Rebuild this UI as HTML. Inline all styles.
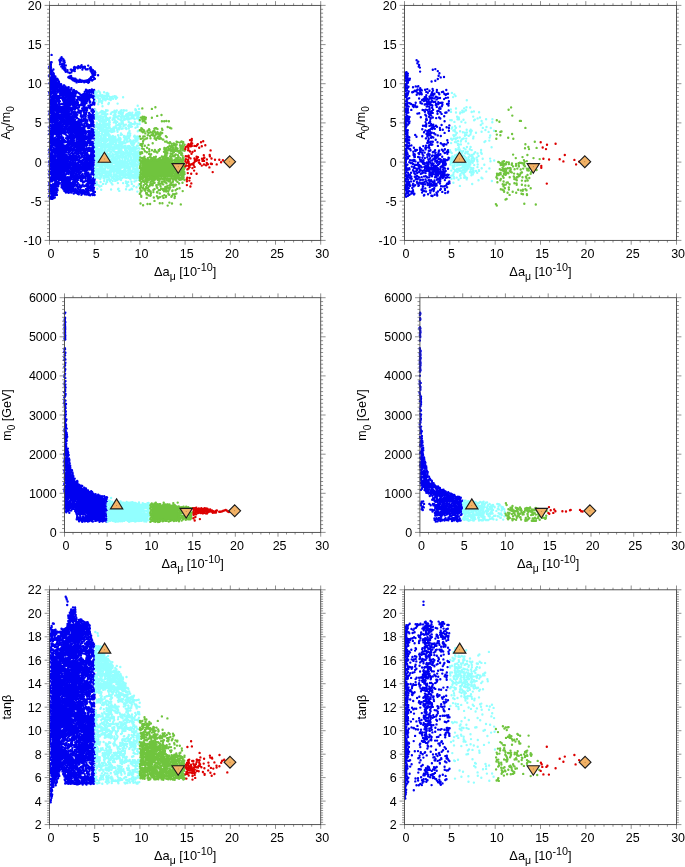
<!DOCTYPE html>
<html><head><meta charset="utf-8"><title>chart</title>
<style>html,body{margin:0;padding:0;background:#fff}svg{display:block;will-change:transform}text{font-family:"Liberation Sans",sans-serif;font-size:12.5px;fill:#000}</style>
</head><body>
<svg width="685" height="867" viewBox="0 0 685 867">
<rect width="685" height="867" fill="#fff"/>
<path d="M50.8 67.5h0.5M50.8 68.5h0.8M50.8 69.5h1M50.8 70.5h1.2M50.8 71.5h1.2M50.8 72.5h1.5M50.8 73.5h1.8M50.8 74.5h2.5M50.8 75.5h3M50.8 76.5h3.8M50.8 77.5h4.2M50.8 78.5h5M50.8 79.5h5.5M50.8 80.5h6.2M50.8 81.5h6.8M50.8 82.5h7.5M50.8 83.5h8.5M50.8 84.5h10M50.8 85.5h11.8M50.8 86.5h13.5M50.8 87.5h15.2M50.8 88.5h6.2M58.2 88.5h10.2M50.8 89.5h5.2M59.2 89.5h11M51.2 90.5h4.8M59.5 90.5h10.8M89 90.5h2.8M51.8 91.5h5.2M59.8 91.5h11.5M71.8 91.5h2.8M86.2 91.5h3.5M51 92.5h5.8M60.8 92.5h14M85.5 92.5h3.2M52 93.5h4.2M61 93.5h13.2M84.8 93.5h3.8M52.8 94.5h4.2M60.5 94.5h1M62 94.5h12.2M84 94.5h5.2M51.8 95.5h6.2M63 95.5h11.2M81.5 95.5h8.8M50.8 96.5h5.5M66.2 96.5h8M80.5 96.5h8.5M90.5 96.5h2.8M50.8 97.5h4.5M67.2 97.5h7M78.5 97.5h9.5M50.8 98.5h4.5M67.2 98.5h7M78.8 98.5h2.2M82 98.5h6M50.8 99.5h5M66.2 99.5h8.5M77.8 99.5h2.2M83 99.5h5.5M50.8 100.5h6M57.5 100.5h0.8M63.5 100.5h12.2M76.5 100.5h1.2M83 100.5h3.8M50.8 101.5h7.2M63.5 101.5h13.2M82.2 101.5h3.5M50.8 102.5h6.8M63.5 102.5h13.2M82.5 102.5h2.8M50.8 103.5h6.8M63 103.5h14M82.8 103.5h1.5M92 103.5h1.2M50.8 104.5h7.8M63.2 104.5h13.2M81.8 104.5h1.5M50.8 105.5h8M63.5 105.5h7M71.5 105.5h4M50.8 106.5h9M62.8 106.5h6.8M72.5 106.5h3.8M50.8 107.5h19.2M72 107.5h3.5M83.2 107.5h1M50.8 108.5h23.8M83.5 108.5h2.2M50.8 109.5h4.2M55.5 109.5h18.5M83.2 109.5h2.5M91.5 109.5h1.2M50.8 110.5h3.2M56.5 110.5h13M71.8 110.5h1.5M82.2 110.5h3.2M92 110.5h1.2M50.8 111.5h2.8M61 111.5h7.5M72.8 111.5h1M79.2 111.5h2.8M83 111.5h1.8M50.8 112.5h3.8M62 112.5h6.2M73 112.5h1.2M79 112.5h2M84.2 112.5h0.8M50.8 113.5h6M62.5 113.5h6.8M50.8 114.5h7.5M61.8 114.5h8.2M74.2 114.5h0.5M92.8 114.5h0.5M50.8 115.5h8.5M60.8 115.5h10M73.2 115.5h2.5M84.5 115.5h1.2M88.5 115.5h1.8M91.8 115.5h1.5M50.8 116.5h14M68 116.5h8.2M89 116.5h4.2M50.8 117.5h13M69 117.5h6M89.2 117.5h4M50.8 118.5h14M68.2 118.5h6M90.2 118.5h3M50.8 119.5h6.5M58.5 119.5h7.2M67.2 119.5h7M84.5 119.5h0.8M91 119.5h2.2M50.8 120.5h5.5M59.5 120.5h15M78.8 120.5h1.2M84.5 120.5h1.8M50.8 121.5h6M59 121.5h16.5M77 121.5h2.8M84.2 121.5h2.2M50.8 122.5h0.5M53 122.5h26.5M84.2 122.5h2.8M54 123.5h8.8M64.5 123.5h1.2M67.5 123.5h13M83.2 123.5h4.8M91.5 123.5h1.2M53.2 124.5h8.5M68.5 124.5h14M83.5 124.5h2M87.5 124.5h1.5M90 124.5h3.2M50.8 125.5h10.2M69.2 125.5h12.2M88.5 125.5h3M50.8 126.5h11M68.5 126.5h12.8M89 126.5h1.2M50.8 127.5h12M64 127.5h2M67.5 127.5h14.5M50.8 128.5h32.5M50.8 129.5h32.2M50.8 130.5h14M67.2 130.5h16.8M92 130.5h1M50.8 131.5h13M68.2 131.5h7M76 131.5h9.5M89.2 131.5h4M50.8 132.5h10.8M69 132.5h5.2M77 132.5h9.2M87 132.5h5.2M50.8 133.5h9.8M69.5 133.5h4.2M77.5 133.5h7.8M88 133.5h3.8M50.8 134.5h4M56.2 134.5h4M69.5 134.5h5.2M76.5 134.5h8.2M88.8 134.5h4M50.8 135.5h3M57.2 135.5h3.2M69 135.5h16.8M87.8 135.5h5.5M50.8 136.5h2.2M57.8 136.5h3.5M68.5 136.5h24.8M50.8 137.5h2.8M57 137.5h4.2M66.8 137.5h26.5M50.8 138.5h3.8M56 138.5h5.2M68.5 138.5h7M76 138.5h15.2M50.8 139.5h9.5M69.5 139.5h5M77 139.5h8.2M87.5 139.5h2.8M50.8 140.5h9.5M69.5 140.5h4.2M77.5 140.5h6.8M88.5 140.5h1.5M50.8 141.5h10.2M68.8 141.5h6M76.5 141.5h8.5M88 141.5h2.5M50.8 142.5h12M68 142.5h18M87 142.5h4.5M50.8 143.5h12M67.8 143.5h18.5M88.8 143.5h4M50.8 144.5h12.8M67.2 144.5h18.2M91 144.5h2.2M50.8 145.5h13.8M66.2 145.5h4.5M72.2 145.5h13.8M92 145.5h1.2M50.8 146.5h2.5M54.2 146.5h15.5M73.2 146.5h12M92.5 146.5h0.8M50.8 147.5h1.5M55.2 147.5h14.8M72.8 147.5h1.2M75 147.5h10.5M50.8 148.5h1M54.8 148.5h16.2M71.8 148.5h1.2M76 148.5h10.5M88.5 148.5h1.5M92.5 148.5h0.8M50.8 149.5h2M53.8 149.5h19.5M75.8 149.5h15.2M91.5 149.5h1.8M50.8 150.5h23.5M76.2 150.5h11.5M89.8 150.5h3.5M50.8 151.5h16.2M68 151.5h3.2M71.8 151.5h2M77.2 151.5h4.5M82.5 151.5h4.2M90.8 151.5h2.5M50.8 152.5h15.2M69 152.5h1.2M77.5 152.5h0.5M83.5 152.5h2.5M91.5 152.5h1.8M50.8 153.5h0.8M53.5 153.5h11.8M85.8 153.5h0.5M91 153.5h2.2M54.5 154.5h1M56.8 154.5h8.2M69.8 154.5h0.8M72.2 154.5h2.2M76.2 154.5h0.8M90 154.5h3.2M53.8 155.5h0.8M57.8 155.5h8.2M68.8 155.5h8.5M82 155.5h0.8M86.5 155.5h1.2M89 155.5h4.2M52 156.5h1.8M58.5 156.5h19.8M81 156.5h2.8M85.5 156.5h7.8M51 157.5h3.5M58 157.5h21M82.2 157.5h11M50.8 158.5h4.8M57 158.5h19.5M83.2 158.5h10M50.8 159.5h24.5M83.5 159.5h1.8M87 159.5h6.2M50.8 160.5h18.8M71 160.5h3.2M82.5 160.5h1.8M88 160.5h5.2M50.8 161.5h17.8M72 161.5h2.2M79.5 161.5h4.2M88.2 161.5h5M50.8 162.5h17.8M72.2 162.5h2M78.5 162.5h6M87.2 162.5h6M50.8 163.5h18.8M71.2 163.5h3.8M77.5 163.5h1M80.8 163.5h12.5M50.8 164.5h22.2M74 164.5h3.5M81.8 164.5h10.8M50.8 165.5h21.2M75 165.5h3M81.5 165.5h10.8M50.8 166.5h20.5M75.5 166.5h3.5M80.5 166.5h12.2M50.8 167.5h20.2M74.8 167.5h18M50.8 168.5h19.2M73 168.5h14.8M90 168.5h2.8M50.8 169.5h19M73.5 169.5h13M91 169.5h2.2M50.8 170.5h19.5M72.8 170.5h8M91.8 170.5h1.5M50.8 171.5h13.5M66 171.5h5.2M71.8 171.5h8M92 171.5h1.2M50.8 172.5h12.5M67 172.5h8.5M76.5 172.5h2.8M91.8 172.5h1.5M50.8 173.5h12M69.2 173.5h5.2M77.5 173.5h2M85.5 173.5h2M91 173.5h0.5M92.8 173.5h0.5M50.8 174.5h13M70.2 174.5h4.2M77.5 174.5h3M84.2 174.5h4.2M90 174.5h0.5M50.8 175.5h15M71 175.5h3.5M76.5 175.5h1.2M78.8 175.5h5.2M86 175.5h3.8M50.8 176.5h15M70.2 176.5h3.2M79.8 176.5h3.2M87 176.5h2.8M50.8 177.5h16M69.2 177.5h4.8M81 177.5h1.2M87.5 177.5h3M50.8 178.5h7.8M60 178.5h11M72.8 178.5h2.2M87.2 178.5h4.2M92.5 178.5h0.8M50.8 179.5h6.8M61 179.5h9M73.8 179.5h2.5M87 179.5h6.2M50.8 180.5h0.5M53.2 180.5h3.8M61.8 180.5h7.5M74 180.5h2.8M86.2 180.5h7M54.2 181.5h3.8M61 181.5h9.2M73.2 181.5h3.5M82.5 181.5h0.5M87 181.5h6M55 182.5h3.5M60.5 182.5h15.8M88.8 182.5h4M54 183.5h3.8M61.2 183.5h15M89.8 183.5h3.5M53 184.5h4.5M61.8 184.5h15.5M90.5 184.5h2.8M51.5 185.5h5.5M62.2 185.5h15.2M86.2 185.5h0.5M89.5 185.5h3.8M50.8 186.5h6M62.8 186.5h12.5M87.2 186.5h6M50.8 187.5h5.5M63.2 187.5h11M87.5 187.5h5.8M50.8 188.5h4.5M63.8 188.5h10.5M87.2 188.5h6M50.8 189.5h4.8M64 189.5h11.2M86.5 189.5h1.5M89.8 189.5h3.5M50.8 190.5h5.2M65 190.5h2.2M69.8 190.5h6.8M50.8 191.5h5M70.8 191.5h6.2M81.8 191.5h1.2M85.8 191.5h1M50.8 192.5h4.8M77.5 192.5h9.8M50.8 193.5h4.8M50.8 194.5h4.5M50.8 195.5h4.2M50.8 196.5h3.5" stroke="#0000f0" stroke-width="1.3" fill="none"/><path d="M51.6 54.9h0m10 2.3h0m-2.2 2.9h0m0.5 1.3h0m0.7-2.9h0m0.4 2h0m1.7-1.9h0m0.6 2.5h0m0.2-1.7h0m0.8 1.4h0m-14 1.6h0m0.1 1.7h0m0.3-0.4h0m0.2 0.8h0m0.7-2.2h0m8.4 1.9h0m0.1-2.3h0m2.1 1.9h0m1.1 0h0m0.6 0.1h0m0.8-1.5h0m-15.4 4.3h0m1.1-1h0m0.5 0.3h0m10.4 0.6h0m0.9-1.7h0m0.6 2.3h0m0.9-2.6h0m0.7 1.7h0m1.4-0.9h0m8.2 2h0m0.6-0.5h0m2.1 0.5h0m1.6-1.3h0m0.7 1.2h0m0.7-0.3h0m1.4-0.7h0m0.5-1h0m0 1.5h0m1.9 0.1h0m1.2 0.2h0m0.2-0.3h0m3.3-1.2h0m2.5 1.6h0m-41.3 1h0m1.1 1h0m0.3 0.9h0m0.2-2.3h0m2.4 1.6h0m9.3-1h0m1.6 1.3h0m0.3-2h0m0.7 0.6h0m0.1 0.6h0m2.1 1.2h0m3.2-0.5h0m0.8 0h0m2.2 0.4h0m0.5-1.5h0m0 1.7h0m0.6-2h0m0.1 1h0m2.7-1.2h0m0.2 0.2h0m0.4-0.5h0m2.1 0.1h0m2.1 1.8h0m0.4-1.7h0m2-0.4h0m0.2 0.6h0m0.8 1.2h0m0.1 0h0m1 0.1h0m0.7-0.1h0m2.2-1h0m0.7 1.3h0m0.1 0h0m0.2-1.7h0m0.2 1h0m0.3-0.3h0m1.7 1.7h0m-42.7 1.8h0m0.3-1.4h0m0.4 1.9h0m0.5-1.9h0m0.9 0.3h0m0.9 2.2h0m0.1-0.1h0m11.7-2.6h0m0.2 0.6h0m0.4 0.7h0m1.6-0.3h0m1.1 0.9h0m1.4 0.6h0m1.5-0.6h0m0.8-1.6h0m1.7-0.2h0m1 0.5h0m15.8-0.3h0m0.2-0.1h0m0.7 1.5h0m0.4-0.5h0m0.6-0.5h0m0.1-0.6h0m0.6 2.7h0m1.1 0.2h0m0.3-0.8h0m0.2-1.3h0m0.5 1.2h0m-46 3.7h0m0.1-1.1h0m0.8-1.3h0m2.6 0.9h0m1-0.8h0m0.1 1.4h0m16.5 0.7h0m0.7-0.2h0m21.1-2.3h0m0.1 2.7h0m0.2-2.2h0m0.1 1.8h0m0.1-1h0m0.5 0h0m0.4 0.6h0m1.6-0.7h0m2.9 0.4h0m-47.9 3.4h0m0.8-0.9h0m3.6-0.6h0m0.8 0.9h0m0-1.5h0m0.3 2.9h0m1.3-0.7h0m0.6 0.5h0m10.7-1.9h0m0.8-0.7h0m0.3 1.4h0m0.8-0.3h0m0.9-0.3h0m0.4 1.7h0m0.2-1.5h0m1.3 1.3h0m0.8-0.4h0m0.1 0.2h0m0.3 0.6h0m1.2-0.7h0m13.7 0.9h0m0.3-0.5h0m0.8-0.5h0m0.1-0.2h0m0.6-0.3h0m0.1-0.7h0m0.3-0.4h0m1.3 0h0m0.3-0.2h0m1 0.9h0m1 1.1h0m-44.7 1.1h0m0.2 1.3h0m0.4-0.5h0m0.5 1.7h0m5.5-1.9h0m1.2-0.1h0m0.4 0.3h0m0.6 1.4h0m13.6-2.2h0m0.5 0.4h0m1.5 0.8h0m0.2-0.2h0m1.4 0.2h0m0.1 0.8h0m0.1-2.2h0m0.2 2.8h0m0.3-1.8h0m1.1 0.2h0m0.9 1.1h0m0-0.5h0m0.8-1.6h0m1 0.5h0m0.1 1.5h0m0.1 0h0m0.8 0h0m0.6-0.9h0m0.1 0.5h0m0.1-0.8h0m1.7 0.3h0m0 1.4h0m0.4-1h0m0.9-0.1h0m0.1-0.4h0m0.8 1.1h0m0.9-1.8h0m0.4 2h0m0.6-1.5h0m0.5 1h0m0.3 0.4h0m0.7-1.7h0m1.8-0.7h0m0.5 1h0m1.2-1h0m-43.8 3.6h0m0.6 1.2h0m1 0.8h0m8.3-1.4h0m0.6 0.6h0m1.1-0.3h0m2.6 1.4h0m0.5 0h0m24-2.8h0m-37.9 3.5h0m0.1 1.3h0m0.5 0.9h0m0.3-1.5h0m14.3-0.1h0m0.7 1.1h0m1.6-0.4h0m0.9-0.2h0m2.7 0.9h0m-21.2 2.2h0m0.3 0.7h0m0.2-2.5h0m0.3 2.9h0m4.9-2.2h0m0.6-0.7h0m0.7 2.5h0m0.4-1.8h0m0.6 1.6h0m0.8-0.9h0m0.9 0.1h0m8.6-1.3h0m0.2 0.4h0m2.1 0.5h0m0.5-0.5h0m2 1.3h0m0.5 0.9h0m0.1-1.4h0m2.1 1.3h0m9.9-0.7h0m0.1-0.8h0m1.2 0.6h0m2.1-0.1h0m0.5 1h0m0.4-0.9h0m1.7-1h0m0.1 2h0m2.1-1.5h0m-44.8 2.4h0m0.2 1.4h0m1.5-1h0m0.4 1h0m4.4 0.3h0m0.7-0.4h0m1.3-1.5h0m1.9-0.4h0m0.1 1.7h0m0.5 0.6h0m0.9-1.6h0m0.1 2h0m12.8-2.8h0m0.9 1.2h0m0.1 1.3h0m0.8-0.6h0m0.4-1.4h0m0.5-0.4h0m1.7 1.2h0m1 0.7h0m3.8 0.5h0m1.3-1h0m0.2-1.5h0m2.3-0.1h0m2.1 1.3h0m0.1 1.4h0m1.3-2.2h0m1.2 0.2h0m1.3-0.2h0m0.7 0.9h0m0.9-1.4h0m-44.7 3.9h0m1 0.9h0m4.3 0.7h0m1.9-0.7h0m0.1 1.1h0m1.2-1.2h0m0.1 0.9h0m1.3-1.5h0m2.1-0.3h0m0.3-0.3h0m0.5 1.4h0m0.2-1.5h0m1.6 2.4h0m1.6-0.2h0m0.2-0.8h0m8.6-0.6h0m0.5 0.3h0m2.3 1h0m1.9 0h0m0.7-2.3h0m0.5 0.2h0m1.5 0.5h0m0.1-0.8h0m1.7 0.1h0m5.5 1.7h0m0.6 0.9h0m0.5-2h0m0.5-0.7h0m0.2 2.5h0m0.2-1.3h0m1.8 0h0m1.3 0.2h0m-45.1 3.1h0m0.3-1.4h0m0.1 2.2h0m1 0.3h0m3.9-1.8h0m0.9-0.4h0m1 1.7h0m0.6-0.9h0m1.3 1.2h0m0.1-1h0m1.4-1.1h0m1-0.2h0m0.8 0.8h0m0.4-0.3h0m0.5 1.7h0m1.6-0.8h0m0 0.5h0m1.1 0.3h0m1-0.2h0m0.1-2.2h0m0.9 1.1h0m6.4 0.8h0m0.2-1.7h0m0.3 1h0m2.1 1.3h0m0.9-0.5h0m0.3-0.3h0m0.5-1.3h0m1.3 1.7h0m0.3 0.5h0m1.5-2.2h0m0.1 1.7h0m2.1 0.2h0m4.3-0.3h0m0.3-1.6h0m0.3 1.4h0m0.6-0.2h0m4-1.1h0m0.3-0.4h0m0.6 1.9h0m0.3 1h0m-44.3 1.8h0m0.4-0.3h0m0.5 1.2h0m7.2-1.9h0m1.7-0.1h0m3.6 0.1h0m0 2.2h0m0.3-2.1h0m0.2 1.9h0m12.6-0.3h0m0.1-0.9h0m0.7-0.5h0m0.5 0.9h0m3.7-0.7h0m0.2 0.6h0m1.6 1h0m0.2-2.7h0m2.4 1h0m0.5 1.3h0m0.5-1.7h0m2.6 0.2h0m0.2 1.1h0m0.3-1.1h0m2.6 1.3h0m0.6 0.7h0m0.7-2.5h0m0.7 0.8h0m-44.3 4.4h0m0.2-2.1h0m0.3 0.2h0m0.2 1.4h0m7.9 0.5h0m0-2.7h0m0.1 0.5h0m0.5 0.2h0m0.8 2.2h0m1.1-2.5h0m1.6 0h0m0 2.6h0m7-0.9h0m5.7 0.5h0m1-0.7h0m1.3-0.9h0m0.8 0.5h0m0.5 0.4h0m1.8-1.2h0m0.1 0.9h0m1.3 0.1h0m0.4-0.9h0m1.1 1.4h0m0.4-2.1h0m0.3 1.1h0m3.6 1.1h0m2.1-1h0m0.2 0.3h0m1-0.2h0m1.6-1.3h0m0.9 1h0m0.2-1h0m-44.3 3.5h0m0.1 2h0m0.7-2.4h0m0.3 1.7h0m8.3-1.9h0m1.5 1.5h0m0.6-0.7h0m1.3-0.7h0m6.5 0.8h0m0.7 0.5h0m1.1 1.4h0m1-1.6h0m2.7 1.3h0m1.2-1.1h0m0.4 0.1h0m1.1-0.2h0m1.4-0.6h0m3.2 1.3h0m0.6 0.4h0m1-1.7h0m0.9 0.9h0m0.3-0.5h0m1-0.2h0m0.6 0.8h0m0.7 0.1h0m1.1-1h0m1.7-0.7h0m0 1.6h0m2.3 1.2h0m-42.9 2.2h0m0.4-1.1h0m1.4 0.2h0m1.6 0.6h0m0.9 0.8h0m0.8-1.9h0m1-0.1h0m0.5 0.9h0m0.8 0.8h0m1-1.5h0m1.3 1.5h0m0.9-1.2h0m0.7 1.6h0m0.1-0.4h0m8-0.5h0m1.8-1.1h0m0.3-0.2h0m0.3 1.1h0m1.8 1.1h0m1.7-0.2h0m0.1-2.5h0m0.5 2.6h0m2.2 0.1h0m0.6 0.3h0m0.2-2.7h0m1.1 2.7h0m0-1h0m0.7-0.5h0m1.2 0.6h0m0.2-0.8h0m1.3-0.4h0m2.5-0.2h0m0.8-0.2h0m0.4 1.9h0m0.5-2h0m4.4 0.5h0m0 0.9h0m2.1-0.5h0m0.4 0.8h0m0.5-2h0m-45.1 4.5h0m0.3-0.6h0m1.6-0.8h0m3.8 0.8h0m1.7-0.5h0m1.7 0.1h0m0.5 1.7h0m1 0.3h0m1.3 0.1h0m0.2-1.8h0m0.3 1.1h0m0.6-1.9h0m4.3 2.5h0m2.2-2.3h0m0.7 0.3h0m0.6 1.4h0m1.5-0.3h0m0.1-1.4h0m2.1 0.5h0m0.1 1.2h0m0.9-1.8h0m0.7 2.5h0m0.2-2h0m1.5 1.5h0m3.4-1.2h0m0.4 1.7h0m0.3 0h0m2.4-0.4h0m0.2-2.3h0m0.2 2.7h0m0.5-2.4h0m0.3 2h0m0.9-0.5h0m0.2-1.4h0m3 0h0m0.6 1h0m1.3 1.1h0m1.2 0.3h0m0.6-2.2h0m0.2 2.1h0m1.3-0.1h0m-44.1 2.1h0m0.2-1.6h0m10.2 0.9h0m2.8 1.2h0m1.6-1.1h0m0.1 0.5h0m0.5-1.5h0m1 1.1h0m0.8 0.1h0m1 0.7h0m0.7 0.7h0m3.3-2.3h0m0.3 1h0m1.9 0.6h0m1.1-0.6h0m1.1-1.3h0m0.3 2.3h0m3.7-1.7h0m1 1.2h0m0.5-1.1h0m0.9 0.1h0m2.3 0.9h0m0.3-1.3h0m2.5-0.4h0m0.3 1.9h0m0.3-1.5h0m1 1.1h0m1.2-0.6h0m2.3 0.4h0m0.1 1.3h0m0.1-1.7h0m1 0.9h0m-45.1 1.7h0m0.3 1.9h0m0.2 0.2h0m1.1-2.2h0m5.3 2h0m1-0.9h0m0.7 0h0m7.6-1.4h0m0.3 0.9h0m1-1.1h0m0.9 1.2h0m6.4 1.1h0m0.9-1.3h0m3.4 0.9h0m0.1-1.1h0m1.7 0.6h0m0.2 1.6h0m0.7-0.2h0m0.2-1.7h0m1.5 0.6h0m0.1 0.8h0m0.8-2.3h0m0.6 0.3h0m0.2 1.4h0m0.8-0.4h0m0.8-0.5h0m0.9 1.7h0m0.1-1.1h0m2.2-1.1h0m0.3 1.2h0m0.7-0.7h0m0.3 1.9h0m0.4-1.6h0m0.2 1.3h0m0.3-1.2h0m1.1 0.9h0m1.7-2.3h0m-44.5 4.1h0m0.9-0.6h0m1.1 0.7h0m1.2-0.3h0m4.4-0.8h0m0.7 0.7h0m5.1 1.9h0m0.2-0.8h0m0.4-0.5h0m1.1 1.3h0m1.3-1.1h0m1.1 1.3h0m0.5-0.7h0m0.3 0.5h0m7.1-2.6h0m2.1 0h0m2.2 1h0m1.8 0.6h0m5.6 0.6h0m4.1 0.3h0m0.1-0.9h0m0.6 0.2h0m1.2 0.1h0m0.2-1.4h0m-43.4 3.5h0m0.3-0.5h0m0.9 0.1h0m0.2 0.6h0m1.7-0.8h0m8.8 0.9h0m0.3-0.9h0m0.5 2h0m1-0.4h0m1.2 0.6h0m1-1.9h0m0.4 1.9h0m0.4-0.6h0m1.3-0.7h0m14-1.1h0m0.5 2.7h0m0.2-2.7h0m1.4 1.3h0m0.4 1.2h0m0-1.4h0m1.4 0.3h0m1-1.6h0m1.1 2.1h0m0.2-2.1h0m1.1 1.7h0m0.3-1h0m0.7 1.2h0m1.7-0.6h0m2-0.8h0m0.2 1.5h0m-44.6 0.9h0m1 1.1h0m1 0.1h0m14 1.7h0m1.8-2.2h0m15.5-0.2h0m0 2h0m0.8-0.8h0m0.8-0.1h0m3.8-1.1h0m0.8 0.1h0m2.3 1h0m0.4-0.5h0m1.5 1.1h0m0.6 0.7h0m0.9-0.2h0m-45.2 0.5h0m0.5 2.3h0m0.2-1.8h0m0.8 0.5h0m0.1-0.8h0m9.5 2.1h0m1-1h0m1.6 0.4h0m0.1 0.3h0m1.1-1.9h0m0.2 0.5h0m0.8 1.2h0m1.8-0.3h0m0.7-1.7h0m0.6 2.3h0m6.1 0.5h0m0.2-0.9h0m0.9 0.3h0m0.3-1.3h0m1 1.2h0m8.1-2h0m0.4 0.3h0m0.5 2.4h0m0.4-1.6h0m1.8-0.4h0m1.1 0h0m0.7-0.2h0m1.4 0.8h0m0.1-1.3h0m1.7 2.1h0m0.2-1.5h0m1 1.5h0m0.5-0.1h0m-45.6 1.5h0m1.5 0.3h0m1.9 1.9h0m2.7-2.2h0m1.3 0.7h0m0.1 1.1h0m3.9-1.8h0m0.3 0.4h0m0.6 1.8h0m0.1-2.7h0m2.3 0h0m1.3 0.4h0m1.2 1.5h0m1.3 0.9h0m1 0.1h0m0.6-2h0m5.9-0.2h0m1-0.2h0m1.5-0.3h0m7.9 1.3h0m2.6-0.2h0m0.6-1.1h0m3.4 0.4h0m0.3-0.5h0m0.9 2.1h0m0.3-1.2h0m0.5 0.3h0m-43.8 1.7h0m0.2 1.2h0m0.2 0h0m0.2 1h0m0-1.9h0m2.9 1.5h0m0.5-0.3h0m0.8-0.3h0m2.4-0.8h0m3.8 1.2h0m0.7 1h0m0.3 0.1h0m0.6-1.5h0m3 0.4h0m1.3 0.8h0m0.7-1.8h0m0.1 2.1h0m0-1.8h0m8.7 1.7h0m9.5-0.2h0m4.3 0h0m2.1-0.7h0m1.7 0.3h0m-44.8 3.3h0m0.4-1.2h0m0.3-1.1h0m0.4 1.1h0m9.9-0.1h0m0.9 1h0m1.1-0.6h0m0.6 0.9h0m0.7-2.1h0m0.6 2.4h0m0.9-1h0m0.1 0.7h0m1.2 0.2h0m1-0.9h0m1.1-0.2h0m5.1-0.6h0m2.5 0.5h0m0.1-1.4h0m0.6 2h0m7.2-1h0m0.4-0.7h0m1.1 2.4h0m1.8-0.5h0m0.3-1.3h0m0.7-0.2h0m1.9 0.9h0m2.1 0.8h0m2.2-1.9h0m-44.9 2.8h0m0.6 2.5h0m0.4-2.2h0m11.3-0.1h0m0.4 0.9h0m4 1.3h0m1.2-1.3h0m3.5 1h0m4.6-1.9h0m9.3 1.9h0m1.1 0.2h0m0.5-0.9h0m0.2 0.7h0m1-2h0m1.6 2.4h0m0.7-0.4h0m1-0.2h0m0.5-1.9h0m1.1 1h0m0.5 0.8h0m1.5-0.8h0m-44.6 4.3h0m0-1.4h0m2.8 1h0m0.8 0.5h0m10.5-2.6h0m1.8 0h0m3.7 1.8h0m0.9-0.8h0m0.5 1.2h0m0.9-1.7h0m0.4-0.5h0m1.2 2.5h0m0.4 0.2h0m0.5-1.4h0m11.5-0.9h0m0.6 2.3h0m1.9-0.3h0m1.1 0.3h0m1.8-0.2h0m0.9-1.1h0m0.4-1.3h0m1.1 2.8h0m0.4-1.5h0m0.4 1.2h0m-45.5 1.2h0m1 0.8h0m0.4-1.6h0m2 1.4h0m0.6 0.3h0m1.5-1.6h0m0.2 0.2h0m18 0.3h0m0.5 0.9h0m1.4 0.1h0m0.6-0.4h0m0.4 0.5h0m10.9-1.2h0m0.9 0.2h0m0.3 1.4h0m0.9 0.1h0m1.2-0.1h0m0.7-1.3h0m1 0.5h0m1.7-0.9h0m0.1 1.5h0m0.8-1.1h0m0 0.8h0m-45.1 2.1h0m0.4 1.7h0m1.3-0.6h0m1.2 0.6h0m0.3-1.6h0m3.2 1.8h0m9.7-0.1h0m0.8-2h0m1.8 0.4h0m0.3 0.7h0m0.4-0.7h0m2.2 0.9h0m1 0h0m0-1h0m0.9 1.6h0m1.6-1.5h0m0.2 1h0m1.3-1.7h0m0 1.7h0m1-1.9h0m0.6 2.9h0m0.6-1.1h0m0.2-1.5h0m0.7 1.5h0m1.5 0.1h0m0.2-1.2h0m0.5 0.1h0m0.5 1.9h0m0.8-1.5h0m1.4 0.1h0m0.7 0.5h0m1 0.5h0m1.4-1.3h0m0.5 1.6h0m3.6-1.2h0m2 1.1h0m0.2-2.4h0m0.8 0.4h0m-44.5 4.4h0m0.8-1.6h0m0.7 0.5h0m0.1 0.6h0m0.3 1.4h0m1-2.3h0m0.8 1.3h0m0.7 0.7h0m0.3-1.7h0m0.1 2h0m1.1-2.2h0m0 1.6h0m1-1.1h0m0.6 0.7h0m0.8-1.1h0m0 1.6h0m7.1-2h0m0.2 0.6h0m1.3 0.6h0m0.1-0.9h0m0.2 0.9h0m2.4-1.3h0m0.4 0.5h0m9.3 0.7h0m0.9 1.2h0m1.5-2.1h0m0.2 1.9h0m2.1-1.7h0m1 0.9h0m0.1-0.6h0m2-0.1h0m0.4-0.1h0m1.8 0.2h0m4.3-0.3h0m0.7 0.8h0m0.3-0.9h0m0.1 1.3h0m-44.2 2.1h0m0.4 1.4h0m5-2.3h0m2.3 0.8h0m12.8 1.7h0m4-0.3h0m1.2-0.6h0m0.1 1.2h0m0.8-2.3h0m0.2 1.1h0m2 0.2h0m0.5-1.2h0m0.2 0.3h0m1.5-1h0m1.3 2.5h0m1.1-0.7h0m1.7 0.6h0m0.3-1.2h0m1.5 1.3h0m6.3-2.4h0m0.5 2.1h0m0.1 0.6h0m0.9-0.9h0m-45.6 2.6h0m0.1-0.8h0m1.8 2.2h0m0.2-2.3h0m16.7 0.4h0m1.4 1.3h0m0.3-1.2h0m1.9 1h0m0.7-1.2h0m2.7-0.4h0m0 1.6h0m0.4 0.6h0m1.6-0.2h0m1-2.6h0m0.1 2.2h0m0.2-2.2h0m0.8 1.4h0m1-0.6h0m0.4 0.4h0m0.9-1.1h0m2.6 1.8h0m0.9 0.7h0m0.1-1.6h0m0.6 0.6h0m0 1.4h0m1.4-0.6h0m0.2-2h0m6.4 1.8h0m-44.2 1.7h0m0.5 0.4h0m0.7 0.8h0m0.7 0.4h0m19-1.8h0m1.6 1.3h0m1-1.1h0m0 0.7h0m1.6 1.3h0m0-0.8h0m1.5-0.4h0m2.2-0.8h0m0.7 0.6h0m1.6-0.9h0m0.1 1h0m0.5-0.4h0m0.5-0.5h0m11 0.9h0m0.3-1.2h0m1 1.3h0m-44.2 1.6h0m0.2 1.6h0m0.3 0.6h0m20.2-0.8h0m1.2 0.5h0m0.5-1.3h0m0.3-0.4h0m0.9 0.4h0m0.6 1.5h0m1-1.5h0m3.8-0.6h0m2.2 0h0m6.4 1.9h0m1.5-0.6h0m0.5 1.4h0m1.2-0.1h0m2.3-2.8h0m0.9 1.8h0m-44.5 3.1h0m0.3 0.3h0m1.7-0.4h0m0.1 0.7h0m12.5 0.4h0m0.6-1.3h0m1.5 0.4h0m0.6 0.2h0m4.4-2.2h0m0.2 0.7h0m0.1 1.1h0m1.2-0.5h0m0.6-0.7h0m6 2h0m1.8-0.3h0m0.4-0.3h0m1.3-1.5h0m0.2 0.5h0m0.5-0.7h0m1.1 0.1h0m0.1 0.8h0m1.3 1h0m0.1-1.8h0m0.6 1.7h0m1-2h0m4 0.1h0m0.8 1.4h0m0.9-1.5h0m0.6 2.7h0m0.3-2h0m0.6 0.3h0m-45.3 4h0m1.1-0.9h0m12.5-1.1h0m1.1 2h0m0.9-0.4h0m1-0.2h0m0.9-0.9h0m0.6 0.4h0m1.1 0.5h0m0.1-1.1h0m2.4 1.8h0m3.8-1.1h0m0.2 1.7h0m1.2-2.4h0m0.3 2.4h0m0-0.9h0m0.3-2h0m0.5 2.1h0m2.5-1.3h0m2.1 1.6h0m0.4-1h0m0.4 1.4h0m2.1-2h0m0.8 0.2h0m2.2 0.3h0m0.4-1.2h0m0.7 2.3h0m0.9-0.5h0m1 0.3h0m0.8-2h0m1 1.4h0m0.2 0.2h0m0.9 0.4h0m-44.3 2.9h0m1.1-0.2h0m8.6 0.4h0m6.2-2h0m0.6 1.6h0m1.9-0.1h0m1 0.9h0m0.2-0.7h0m1.6-1.6h0m0.9 2.1h0m2.3-1.5h0m0.4 1.4h0m0.7-1.3h0m1.5 0.3h0m0.6-0.8h0m0.3 1.5h0m0.2-1.9h0m1.6 2.2h0m0.1-1.6h0m0.7 0.9h0m0.1 1h0m2.3-1h0m0.5 1h0m0.3-0.8h0m1.1 0.2h0m0.4-1.2h0m0.6-0.6h0m0.8 0.5h0m0.6-0.4h0m1.1 1.8h0m0-0.8h0m1.7 0.1h0m1.3-0.1h0m3.4 0.5h0m0.8 1h0m-44.9 1.1h0m0.6 1.9h0m0.1-2.1h0m0.9 1.4h0m0.5 0.6h0m1-1.3h0m4.6-1h0m1 0.9h0m1.8-0.2h0m1.5 1.1h0m5.5-2.2h0m2.2 2.4h0m0.9-1.4h0m0.2-0.8h0m0.5 0.2h0m1.7 0.5h0m1 1.4h0m2.1-1.6h0m0.3-0.5h0m1.4 1.1h0m2.7 0.5h0m0.5 0.6h0m0.4-0.5h0m0.3-1.1h0m0.6-0.7h0m0.5 2.8h0m2.6-0.4h0m0.1-2.5h0m0.2 1.8h0m6.6-1.7h0m1.6-0.1h0m0.1 1.8h0m0.3 0.6h0m0-0.9h0m-45 2.6h0m0.1 1.2h0m3.5 0.3h0m0.8-0.1h0m1.1-1h0m0.5-0.7h0m2 1.4h0m1.2-2.1h0m0.3 1.3h0m0.8-0.1h0m0.1 0.6h0m11.6-0.3h0m1.8-1.7h0m3.7 0.2h0m0.9 1.3h0m5.3-0.8h0m1-0.4h0m3 2.1h0m0.6-2h0m0.8 1.7h0m0.4-0.9h0m1.2 0.7h0m2.2-1.3h0m0.5 1h0m0.4-1.4h0m0.3 1.8h0m1.3-0.2h0m-45.4 2h0m0.8 1.3h0m1-1.4h0m0.1 1.1h0m5.4-0.4h0m1.2 0.5h0m0.4-1.8h0m0 1.3h0m3.3 1.4h0m0.1-2.1h0m0.4-0.6h0m1 1.8h0m13.2-0.7h0m0.4 0.6h0m0.3-1.7h0m0.1 1.4h0m1 0.6h0m1.1-0.2h0m0.2-1.6h0m0.3 1h0m0.4 1.5h0m1-1.2h0m0.3 0.9h0m0.2-1.3h0m1.1-1.1h0m0 0.9h0m1.4 0.8h0m0.9-0.6h0m1.1 0.1h0m0.4-1.3h0m0.9 2.4h0m0.6-0.8h0m0.5-0.8h0m4.3 1.9h0m0.6-2.1h0m-43.8 4.8h0m0.1-1.8h0m1.7 0.9h0m4 0.9h0m0.6-1.7h0m1.3 0.8h0m0.3 1.2h0m5.1-2.2h0m0.7 1.3h0m1 0.5h0m5 0.2h0m5.9-1.3h0m0.6 0.8h0m1.3 0.6h0m0.7-2.1h0m0.7 1.5h0m1.6-0.4h0m0.1 0.3h0m2 0.9h0m1.4 0h0m2.3-1.4h0m0.7 1.1h0m0.7-1.5h0m0.1 1.7h0m1.3 0h0m3.1-0.5h0m1.7 0.1h0m0.4-2h0m-44.6 3.8h0m0.5 1.8h0m1-2.6h0m0.2 2.4h0m4.7-0.4h0m0.7-1.8h0m0 0.2h0m0.2 1.3h0m7.7-1.6h0m1.2 1.1h0m0.3 0.5h0m1-0.4h0m0.4-0.7h0m1.1-0.5h0m0.1 1.9h0m2-0.4h0m0.1-0.4h0m1 0.6h0m2.2 0.9h0m0.9-1.1h0m0.2-0.5h0m1.1 0.1h0m0.3 0.9h0m1.1 0.4h0m0.3-1.3h0m1.6 0.2h0m0.3-1.3h0m1.4-0.2h0m0.1 2.4h0m0.4-1.1h0m1 0.5h0m0.9 0.3h0m0.2-1.8h0m1.3 1.6h0m0.1-1h0m1.1-0.5h0m0.8 1.2h0m0.3 1.2h0m0.2-1.9h0m1.3-0.9h0m0 2.3h0m2.2-2.5h0m2.1 0.8h0m0.4 1.4h0m1.5-0.7h0m-45.6 4h0m1.3-2.4h0m5 0.1h0m0.1 1.4h0m1.2-0.2h0m20.7-1.1h0m1.2 0.5h0m2.6 0.4h0m1.6-1.2h0m2.1 0.9h0m1.8 0.2h0m0.8-0.4h0m1.4 0.8h0m0.7-0.5h0m0.4 0.7h0m0.1-0.3h0m1.6-0.8h0m0.9 1h0m0.7-0.7h0m1.1 0.6h0m-44.7 3.8h0m0.2-2.1h0m1.9 2.2h0m0-1.7h0m0.5-0.1h0m0.9 1.2h0m1.4-0.8h0" stroke="#0000f0" stroke-width="2.4" stroke-linecap="round" fill="none"/>
<path d="M95.4 91.4h0m3.1-0.4h0m-3.3 2.1h0m0.6 1h0m1.1-1.5h0m2.6-0.7h0m0.6 1.2h0m4-0.8h0m2.4 1h0m0.1 0.7h0m0.7-1.1h0m1 0.8h0m-12.7 1.5h0m1.2 0.1h0m0.7 1.3h0m0.4 0.1h0m0.3-1.2h0m2.1-0.7h0m0 1.6h0m0.5-0.3h0m0.2-0.4h0m1.3-0.5h0m0.1 1.9h0m1.7-1.4h0m1.1 0.8h0m0.9-0.6h0m0.8-0.6h0m0.2 1.6h0m1.3-1.2h0m1.3 1.2h0m1.6 0.3h0m1.4-0.6h0m1.8-0.5h0m0.4 0.9h0m0.9-0.5h0m7.3 0.7h0m-27.7 0.6h0m2.4 0.3h0m0.3 0.2h0m1 2h0m0.7-0.5h0m0.2-0.9h0m2.2-1.3h0m0.6 1.3h0m1.4-1.1h0m0-0.1h0m0 1.8h0m1.4 0.7h0m0.6-1.2h0m0.8-0.1h0m2.1 0.4h0m0.4-0.6h0m1.2 1.4h0m0.6-1.7h0m1.8 0.3h0m2.8 0.1h0m1.2-1.2h0m-21.5 3.4h0m3.2 0.9h0m1.9-0.3h0m0.9-0.4h0m0.4 2.1h0m0.3-2.1h0m6.6 1.7h0m-10.7 1.3h0m4.3 2.1h0m5.9-2.3h0m9.2-0.4h0m20.1 2.2h0m-42.5 3.6h0m40.2-0.1h0m3.6-0.3h0m-42.6 3h0m0.2-0.1h0m3.6 0.5h0m1.4-1.4h0m1 0.2h0m1.2 0.7h0m1.5 0.6h0m0.3-0.7h0m0.4-1.7h0m1.6 0.4h0m5.1 1.6h0m1.8-1.3h0m0.4 1.7h0m1.2-0.7h0m0.7-1.3h0m2.2 1.7h0m1.6-1.5h0m0.6 1.5h0m0.3-2h0m1.5 2.2h0m0.8-2.3h0m0.6 0.4h0m2.1 0h0m9-0.2h0m0.5-0.3h0m1.5 1.9h0m1.7 0.2h0m-43.1 1.5h0m1.2 0.5h0m0.9-0.6h0m3.7-0.8h0m0.3 1.5h0m0.7 0h0m0.7-1.6h0m1 0.2h0m0.1 1.5h0m1.4-0.2h0m1.3 0h0m3.4-0.2h0m0.7-1.3h0m2.1 2.8h0m1-1.4h0m0.9 0.3h0m3.2-1.4h0m1.9 1.2h0m0.4-1.4h0m0.3 0.7h0m0.8 1.7h0m0.5-1.1h0m3.5 1.5h0m0.1-0.8h0m1-0.4h0m0.7 1.2h0m0.6-2.4h0m0.6 2.2h0m0.7-1.2h0m0.1-1.4h0m1 2.7h0m0.2-1.3h0m1.2-1.5h0m0.4 2.4h0m2 0.5h0m0.6-1h0m0.6-1.5h0m0.1 2.3h0m0.4-0.3h0m1.1-1.6h0m0.9 0.9h0m1.2-0.8h0m-43.9 2h0m0.2 2.2h0m1.3-0.4h0m0.6-1.4h0m0.8 1.3h0m1-0.3h0m0.6-1.1h0m0.7 2.4h0m0.2-1.7h0m0.1 0.1h0m2 0.3h0m1.7-0.4h0m1-0.2h0m0.2 1.6h0m1.3 0.2h0m2.8-0.3h0m3.1 0.4h0m0.3-0.4h0m1.5-0.8h0m0.4-1.3h0m0.6 1.3h0m1.5-0.3h0m0.3 1.7h0m0.9-2.7h0m1.8 1h0m0.9 1.1h0m0.2 0.4h0m0.3-1.8h0m0.6-0.5h0m1.2 0.9h0m0.4 1.1h0m0.9-1.8h0m1.7 1.3h0m1.5-0.2h0m3.5 1.1h0m0.1-0.8h0m1.1-0.2h0m0.1-1.8h0m0.8 2.7h0m3 0h0m0.6-1.8h0m0.5 0.6h0m0.6-1.3h0m0.2 2.2h0m-42.9 1.2h0m2.3 0.4h0m0.7 1.1h0m1.1-1.1h0m0.4 0.7h0m1.7 0.4h0m0.7-1.8h0m0.1 1.9h0m1.6-1.3h0m0.1 0.8h0m1.6-0.8h0m0.3 0.5h0m1.5-0.2h0m0.9-0.9h0m0.2 2.1h0m0.4-0.4h0m3.1-0.8h0m1.9-0.7h0m0.5 1.5h0m1.2 1h0m2.5-2.4h0m1.6 0.6h0m1.5 0.9h0m2.1-1h0m0.6 0.2h0m0.1-0.6h0m0.9 0h0m2.1-0.3h0m0.2 0.7h0m1.5-0.4h0m0.9-0.7h0m4.5 0.7h0m4.2 0.3h0m0.4-0.4h0m0.3 2.4h0m-42.7 2.6h0m0-1.3h0m1.3 1.6h0m1.7-0.8h0m0.3-1.9h0m1.3-0.1h0m1.1 0.6h0m0.2 2.2h0m0.6-1.2h0m0.5 0.2h0m0-1.1h0m1.3 1.5h0m0 0.5h0m0.8-2.7h0m0.6 2.6h0m1.1-0.4h0m1.6-1.1h0m0-1.2h0m0.4 2.9h0m0.1-2.2h0m4 0.2h0m1.1-0.2h0m1.1 0.8h0m1.2-1.1h0m2.1 1.7h0m2.1-1.7h0m0.2 1.8h0m1.1-2h0m0.3 1.8h0m5.7-1.6h0m0.7 0.6h0m1.6 0.7h0m0.2 1.3h0m0.8-0.5h0m2.1 0h0m0.3 0.2h0m0.4-1.9h0m0.6 1h0m2.2 0.7h0m2.1 0.1h0m-44.1 1.8h0m0.6 1h0m0.4-1.5h0m0.1 1.5h0m1.3 0.6h0m1.3-2h0m0.8-0.3h0m0.1 1h0m1 0.7h0m0.2-1h0m0.7-1.4h0m1.4 1.4h0m0.1 0.9h0m0.4-1.8h0m0.6 1.3h0m0.1 0.6h0m1.6-1.1h0m1.7-0.5h0m1.1 1.4h0m0.3-1.5h0m0.2 2.1h0m5.9-0.8h0m0.8-1.3h0m1.8-0.2h0m0.4 0.3h0m0.9 0.3h0m0.5-0.7h0m0.2 2.5h0m0.6-1.3h0m2.7-0.1h0m0.4-1.3h0m0.5 0.8h0m0-0.4h0m1.7-0.5h0m2.3 1.3h0m0.1 0.4h0m0.7-1.4h0m1.1 0.7h0m0.4 1.3h0m1.4-0.3h0m5.4-1.2h0m0.2 1.4h0m-42.4 3.7h0m0.3-1.1h0m2.6-0.6h0m1.8-0.9h0m0.1 1.2h0m1-0.2h0m0.3 1.5h0m1.5-2.2h0m0.1 2.2h0m1.3-0.9h0m0.7 0.4h0m0.9-0.6h0m0.9-1h0m0 1.8h0m0.6-1.9h0m0.9 0.1h0m1.1-0.2h0m1.4 1.7h0m0.1-0.9h0m1 0.8h0m0.4-0.8h0m0.3 0.5h0m1.1-1.9h0m0.5 1.1h0m0.1 1.3h0m2-2.2h0m1 2.3h0m1.3-1.9h0m0.6 1.3h0m2.4-0.7h0m1-0.6h0m0.2 0.4h0m2.7-0.4h0m0.5-0.3h0m0.5 1.2h0m2.4-0.5h0m6.7-0.8h0m-39.9 3.7h0m1.2 0.3h0m0.2 1.8h0m0.2-2.9h0m1.7 2.8h0m0-1.5h0m1.3-1.2h0m2 1.3h0m0.4-0.6h0m1.5 0.2h0m0.9 1.4h0m0.4-2.2h0m0.3 0.6h0m0.8 1.3h0m0.8-1.2h0m0.8 0.8h0m0.5 1.2h0m0.1-2.7h0m1.6 0.5h0m1.2 0.7h0m1.2-0.3h0m0.8-0.8h0m0.9 0.3h0m3.1 0.5h0m3.5 1.7h0m7.1-0.2h0m0.7-0.7h0m0.4 0.3h0m0.3-1.9h0m0.7 2.6h0m7.6-2.2h0m0.8-0.5h0m-43.1 2.8h0m0.6 2.8h0m0.2-1.3h0m1.2-0.1h0m0.3 1.2h0m0.7-1.1h0m0.3 1.2h0m0.6-1.2h0m0.2-1.5h0m0.3 2.3h0m1.1 0.4h0m1-2.7h0m0 0.5h0m0.3-0.5h0m1 1.8h0m0.2 0.4h0m1 0.1h0m0-1h0m1.8 0.2h0m0.3-0.8h0m0.6-0.4h0m0.7 1.7h0m1.2 0.2h0m0.4-1.2h0m3.4 1.3h0m5.1-0.6h0m2.6-0.2h0m1.3-0.5h0m2.1 1.4h0m0.4 0.1h0m3.3-0.2h0m0.1-0.7h0m1.8 1.3h0m0.5-1.2h0m4 1.2h0m0.6-0.7h0m3.2 0.6h0m-41.7 1.4h0m0.6 1.1h0m1.4-1h0m0.8 1.3h0m1.5-0.7h0m0.4-1.5h0m1 1.7h0m1.4-1h0m0.3 1.7h0m0.3 0h0m0.8-1.1h0m0.8 0.3h0m0.1-1.8h0m0.1 0.8h0m1.8 1.6h0m1.6-1.9h0m0.3 1.4h0m0.9-1.8h0m0.4 2.3h0m0.1-2.7h0m0.3 2.2h0m0.5-1.7h0m0-0.3h0m1.2 1.1h0m0.5 1.5h0m1 0h0m0.1-2.2h0m0.8-0.5h0m0.3 1h0m0.8 1.8h0m1.6-0.2h0m1-1.8h0m1.3 0.9h0m0.4 0.6h0m3.3-1.7h0m1.2 1.3h0m0.1-1h0m0.8-0.8h0m0.6 2.5h0m0.1-1.3h0m0.7 1h0m0.6-0.7h0m0.9-0.2h0m6.4 0.4h0m0.3-1.2h0m1-0.6h0m0.2 1.3h0m1.2-0.7h0m0.1 1.3h0m0.6-0.8h0m-43.4 4.7h0m0.2-1.8h0m0-0.8h0m1.8 2.3h0m0.4-2.2h0m1.3 2.2h0m0.2-1h0m1.5-1.3h0m0.9 1h0m1-0.5h0m0.7 1h0m1.5 0.2h0m0.2-1.4h0m1 0.2h0m0.4 1.4h0m0.2-0.4h0m0.6-0.4h0m1.7-0.8h0m0.7 0.7h0m0.4 1h0m1.2-1.8h0m1.2 2.4h0m0-0.4h0m0.4-0.8h0m1.6 0.9h0m0.1-1.3h0m0.9 0h0m0.4 1.3h0m1-1.6h0m1.7 1.7h0m0.3-2.1h0m0.4-0.4h0m1.1 1.1h0m0.2 1.4h0m1.6 0h0m1.9-0.6h0m0.4-1.3h0m2.3 1.7h0m0.1-1.4h0m0.8 0.9h0m1.6-0.3h0m0.3 0.1h0m0.7-1.3h0m0.8 2.1h0m0.8-0.7h0m1.4 1h0m0.3-2h0m1.7 0.4h0m0.3 0.7h0m0.6-0.1h0m0.6-1.4h0m0.7 0.5h0m-42.4 4.1h0m0.8-0.9h0m0.9 1.7h0m1.1-1.9h0m1.4 0.4h0m0.4-1.4h0m0 2.9h0m1.4-2.9h0m0.4 2.4h0m0.4-0.9h0m0.8 1.3h0m1-1.7h0m0.3 0.9h0m0.9-0.7h0m0.6-0.4h0m0.1 1.7h0m1.9-0.3h0m0.4-0.7h0m0.4-0.3h0m0.9 0.9h0m0.4-1.2h0m0.8 1.3h0m0.9-1.8h0m0.4 1.8h0m1.5-1.5h0m0.5 1.2h0m1.4 0.8h0m0.9 0.2h0m0.2-2.1h0m1.7 1.8h0m1.2-0.4h0m1.4-1.2h0m1 0.6h0m0.8-0.1h0m1.5-1.6h0m0.2 0.7h0m1.4-0.3h0m5.8 0.6h0m0.7 0.9h0m0.4-0.3h0m0.7 0.8h0m0.9-1h0m0.5-0.8h0m4.2-0.2h0m-42.8 3.7h0m0.5 0.7h0m0.7 0.2h0m0.3-0.7h0m0.7 1.6h0m0.7-2.8h0m0.4 0.3h0m1.2 0h0m0.5 2.1h0m0.5-1.8h0m1 1.2h0m0.6-0.3h0m0.3-0.5h0m0.7 0.5h0m1-0.5h0m0.9-0.4h0m0.6 1.2h0m0.6-0.7h0m1 0.6h0m1.3 1h0m0.3-1.9h0m0.5 1h0m0.1-1.6h0m1.6 1.1h0m0.7 0.9h0m1.2-0.5h0m1.7-0.2h0m0.3 1h0m0.3-1.6h0m1.3 0.7h0m1.4 0.8h0m0.4-1.4h0m1 1.8h0m0.4-2.7h0m1.1 1.8h0m1-1.3h0m0.5 1.4h0m1.2-1.4h0m1 1.4h0m0.3-1.8h0m0.2 1.5h0m1.9 0.7h0m0.3-1.7h0m1-0.3h0m0 1.7h0m1.3 0.5h0m0-1.5h0m1.8 1.4h0m0.4-2.5h0m0.9 0.1h0m0.4 1.6h0m1.2 0.2h0m1.4-0.3h0m0.7-1.4h0m0.3 2.7h0m0.6-2.7h0m0.3-0.2h0m0.8 2.5h0m-43.9 1.2h0m0.9 1.6h0m0.5 0h0m0-1.7h0m2 1.2h0m0.6-1.3h0m0.8 0.3h0m0.3 1.8h0m1 0.3h0m0.1-1.4h0m0.3-0.6h0m1-0.7h0m0.9 2h0m1.2-0.7h0m0.4-1.5h0m0.5 0.5h0m0.8 2h0m1.2-0.5h0m0.4-0.7h0m0.2-0.1h0m1.3 1.1h0m0.2-0.2h0m0.5-1.9h0m1.8 0.9h0m0.3 0.6h0m1.2 0.2h0m0.2-1.7h0m0 2.6h0m1.3-2.6h0m1.3-0.3h0m1.2 0.1h0m1 2.4h0m0.3-1.2h0m1.7 0.5h0m0.5-1.7h0m0.4 1.5h0m0-1.3h0m3.6 0h0m0.1 1.3h0m0.7 1.1h0m0.6-2.6h0m0.5 2.2h0m1.4-2.3h0m0.9 1.3h0m0.4 1.2h0m1.5-1.2h0m0.1 0.5h0m0.9 0.9h0m0.1-1.6h0m1.1 1.8h0m0.3-2.1h0m1.9 1.9h0m0.1-2h0m0.8 2.2h0m0.1-2.9h0m2.2 2.8h0m0.9-2.5h0m-43.7 5.2h0m0.1-1.5h0m0.7 0.2h0m0.1 0.2h0m1.4-0.3h0m0.3 1.5h0m1.1-1.7h0m0.3 1.9h0m1.7-1.4h0m1.3-0.7h0m0.5 1.4h0m0.8-1.9h0m1.8 2h0m0.6-1.9h0m1.1 2h0m0.4 0.2h0m1.7-0.3h0m0.6-1.4h0m0.7-0.4h0m1.4 1.8h0m2.4-2h0m0.4 2.6h0m1.1-2.2h0m0.2 1.2h0m0.2-0.1h0m0.3-1h0m1.1 1h0m1-0.7h0m1.1-0.6h0m0.3 1.8h0m0.6-0.5h0m0.7-1.7h0m0.5 2.8h0m1-2.2h0m0.4 2.1h0m0.2-0.7h0m0.1-0.8h0m1.7-1.1h0m0.2 1.3h0m1.5 1h0m0.3-1.4h0m1 0.6h0m0.5-0.8h0m0.9 1.5h0m0.7-1h0m1.2 1.2h0m1.4 0.5h0m0.4-2.9h0m0.1 1.8h0m0.2-1.6h0m0.3 2.2h0m1.5-1.2h0m0.9 1.2h0m0.8-2.2h0m0 1.3h0m1.8 0.2h0m-43.2 1.6h0m0.1 2h0m0.4-0.5h0m0.6-1.6h0m1.1 2.7h0m0.3-1.5h0m0.4-0.9h0m1.1 1h0m0.2-0.6h0m0.8 1.3h0m0.2-1.4h0m0.9 0.4h0m0.8-1.2h0m0.9 0.5h0m1.3-0.1h0m0.4 1.9h0m1.4 0.3h0m0.4-2.5h0m0.4 2.1h0m0.3-0.6h0m1.1-1.2h0m0.1 0h0m1 1.5h0m0.8-0.9h0m0.7 1.1h0m0.8-1.6h0m0.5 1.5h0m0.8 0.6h0m0.3-2.7h0m2 1.6h0m0-1.3h0m1.4 0.3h0m0.2 1.5h0m0.5-0.3h0m0.9-0.6h0m0.8 0.3h0m0.1 1.5h0m0.3-2h0m0.8 1.6h0m1.4-1.5h0m0.3 1.1h0m1.8 0.3h0m0.5-1.7h0m0.6 0.1h0m0 1.8h0m1.9-1.7h0m0.2 0.5h0m1.3 0.4h0m0.2-1.8h0m0.8 1.3h0m0.3-1.4h0m0.6 2.6h0m0.2 0.2h0m1.1-2.6h0m1 1.3h0m0.6-1.4h0m0.6 1.4h0m1.1 0.2h0m0.5-1.3h0m0.7-0.1h0m0.2 1.7h0m0.4 0.9h0m1.4-1.9h0m0.2 0.3h0m-43.9 2.2h0m0.2 1.1h0m1.1-0.8h0m1 1.2h0m0 0.8h0m0.3 0.1h0m0.3-1.2h0m1.5-0.4h0m0.1-0.7h0m3.3-0.3h0m0 2.1h0m1.1-1.2h0m2.2-0.9h0m1.5 2.2h0m0.2-2h0m1 1.1h0m0.3-1.1h0m0.1 2h0m1.2 0.5h0m0.7 0h0m0.5-1.8h0m0.3-0.8h0m0.9 0h0m0.4 1.1h0m0.3-0.4h0m0.7 1.1h0m0.7-2h0m1.1 2.5h0m0.2-1.4h0m0.6 0.2h0m1-1.5h0m1 0.7h0m0.6 1.7h0m2.5-1.8h0m0.1 1.7h0m0.3-2.1h0m2.3 1.2h0m0-0.3h0m0.7 0.6h0m0.2-1h0m1.2 0.1h0m1.1 1.6h0m0.3-2.2h0m0.1 2.4h0m2.3-1.4h0m0.3-0.7h0m0.1 2h0m2.2-0.8h0m0.4-1.7h0m0.7 2.4h0m0.8-1.7h0m0.6 1.1h0m0.2-1.1h0m1 1.1h0m1.6-0.3h0m0-0.8h0m0.2 2.2h0m-42.7 1.7h0m0-0.7h0m0.4 1.4h0m1.2-0.3h0m2.7-1.9h0m0.2 0.2h0m1.1 2h0m0.8 0.4h0m0.4-2.2h0m0.4 1.5h0m1.2-1.1h0m0.2 1.5h0m0.3-0.5h0m2.2-1.1h0m0.3 1.2h0m0.6-0.3h0m2.1-0.4h0m0.8 0.4h0m1.2 1.1h0m0.3-2.5h0m1.1 1.6h0m0.4 0.7h0m0.6-2.3h0m0.3 1.1h0m0.3-0.2h0m1.6-1h0m0.2 2.6h0m0-1h0m1.5-1h0m0.4 1.2h0m1.1-1.2h0m0.4 1.5h0m1.3-1.9h0m0.3 2h0m0.8-1h0m0.5-0.6h0m0.7 1h0m0.2 0.9h0m0.6-2.4h0m0.6 0.4h0m0.4 2.1h0m0.1-1.5h0m1.1 0.3h0m0.6 1.4h0m0.2-2.8h0m1.5 0.2h0m0.3 1.9h0m0.1-2h0m1.2 2.1h0m0.3 0.1h0m0.8-2h0m0.4 2.4h0m0.8-0.5h0m0.6-1.4h0m0.4 1.5h0m0.8-1.5h0m0.6 0.1h0m0.1-0.4h0m2 0.9h0m0.5-0.6h0m1 1.2h0m-44.3 3.8h0m0.9-2.1h0m0.4 1.3h0m0.4-1.4h0m0.5 1.6h0m0.6 0h0m0.3-2h0m0.6 0.8h0m0.9-0.5h0m0.2 2.2h0m0.9-1.7h0m0.2 1.3h0m0.6-1.7h0m0.4 0.3h0m0.6 1.1h0m1.5-0.9h0m0.3-1h0m0.7 2.4h0m0.9-2.2h0m0.2 0.8h0m0.8 1.7h0m0.8-1.9h0m0.4-0.6h0m0.7 1.7h0m0.4 0.6h0m0.4-0.5h0m0.3-1.4h0m1.6 1.1h0m0.3-1.6h0m1 1.9h0m2.2-0.1h0m0.5-1.7h0m1 2h0m0.1-0.4h0m0.5 0h0m0.4 0.8h0m0.6-2.6h0m1 1.6h0m1-1.1h0m0.3 1.2h0m1.5 0.3h0m0.4-1.4h0m0.1 1.5h0m0.6-2h0m0.4 1.8h0m1.2-1.2h0m1.1 1.2h0m1.6-1.1h0m0.1 1.4h0m1-0.7h0m0.4 1h0m0.4-2.8h0m1.2 0.2h0m0.4 2.7h0m0.3-1.9h0m1.3 0.4h0m0.7-1.3h0m0.7 1.3h0m0.5-0.5h0m0.9 1.7h0m0-0.3h0m0.6-1.9h0m0.4 0.9h0m0 1.3h0m1.5-1.2h0m0.6-1.1h0m0.7 0.1h0m-42.7 4.6h0m0.1 0.3h0m1.1-0.1h0m0.4 0.5h0m1.3-1h0m0.8-0.1h0m1.3 0.3h0m1.2-1.9h0m0 1.9h0m1.4 0.2h0m1.2 0.5h0m0.4-1.3h0m0.3-1.2h0m2.1 1.8h0m1.5-0.9h0m1.1 0.9h0m0-1.7h0m0.6 1.3h0m0.4 1.4h0m0.4-2.2h0m0.8 1h0m0.2-0.9h0m1.1-0.3h0m0.4 0.8h0m1.3 0.5h0m0.9 0.9h0m0.8-0.7h0m1.2-1.7h0m0.1 1.8h0m0.5 0.3h0m1.1 0.2h0m0.2-1.2h0m0.2-0.7h0m1.3 0.3h0m0.5-0.3h0m1.8 0.6h0m0.1-1.3h0m0 2.9h0m1-0.2h0m1.2-1.5h0m0-0.4h0m1.2 0.9h0m0.8 1.3h0m1.1-1h0m0.2 0.9h0m0.2-0.7h0m1.8-2.1h0m1.2 2.2h0m0.4-1.6h0m0.6 1.5h0m2.2-0.4h0m0.3 0.9h0m0.6-2.5h0m0.2 2.1h0m0.3 0.6h0m-42.7 3h0m0.1-2.9h0m0.5 1.4h0m1.2 1.2h0m0.9-1.7h0m1.3 0.9h0m0.3-1.2h0m0.2 2.3h0m0.1-0.9h0m1.2-0.7h0m1.1-0.7h0m0 2.2h0m1.4-1.5h0m0.2-0.7h0m0.7-0.2h0m0.8 0.8h0m0.8 0.6h0m1.3 0.2h0m2.1-0.3h0m0.8-1.1h0m0.1 1h0m0.1 0.7h0m1-0.4h0m0.3 0.3h0m1.1-1.4h0m0.2-0.6h0m1 2.3h0m0.2-0.9h0m0.9-1.3h0m0.6 1.6h0m1 0.6h0m1.4-2.1h0m0.1 0.9h0m1.1 0.5h0m1.1 1h0m0.1-1.3h0m0.8 1.2h0m0.8-0.9h0m1.2-0.4h0m0.8-0.4h0m1 1.2h0m0.8 0.1h0m0.1-0.5h0m2.1-0.5h0m0.3-1h0m1 0.6h0m0.8 0.3h0m0.8 1.3h0m0.5-0.2h0m0.9-1.4h0m0.7 1.4h0m1-0.4h0m0.8 1h0m0.6-2.6h0m0 1.2h0m0.3 1.5h0m1-1.9h0m0.6 1.8h0m0.6-1h0m0.7-0.8h0m0.7 1.5h0m-43.6 1.3h0m0.1 2h0m2.1-0.9h0m0.7-0.7h0m0.3-0.9h0m0 1.7h0m1.1-0.6h0m0.1 1.2h0m1.3-1.5h0m0.7 1.6h0m0.4-1.8h0m0.9-0.7h0m1.3 0.2h0m0.3 0.3h0m0.1 1.9h0m0.2-2.4h0m0.8 1.6h0m1-1.3h0m0.6 0.1h0m0.9 2.3h0m0.8-2.7h0m0 1.2h0m1.4 0.4h0m0.1 0.6h0m0.1 0.5h0m0-1.4h0m2.5 0.2h0m0 0.9h0m1.4-0.2h0m0-0.5h0m1.2-0.3h0m1.1-1.4h0m0.9 0.4h0m1 0.4h0m0.4 1.2h0m0.1-2.1h0m0.9 1.1h0m0.9 0.9h0m0.8-1.3h0m0.8-0.3h0m0.1 0.1h0m0.1 1.8h0m1.4 0.4h0m0.7-1.4h0m0.2 1.2h0m0.3-1.6h0m1.8 1h0m0.5-1.8h0m0.7 1.4h0m0.1-1.4h0m0.7 2.5h0m1.1-0.1h0m0.2-1.9h0m1.2 1.1h0m1.9 0.1h0m1.6-0.1h0m0.3-0.8h0m1.5 0.1h0m1.9 0.2h0m-44.2 3.7h0m0-1.1h0m1.6-0.5h0m0.6 1.3h0m0 0.3h0m1.1 0h0m0.4-0.1h0m0.6 0.7h0m0.9-1.4h0m1 0.4h0m2-1.5h0m0.3 2.5h0m1.4-1h0m0.8-1.5h0m1.1-0.1h0m0 1.9h0m1.6-0.2h0m0.8 1.1h0m1.4-2.1h0m1.4 0.7h0m0.1 0.9h0m0.9-0.3h0m0.2-0.3h0m1.5-0.8h0m1.1 0.5h0m0.2-1.3h0m0.8 1.6h0m0.1 1h0m0-2.5h0m1.8 0.4h0m0.6 1.8h0m0.8-1.5h0m0.3-0.7h0m0.2 2.6h0m1.5-0.3h0m0.2-0.7h0m1-0.3h0m1.4-0.2h0m0.5 0.6h0m0.6-0.1h0m0.3 0.4h0m1.5-2.2h0m0.6 0.6h0m0 1.5h0m0.8-0.2h0m0.5 0.2h0m0.3-0.3h0m2-1.5h0m0.3 1.7h0m0.3-0.5h0m0.6 0.7h0m0.2-2.2h0m0 1.2h0m1.1 1.7h0m0.9-1.8h0m0-1.2h0m0.9 0.4h0m0.4 2h0m0.3-1.2h0m0.5-0.2h0m0.2-0.8h0m0.3 1.8h0m0.6-0.4h0m0.4 1h0m0.3-2.3h0m-39 3.2h0m4 2h0m0.3-2.3h0m2.6 1.2h0m2-0.1h0m0.9 1.4h0m1.2-1.6h0m1.5 1.3h0m1.3-2h0m1.2 2h0m0.7-1.8h0m1.1 1.2h0m1.9-1h0m2.1 0.7h0m4.9 1.5h0m4.5-2.3h0m4.1 2.3h0m1.8-1.1h0m2.6-0.5h0m-42.3 2.2h0m0.3 2.1h0m3.7-2.2h0m2.4 1.9h0m2.8-0.1h0m1.1-2.1h0m0.2 0.3h0m4.4 1.1h0m0.9 1.3h0m5.5-1.3h0m5.2 0h0m3-0.2h0m1.1 1.1h0m1-2.1h0m3.3-0.1h0m0.3 2.1h0m7.2 0.4h0m-43.1 0.7h0m2.8 0.5h0m1.1 1.1h0m1.5-0.7h0m25.4 0.6h0m1.8-1h0m5.1 0.8h0m0.2-0.3h0m2.7 1.2h0m2.2-2h0m-41.4 3.5h0m3.9 1h0m9.9-0.2h0m7-0.2h0m0.4-0.6h0m7.5 0.5h0m3.6 0.7h0m1.9-1.2h0m0.6 0.5h0m-12.8 1.7h0m18.1 0.7h0" stroke="#92ffff" stroke-width="2.4" stroke-linecap="round" fill="none"/>
<path d="M141.2 160.5h31.8M141.2 161.5h31.8M141.2 162.5h31.8M141.2 163.5h31.8M141.2 164.5h31.8M141.2 165.5h31.8M141.2 166.5h31.8M141.2 167.5h31.8M141.2 168.5h31.8M141.2 169.5h31.8M141.2 170.5h31.8M141.2 171.5h31.8M141.2 172.5h31.8M141.2 173.5h31.8M141.2 174.5h31.8M141.2 175.5h31.8M141.2 176.5h31.8" stroke="#70c43e" stroke-width="1.3" fill="none"/><path d="M142.3 108.4h0m9.6 0.5h0m3.5-1.7h0m6.1 7.8h0m-20.6 2.6h0m1.5-0.5h0m0.3-0.3h0m0.9 1.4h0m0.8-1.3h0m1.5 0.8h0m6 0h0m5.3-1.8h0m-17.3 4.2h0m2.4-0.6h0m0.4 1.9h0m1.4-0.7h0m1.4-1.4h0m16.4 2h0m2.3-0.1h0m2.2-0.2h0m2.5 0.2h0m-23.5 1.2h0m0.3 0.5h0m22 4.1h0m-27.8 3.3h0m1.3-0.4h0m0.1-1.6h0m0.9 0.4h0m1.6 1.6h0m5.3-1h0m0.4 0.7h0m4.8-1.2h0m0.8-0.5h0m1.2-0.1h0m1.2 0.9h0m4.5-0.3h0m0.4 1.1h0m7.5-2.2h0m1.4 0.7h0m-29.6 3h0m1.2 0.8h0m1.6-0.8h0m0.8 2h0m2.1-1.9h0m0.2-0.7h0m0.9 2.5h0m1.9-1h0m1.9 0.2h0m0.9-1.1h0m0.4-0.4h0m0.9 0.1h0m0.7 1.1h0m2.3-0.1h0m1.5 1.3h0m1.7-0.9h0m1.5 0.5h0m-22.3 3.4h0m4.8 0h0m3.1-1.2h0m2.3 0.8h0m1.6-1.2h0m1.5 0.7h0m0-1.8h0m1.5 2.2h0m1.2-1.4h0m0.6-0.8h0m2 0.5h0m1.2 1.9h0m0.8-1.6h0m5.4 1.6h0m-25.2 2.8h0m1.7-0.5h0m0.9-1.9h0m1.1 2.9h0m1.9-0.8h0m0.8-0.4h0m3.4 0h0m4.1 0.3h0m0.1-0.5h0m2.2 0.1h0m0.7-0.3h0m0.2-1.1h0m1.4 2.1h0m1.4-0.8h0m0.3 0.5h0m5.9-1.4h0m-23.7 4.2h0m13.1-1.6h0m6.6-0.2h0m0.5 0.1h0m1.7 2h0m1.6-0.1h0m3.4 0.6h0m6.6-0.3h0m1.1 0.3h0m3.4 0h0m0.4-0.7h0m0.7 0.4h0m1.1 0.3h0m-42.8 2.1h0m0 0.9h0m1.5-1.2h0m0.8-0.4h0m5.7 1.4h0m4.2-1.6h0m15-0.7h0m1.6 0.6h0m2.3 0.6h0m0.8 1.6h0m1.5-1.9h0m0.1 1.5h0m2-0.8h0m0.7 0.3h0m3.1-1.9h0m0.2 2.6h0m0.8 0.2h0m1.3 0.1h0m1-2.1h0m1.5 1.3h0m-42.5 1.5h0m2.7-0.5h0m2.3 2h0m17.3 0.3h0m2 0.1h0m1.4-0.8h0m1.7-1.3h0m1.5 1.2h0m0.3-1.1h0m1.4 0.2h0m0.2 1.6h0m0.5 0.1h0m1.7-2.4h0m0.4 0.5h0m0.2 1.6h0m1 0.3h0m3.7-1.1h0m1.4 0.6h0m0.6 0.2h0m0.7-0.7h0m0.3-0.4h0m-41.2 2h0m1.6 0.7h0m1.1 2h0m4.3-2h0m0.1 2.1h0m2.7-1.1h0m2.9-0.3h0m0 0.3h0m1 1.2h0m2.7-1.3h0m0.4 0.5h0m0.9-1.5h0m4.4-0.2h0m0.9 1.8h0m0.3-1.1h0m0.6 0.3h0m1.1 0.6h0m1.2-1h0m0.3 0.8h0m0.4-1.8h0m0.7 0.7h0m0.9 0.2h0m0.4 1.4h0m1.5-0.9h0m0.2 1.2h0m1.4-1.5h0m1 1.2h0m0.5-0.9h0m1.6-0.5h0m0.1 1.7h0m0.2-2.4h0m1 2.5h0m1.6-0.7h0m0.4 0.6h0m0-2.2h0m1.9-0.2h0m0.2 1.4h0m1.1-1.5h0m0.8 2.1h0m-44.3 1.6h0m0.1 1.7h0m1.5-2h0m0.3 1h0m4.7-0.8h0m2.2 1.6h0m2 0.3h0m3-2.6h0m0.7 0h0m2.3 0.8h0m0.3 0.2h0m6.6-0.8h0m1.2 2.1h0m0.5-2.1h0m0.9 1.2h0m0.8 0.4h0m0-0.5h0m3.2 0.6h0m1.9-1.9h0m0 2.4h0m1.1-2.5h0m0.3 0.8h0m1.9 2.1h0m3.5-1.5h0m2.3 0.4h0m0.5 0.2h0m-41.8 4h0m4.2-0.7h0m5 0.6h0m0.9-2.2h0m0.5 2.3h0m3.1-0.2h0m0.1 0.1h0m1.8-0.6h0m6-0.3h0m2 0.2h0m1.3-1.1h0m0.9 1.2h0m0.5-1.3h0m3.5 0.9h0m0.4-0.7h0m0.5 1.2h0m1.7-0.6h0m0.5-0.6h0m1.3 0.5h0m0.1 0.2h0m0.4-1.2h0m2.9 0h0m0.7 1.4h0m2.6-1.8h0m1.4 0.9h0m-42.7 4.3h0m2-1.8h0m0.6 2.2h0m0.1-1h0m0.1-0.1h0m0.7-1.6h0m0.1 2.6h0m0.8-0.6h0m0.6-1h0m0.8 0.8h0m2-0.5h0m0.1-0.7h0m0.8 1.6h0m2.3-0.1h0m1.2-1.7h0m0.4 1.3h0m1.2 0.6h0m0.7-2h0m0.7 2.4h0m0.4-1.4h0m1.3 0.6h0m0.8-0.2h0m1.4-0.7h0m0.2 0.9h0m0.9-1.6h0m0.9 1.8h0m1.4-0.5h0m0.5-1.6h0m0.2 2.7h0m0.6-2.3h0m0.2 2h0m1.3-1.3h0m0.6-0.4h0m1.2 1.6h0m0.2-1.7h0m0.7-0.3h0m0.1 1.7h0m1.8-0.4h0m0.7-1.2h0m0.7 2.3h0m0-1.4h0m0.6 0.1h0m2.6 0.9h0m1.1-0.6h0m0.8-1.2h0m0.2 1.3h0m1.4-1.8h0m0.7 1.9h0m1.7 0h0m0-1.4h0m0.6 1.2h0m1.4 0.1h0m0.7-1.9h0m0.5 0.1h0m0.2 2h0m-43.1 1.6h0m0.3 0.5h0m0.7 0.4h0m5.1-1.5h0m1.3-0.2h0m3 0.3h0m4.7 0.1h0m1.9-0.3h0m7.5 0.4h0m1.2-0.1h0m1.4-0.2h0m1.1 0h0m4.8 2.8h0m0.2-0.9h0m0.3-2h0m0.5 2h0m0.9-0.9h0m0.9 1.7h0m0.6-2.8h0m0.2 2.3h0m0.7 0.1h0m0.5-2.1h0m0.7-0.2h0m0.3 1.2h0m1.7-1.2h0m0.3 2.4h0m1.1-0.6h0m0-1h0m0.9 0.9h0m-43.3 3.8h0m0.4-0.7h0m0.1-1.9h0m32.3 1.8h0m1.3-0.5h0m0.7 0.7h0m1.7-0.4h0m1-1.3h0m1 1.1h0m1 1h0m0.4-2.1h0m0.4-0.2h0m1.3 1.3h0m1.2 0.7h0m1-2.1h0m0.8 1.4h0m-44.8 3h0m1.7 0h0m31.2 0.6h0m0.7-1.5h0m0.3 0.4h0m1.4-0.8h0m0.1 1.1h0m1.6 1.2h0m1.3-2h0m0.3 1.7h0m0.7-0.4h0m0.4-1.4h0m1.1-0.3h0m0 2.5h0m0.4-1.1h0m1.2 1.5h0m0.1-2.3h0m0 1.2h0m1.7 0.7h0m0.3-2h0m0.2 0.8h0m-43.6 2.6h0m0.1-0.9h0m31.4 0h0m0.8 2.3h0m0.8-1h0m0.2-0.9h0m0.5 1.1h0m0.3-1.5h0m1.5 2.2h0m0.9 0.4h0m0.5-0.9h0m0.9-1.8h0m0.2 1.7h0m0.1-1.2h0m0.2 2.4h0m1.1-0.1h0m1.2-1.1h0m0.2 0.4h0m0.9 0.6h0m0.9-1.1h0m0.7 1h0m-44.1 2.8h0m0.1-2.4h0m0.6 1.8h0m0.8-0.6h0m30.7-0.4h0m2 0.6h0m1.3-1.2h0m0.3 1.8h0m0.3 1h0m1-2.8h0m0.3 1.9h0m1.6 0.7h0m1-0.6h0m1.2-1h0m0.9 1.2h0m0.6-0.8h0m0.5 1.3h0m1.1-1.3h0m-44.8 3h0m0.1 0.9h0m1.4-1.3h0m1.7 1.4h0m0.4-1.3h0m1.6 0.8h0m0.1 0.1h0m0.6-0.1h0m1.4-0.3h0m0.5 1h0m1 0.1h0m1-1h0m1.1-0.1h0m1.1 0.6h0m0.1-1h0m1.9 0.6h0m0.4 0.8h0m0.8-1.2h0m2 0.9h0m0.5-0.9h0m1.7-0.3h0m2 1.5h0m0.4-0.9h0m2.6-0.2h0m0.7 1.2h0m0.5-0.8h0m0.7 0.5h0m1.5 0h0m3.2 0.3h0m0.7-1.2h0m0.4 1.1h0m0.7-2.6h0m1 0.4h0m0.4 1.2h0m0.7-1.7h0m0.8 1.9h0m1.5-0.8h0m0.3 1.4h0m0.3-0.6h0m0.1-1.8h0m1.5 1.8h0m1.6-0.1h0m0 1h0m0.9-2.8h0m0.7 2.8h0m0.1-1.7h0m0.8 1.8h0m0.3-1.2h0m-43.7 3.3h0m0.1-0.3h0m1.6-1.7h0m0.2 0.7h0m1.1 0.5h0m0.1 1.3h0m1.6 0h0m0.7-1.5h0m0.8-0.6h0m0.2 0.9h0m0.2 1.1h0m1.1-0.3h0m0-0.8h0m1.2 0.1h0m1.3-1.3h0m0.7 2.8h0m0.8-0.7h0m0.6-1.3h0m1.9-0.1h0m0.5 0.4h0m1.1-0.9h0m0 0.3h0m2.3 0.9h0m0-1.5h0m1 0.4h0m0.3 2.1h0m0.2-1.6h0m0.7-0.1h0m2.3-0.4h0m1.1 2.5h0m0-2.9h0m0.4 0.7h0m0.4 1.4h0m0.1-1.5h0m2.2 1h0m0.5 0.4h0m1.5-0.4h0m0.2 1.1h0m0.6-2.8h0m0.6 0.8h0m0.1 1.4h0m2.7-1.3h0m0.9-0.5h0m0.1 0.6h0m1.2-0.3h0m0.9-0.5h0m0.1 1.8h0m0.3-1.8h0m2.4 0.3h0m0.7 0.9h0m1.6-0.4h0m0.8-0.3h0m2.6 0.8h0m-44.3 3.9h0m0.8-0.5h0m0.4-1.2h0m2.8-0.1h0m1.1 1.4h0m0.8 0.5h0m0.7-1.5h0m0.7-0.3h0m2.9 0.5h0m1.3 1h0m1.3-0.3h0m0.3-1.8h0m1.3 1.2h0m3.9 0h0m0.4 0.5h0m0.6 1h0m1.2-0.7h0m0.8-0.3h0m0.1 0.3h0m0.2-0.4h0m0.1-1.5h0m1.3 2.7h0m2-2.2h0m1.3 1h0m4.1 0h0m1.9-1h0m0.4-0.5h0m4.6 0.2h0m1.6 1.5h0m3.4-0.7h0m-41.8 4.4h0m0.3-1.4h0m2 1.7h0m0.7-2.2h0m2.5 1.7h0m0.9-1.6h0m2 1.1h0m0.3-0.2h0m0.8-1.4h0m0.8 0.3h0m1.7 0.2h0m3.6-0.1h0m0.4 1.5h0m1.7-2.2h0m2.2 1.7h0m4.7 0.7h0m2.1-1h0m2.2-0.7h0m0.7 2h0m0.1-2.6h0m1.3 0.3h0m1.8 1.8h0m0.1-2h0m1.1 0.4h0m0.7 0.3h0m0.4-0.7h0m-35.7 3.6h0m0.7 2h0m1.7-2.5h0m0.6 0.8h0m1.4 1.7h0m0.8-1.6h0m0.3 0.8h0m0.2-0.9h0m2.1-0.5h0m0.1 2.4h0m1.1-0.5h0m4.3 0h0m1.2-0.9h0m2.7-1.2h0m1.3 2.4h0m1.5-0.4h0m1-1.3h0m1.3 0.4h0m0.7 0.9h0m0.9-0.9h0m1.8 1.4h0m0.2-1.7h0m0.6 1h0m0.7-2.1h0m1.4 0.3h0m0.6 1.7h0m0.3-1.1h0m0.5-0.8h0m2.5 2.8h0m3-0.2h0m1.6-1.4h0m2.4-0.6h0m-39.1 4.1h0m1.2-1.7h0m3.6 0.1h0m0.8 2.1h0m0.9 0.4h0m2.2-2h0m1.4 0.1h0m0.3 1.8h0m2.5-1.1h0m3.6 0.2h0m0.3 0.3h0m2.5 0.8h0m4.2-2.1h0m2.2 0.3h0m2.1-0.4h0m4-0.2h0m10.4 0.1h0m-42.9 2.8h0m1.4 1.8h0m5.4-1.3h0m1.8 0.9h0m1.9 0.4h0m0.5-0.8h0m6.1 1.3h0m5.6 0h0m1.8-1.1h0m1.9 0.8h0m2.1-2.1h0m0.9 0.9h0m2.8 1.1h0m1.1-1.6h0m1.7-0.1h0m0.1 2.4h0m1.5-3h0m-35.1 3.3h0m5.4 1.1h0m7.1-0.4h0m4.2 0.7h0m0.9-0.7h0m1.2-0.4h0m3.4 0.8h0m2.4-0.9h0m5.5-0.2h0m3.2 1.2h0m-20.1 2.9h0m-14 2.6h0m2.6 1.8h0m4.4-1.3h0m2.6 0h0m9.7-0.8h0m2.6 0h0m7-0.6h0m2.6 0.9h0m8.8 0.9h0m-13.1 1.2h0" stroke="#70c43e" stroke-width="2.4" stroke-linecap="round" fill="none"/>
<path d="M191.8 139h0m-1.8 1.1h0m1.7 0.3h0m9.3 1.8h0m2.2-0.9h0m-15.7 4.2h0m1-1.3h0m1.7 0.3h0m1.2-1.7h0m0.8 0.7h0m5 1.4h0m0.6-0.8h0m7.5 1.1h0m-19.7 2h0m1.7-0.9h0m1 1.7h0m1.2-2.1h0m1.2 0.5h0m1.1-0.5h0m2.6 0h0m1.9 0.1h0m2.9 1.7h0m2.6-1.5h0m-16.5 3h0m2.8 1.1h0m0.4-0.1h0m1.5 1.3h0m4.8-0.7h0m15.8-0.4h0m-19.1 3.3h0m1-1.7h0m-6.8 4.3h0m1.2 0.1h0m1.7-0.7h0m0.4 1.7h0m7.6-0.7h0m1.4 0.6h0m5.8-2.1h0m5.9-0.2h0m0.2 1.2h0m-24 3.1h0m2.1 0.3h0m2.5-1.2h0m3.9 0.1h0m0.5 1.9h0m0.7-0.6h0m1.4-1.7h0m0.2 2.1h0m1.9 0.1h0m2.9-1.6h0m1.2 0.1h0m1.2-1.1h0m2.5 1.7h0m4.6-0.9h0m3.5 1.2h0m4.3 0h0m3.6 0.5h0m-37.5 1.1h0m1 1.4h0m0.9-0.2h0m0.8-1.7h0m0.5 1h0m0.1 1.2h0m5 0h0m1-1.3h0m1.6-1h0m2.6 1.9h0m3.6-1.7h0m1.6 0h0m2.7 2.1h0m14.3-0.7h0m-35.7 4.1h0m0.9-0.9h0m2.2 0.5h0m0.3 0.5h0m0.3-2.3h0m1.3 0.6h0m0.5-0.4h0m1.1-0.3h0m1-0.3h0m0.7 1.5h0m6.4-1.5h0m1.7 1.8h0m2.2-1.1h0m2.1 0.7h0m1.8-1h0m3-0.5h0m1 0.3h0m4.8 0.4h0m-29.3 5h0m1.2-0.8h0m1.1-1.5h0m2.7 1h0m2.2-1.2h0m14.8 0.5h0m-15.3 3.2h0m18.6 1.5h0m-24.9 1h0m3.4 0.7h0m5.4-0.1h0m-9.3 3.9h0m2.4 0.3h0m-2.9 1.4h0m0.1 2h0m2.5-0.7h0m1.9 2.8h0m-4.4 1.7h0m3.5 1.4h0" stroke="#dd0000" stroke-width="2.4" stroke-linecap="round" fill="none"/>
<polygon points="104.4,152.2 110.6,162.2 98.2,162.2" fill="#f2b266" stroke="#1a1a1a" stroke-width="1.1" stroke-linejoin="miter"/><circle cx="104.4" cy="158.9" r="0.45" fill="#8a5a20"/><polygon points="178.2,173.2 184.4,163.6 172,163.6" fill="#f2b266" stroke="#1a1a1a" stroke-width="1.1" stroke-linejoin="miter"/><circle cx="178.2" cy="166.8" r="0.45" fill="#8a5a20"/><polygon points="229.7,155.8 235.6,161.7 229.7,167.6 223.8,161.7" fill="#f2b266" stroke="#1a1a1a" stroke-width="1.1" stroke-linejoin="miter"/><circle cx="229.7" cy="161.7" r="0.45" fill="#8a5a20"/>
<path d="M432.8 166.5h4.2M431.8 167.5h4.5M430.5 168.5h6.2M430.8 169.5h6.5" stroke="#0000f0" stroke-width="1.3" fill="none"/><path d="M416.6 60.3h0m0.8 3h0m0.9-1.7h0m0.4 5h0m0.4-1.7h0m0.8 2.7h0m12.9 2.1h0m2.5-0.6h0m-29.9 3.9h0m1.1-0.8h0m13.6-0.6h0m17.7-0.5h0m1.6 2.1h0m-33.9 1.1h0m0.4 1.7h0m0.6-1.9h0m1.2 1.5h0m0.2-2h0m30.7 2.1h0m-33.4 2.4h0m0-1.2h0m0.6-0.1h0m0.3 1.7h0m1.4-1.2h0m0.2 1.5h0m2.2-0.1h0m27.9 0.3h0m2.9-1.6h0m3.3-0.4h0m-39 3.8h0m1.9-0.9h0m0.2 1.9h0m0.1-1.7h0m0.7 0.9h0m1.5-0.9h0m22.2 1.4h0m3.7-0.8h0m-30.3 3.8h0m1.4-0.9h0m0.3 1.6h0m0-1.7h0m1.2-0.8h0m-3.1 3.6h0m0.1 1.4h0m0.3 0.6h0m1.3-0.6h0m0.6 0.4h0m0.4-0.1h0m1-1.2h0m4.5 0.4h0m2.7-0.8h0m1.7 0.2h0m0.9-0.3h0m1.9 2h0m-14.8 2.6h0m0-0.7h0m0.4 0.8h0m1.2-0.7h0m7.9 0.5h0m1.5 0.7h0m0.5-1.4h0m0.7-0.6h0m2.2 0.8h0m0.4 1.2h0m1.1-1.7h0m0.5 0.6h0m3.3-0.7h0m2.2-0.6h0m2.2 1.6h0m3.1-1.7h0m0.4 1.6h0m3.9-0.6h0m9.4 0h0m-41.2 3.8h0m1.9-0.6h0m1 0.5h0m0.7-2.2h0m3.5 0.8h0m0.2-0.1h0m1.1-0.4h0m4.3 1.2h0m1.7 1.2h0m0.4-0.7h0m1.5-0.3h0m0.3 1.1h0m4.6-2.4h0m1.5 0.8h0m3.5 1.7h0m0.3-0.8h0m0.5-1.5h0m0.5 1.8h0m0.3-0.3h0m1.6 0.2h0m2.3-1.9h0m1.9 1.1h0m0.6 1.2h0m2.6-2.1h0m1.2-0.4h0m1.2 2.1h0m2.2 0.3h0m1.5-0.3h0m-42.9 2.3h0m0.4 0.6h0m0.7-0.7h0m0.5-1.1h0m0.1 1.9h0m0.7-1.9h0m9.2-0.1h0m8.1 2.3h0m1.3 0.4h0m0.2-2.2h0m3.2 1.3h0m0.2 0.7h0m1.2-1.9h0m2.3 0.1h0m0.1-0.1h0m2.6 1.3h0m9.8-1.8h0m-39.1 4.3h0m0.1 1.2h0m0.8-1.1h0m1.7-1.2h0m9.9 0.4h0m3 1.5h0m1.5-1.1h0m0.9 0.7h0m0.4-0.5h0m2.1-0.4h0m1.6 1.1h0m0.9-1.2h0m2 0.2h0m0.4-1.1h0m0.7 0.6h0m1.9 0.1h0m2.2 1h0m0.9-1.9h0m0.3 0.8h0m2.1-0.3h0m4.1 1.1h0m1.7-1.2h0m2.2-0.3h0m-42.3 3.7h0m1.1 0.2h0m0.9 1.2h0m2 0.5h0m6-0.5h0m4.7-0.8h0m0.1 1.1h0m3.4-1.9h0m2.3-0.4h0m0.6 0.7h0m0.5 1.4h0m1.4-1.7h0m0.9 1.2h0m0.2 0.6h0m1-0.3h0m0.8-1.3h0m0.5-0.3h0m1.3 1h0m1.8-0.3h0m3.1 0.5h0m0.6 1.2h0m1.5-0.5h0m0.8-0.2h0m1.3-0.1h0m6.4-1.3h0m-43.8 2.9h0m0-0.3h0m0.3 1.6h0m0.9-0.5h0m0.7 0.9h0m0.1-2.3h0m0.2 1.7h0m0.7 1.1h0m3.1-2.4h0m1.8 2.1h0m0.1-1.2h0m1.7 0.7h0m0.4-0.5h0m6.9-1.5h0m2.7 0.9h0m1.6-0.5h0m0.4 2.5h0m0.9-2.2h0m0.6 2.1h0m0.3-2.9h0m0.9 0.4h0m1.1 0.8h0m1.5 0.6h0m0.4 0.2h0m3.4-0.5h0m0.3-1.2h0m0.1 1.1h0m1.7-0.7h0m3.9 2.1h0m0.6-1.6h0m4.7-0.7h0m1.4 1.5h0m0.2-2h0m-43.8 5.5h0m1.1-0.2h0m0.3-0.6h0m1.6 0.8h0m0.8-2.4h0m5 0.5h0m2.5-0.1h0m1-0.3h0m12.1-0.1h0m0.3 1.6h0m0 1.1h0m2.5-1.6h0m4.7-0.8h0m2.4 1.6h0m0.5-1.1h0m0.8 1.4h0m-35.6 1.7h0m0.7 0.7h0m0.2 1.1h0m0.5-2.3h0m1.5 0.4h0m3.5-0.5h0m11.3 0h0m1.1 0.3h0m1.2 1.5h0m0.9-2.1h0m1.7 0.5h0m0.8 1.6h0m1.7-0.2h0m0.9 0.7h0m0.9-1.1h0m1.3-1.3h0m4.2 1.5h0m1.3-0.6h0m1.8 1.5h0m8.3-1.8h0m-42.4 4.2h0m0.5-1.9h0m0.4 0h0m1.1-0.1h0m9.1 1h0m1.8-0.3h0m6.1 1.5h0m3.1-1.7h0m0.7 0.8h0m0.4 0.7h0m1-0.3h0m0.1-0.4h0m2.1-1h0m4.8 0.9h0m4.1 0.1h0m3.7-1.2h0m1.2-0.2h0m-41.1 5.5h0m0.1-1.1h0m0.7-0.2h0m0.9 0.7h0m0.5-1.3h0m0.1 0.9h0m1.8 0h0m11.3 0.3h0m5.4-1.6h0m0.2 2.7h0m2.6-1.7h0m1.7 1.6h0m0.5-2.7h0m1.6 1.9h0m3.4 0.6h0m2.9-0.6h0m5.1-1.2h0m-38.9 4.1h0m0.1-0.8h0m1.2-0.9h0m0.5 2h0m0.4 0h0m0.3-1h0m1.1-0.8h0m17.2 0.8h0m0.7 0.2h0m3.2 1.2h0m0.4-2.1h0m9.9-0.5h0m4.3 2.8h0m-39.8 2.3h0m0.1-1.6h0m0.7 2.4h0m0.9-2.8h0m0 2.4h0m1.6 0.5h0m0.3-3h0m0.8 1.5h0m0.3-1.5h0m16.1 0.6h0m0.7 1.8h0m2.6-0.9h0m1.2-1.3h0m1 2.3h0m-26 2.5h0m0.7-1.2h0m0.1 2.1h0m0.6-1.2h0m16.5-0.4h0m1.9-0.1h0m1.2-0.4h0m0 1.3h0m3.4-0.7h0m2-0.7h0m1.6 0.4h0m0.2-0.9h0m0.8 1.9h0m1.9-0.9h0m1 1.1h0m4.6-1.8h0m5 2.3h0m2.7-1.9h0m-43.9 3.2h0m0.4 1h0m2 0.6h0m14.5-1h0m3.1 1.2h0m3.3-0.2h0m1-0.3h0m1.2-1.3h0m1.1-0.8h0m0.3 1.3h0m1.5-1.3h0m1 0.9h0m5.1-0.8h0m0.2 2h0m2.7-0.1h0m6.1-1.8h0m-43.9 3h0m0.5 0.6h0m0.7-1h0m0.8 1h0m0.5 0.9h0m16.5-0.3h0m3.4-1h0m0 1.3h0m1-0.4h0m1.6-0.7h0m1.8 1.3h0m2.2 0.6h0m10.6-0.4h0m4.3-2.1h0m-43.5 3.2h0m1.3 1.7h0m0.4-2.1h0m0.3 0h0m0.2 1.9h0m7.6-0.6h0m7 1.4h0m4.3-2.3h0m0.5 0.6h0m0.4 1.8h0m1.4-2.3h0m0.1 0.5h0m0.6 0.8h0m0.6-1.6h0m0.4 1.4h0m4.9-0.8h0m2.4 1h0m3 0.6h0m-35.4 2.9h0m0.8-2.3h0m0.2 2.7h0m0.6-1.5h0m0.4-0.1h0m1.8-0.6h0m0.1 0.4h0m7.2-0.7h0m9.4 1.6h0m2.8 0h0m2.4-0.7h0m0.8-0.8h0m1.4 0.6h0m-28.2 3.8h0m0.9-0.6h0m1.1 1.3h0m0.2-1.2h0m0.2 1.4h0m0.2-2.6h0m1.5 0.7h0m18.7 0.6h0m0.7-1.1h0m1.6 2.1h0m0.8-0.2h0m1.8 0.1h0m2.9-2h0m1.8 2.4h0m9.8-1.9h0m-41.8 4.8h0m0.9 0.3h0m0.4-1.2h0m2.3-0.9h0m2.3 2.1h0m15.9-2.5h0m0.9-0.3h0m1.4 2.1h0m1.2-0.8h0m0.7 0.8h0m0.8-0.2h0m8.5-1.2h0m1.8 1.2h0m1.6-0.2h0m2.1 0.1h0m1.6-1.8h0m-41.6 3.5h0m0.5 1.8h0m0.8-2h0m0.1 1h0m0.8 1.6h0m0.6-2.5h0m0.2-0.2h0m4.6 1.9h0m6-0.1h0m3.4-1.5h0m2 1.9h0m0.7-2.4h0m0.3 2.1h0m2.2-0.5h0m0.3-1.7h0m0.2 1.8h0m0.4 0.6h0m8.5-2h0m5.8-0.1h0m-38.4 5.6h0m0.1-2.5h0m0.7 0.9h0m0.4 0.7h0m3.6-1.5h0m0.5 1.3h0m4.6-0.4h0m0.4 1.2h0m1.3-1.2h0m3-0.8h0m0.1 1.7h0m0.7 0.5h0m0.6-2h0m1.8 1.3h0m2.5-1.2h0m3.2 1.4h0m0.7 0.1h0m0.9-0.6h0m4.7-0.2h0m3.9 0.5h0m0.2 0.1h0m2.7-1.1h0m0.5 0.5h0m0.7 1.1h0m1.7-1.6h0m0.1-0.5h0m3.1 1h0m-43 3.3h0m0.9 0.5h0m0.1-0.9h0m1.2-0.5h0m0.5 1.8h0m5.6-2.6h0m0.3 2.3h0m4.9-0.8h0m0.5-0.1h0m0.2 1h0m1-2.1h0m2.1 0.9h0m2.4-0.3h0m3.7 0.8h0m1.3 1h0m3.1-2.2h0m1.4-0.7h0m1.2 1.7h0m0.2-0.5h0m2.7 1h0m0.3-1.6h0m1.8 2.1h0m4.3-1.1h0m0.2-0.2h0m2-1.1h0m0.5 1.9h0m0.9-1.8h0m-43.7 5.5h0m0.3-2.7h0m1.4 0.8h0m0.2 0.6h0m0.8 0.8h0m2.1-0.8h0m4.2-1.1h0m0.7 1.7h0m0.4-0.9h0m0.1-1.3h0m0.1 2.4h0m3.2 0.1h0m1.6 0.5h0m2.9-2.9h0m0.8 1h0m3.9-0.8h0m0 2.5h0m2.1-1.5h0m2.6 0.5h0m0.4-0.9h0m2.2 0.1h0m0.2 0.8h0m1.2-0.3h0m0.8-0.9h0m0.6 2.2h0m0.8-1.5h0m1.7-1h0m2.3 1.9h0m-37.4 1h0m0.3 2.4h0m1.5-1.6h0m0 0.6h0m1.4-0.8h0m2 1.8h0m1.9 0.3h0m1.6-0.4h0m1-0.1h0m5.5-0.3h0m1.4 0.7h0m1-2.5h0m1.1 2.5h0m1.4-2.2h0m3.5 1.4h0m0.8-0.4h0m1-1h0m1 2.4h0m2-1.4h0m1.3-1.2h0m0.5 1.5h0m0.1-0.9h0m1.4-0.7h0m2.4 1h0m1.5 0.4h0m1 0.8h0m2.4-0.9h0m1.3 0.4h0m2.1 0.5h0m1.3-2.2h0m0 1.6h0m0.9-1.3h0m-44.6 5.2h0m1.1-1.1h0m0.1-1.4h0m3.2 1.3h0m1.4 0.9h0m1.8 0.3h0m1.1-2.4h0m2 0.5h0m2.6 1.3h0m2.3-1.3h0m1.8 0.7h0m0-1.2h0m1.5 1.5h0m1.1 0.8h0m2.1-0.8h0m0.2 1.1h0m0.9-1.1h0m0.7-1.8h0m1.2 1.9h0m2.2 0.8h0m0.2-2.7h0m3 0.8h0m1.5 1.4h0m0.3-2.3h0m0.6 1.5h0m0.1-0.3h0m2.1-0.3h0m0.3 0.9h0m0.3-0.3h0m0.8-0.4h0m1.7 1.8h0m0.2-1.4h0m0.4-1.3h0m0.3 2.7h0m0.9-1.3h0m0.4-1.2h0m0.1 1.9h0m-40.1 2.7h0m0.5-1.4h0m0.7 0.3h0m0.3 0.8h0m0.8-0.6h0m5.5-0.6h0m2 0.7h0m1.7 0.2h0m1.1-0.9h0m0.7 1.8h0m0.5 0.6h0m0.1-1.4h0m1.3 1h0m0.4 0.3h0m2.1-2.7h0m0.4 0.1h0m1.3 0.5h0m1.4 1.8h0m1.1-0.4h0m0.8 0h0m0.3 0.8h0m0.4-1.8h0m2.7-0.9h0m0.1 1.6h0m0.6-0.3h0m1.1-0.3h0m0.5-1.1h0m1.1 2.4h0m0.7-0.4h0m1.2 0.5h0m1.3-1.2h0m1.4-1.1h0m2.1 2.7h0m0.3-0.3h0m0.8-0.8h0m1.5 0.1h0m1.4-0.5h0m0.4-1.1h0m-40.5 4.9h0m0.5-1.8h0m0.7 2.5h0m0.2-1.6h0m1.4 1.2h0m1.1-1h0m0.3 1.2h0m2.3-2.7h0m2 1.3h0m0.4-1.2h0m1.4 1.7h0m1.9 0.3h0m1.9-0.8h0m0.4 1.5h0m2-2.1h0m2.5-0.4h0m0.8 1.5h0m0.3-1.4h0m0.9 0.3h0m0.7 1.2h0m1.8 0.4h0m0.1-1.4h0m0.8 1.9h0m0.4-0.4h0m0.7-1.3h0m0.3 1.7h0m0.4-1.8h0m1 0h0m4.3-0.1h0m0.5 1.1h0m0.6-0.4h0m2.5 0.4h0m0.1-1.6h0m2.2 0.1h0m1.9 1.1h0m0.5 0.4h0m2.9 0.1h0m-42.8 1h0m1.1 2.2h0m1.5-2.2h0m5.2 0.5h0m0.6 1.1h0m2.2 0.1h0m1.2-1h0m2.2 1.4h0m1.2-1.2h0m0.7-0.2h0m1.5 0.6h0m1.9-1.1h0m0.9 1h0m1.2-0.1h0m0.6-1.2h0m1.3 1.5h0m0.3-1.1h0m0.8 1.4h0m3-0.2h0m0.7 0.8h0m0.2-1.7h0m1.5 0.9h0m0.5-1.4h0m0.4 2.6h0m0.6-2.2h0m0.6 1h0m1.2 0.2h0m0.4-1.8h0m0.7 2.3h0m0.9-2.1h0m0 2.3h0m1.5-0.4h0m0.7 0.1h0m0.6-2.3h0m1.3 2h0m1.3-0.5h0m-40.6 2.1h0m0.6-0.6h0m0.5 2.4h0m1.7-2.3h0m0.6 1.5h0m0.9 1h0m0.7-0.2h0m1-2.1h0m3.2 0.4h0m0.9 0.9h0m2.1-1.2h0m3.5 0.8h0m1.1-0.4h0m1.7-0.8h0m2 0.6h0m3.8 1.8h0m0.1-1.5h0m1.5 2h0m0.2-1.6h0m0.4-1.3h0m1.3 1.6h0m0.3-1.4h0m0.2 0h0m0.4 1.4h0m1.7 0.6h0m1 0.5h0m0.4-1.1h0m0.2-1h0m1.1 1.6h0m0.5-1.5h0m0.8 0.4h0m1.7 0.5h0m1.8-1.1h0m0.2 1.7h0m1.3-0.5h0m0.1-1.1h0m1.8 2.2h0m0.8-0.7h0m1.5 0.3h0m-43.4 1.2h0m0.8 0.5h0m0.5 1.6h0m0-2.1h0m0.7 2.1h0m0.2-2.5h0m0.2 0.9h0m1.9 0.9h0m0.7 1h0m1-1.9h0m3.5 0.1h0m1.5 1.4h0m0.6-2.3h0m1.7 1.1h0m0.7 0.7h0m2.4-0.5h0m2.4-0.7h0m1.7-0.1h0m1.2 0.8h0m0.5 0.5h0m1.8-0.4h0m2.7-0.9h0m3 0.9h0m0.8-1.6h0m0.4 1.3h0m1.9-1.4h0m1.9 2h0m0.4 0.7h0m0.7-2.5h0m0.4 1.1h0m1.3 1.3h0m0.5-1.7h0m0.1 0.8h0m1-1.5h0m1.3 2.2h0m1.8-0.6h0m2.1 0.1h0m-44.5 3.4h0m0.2-1.6h0m0.3 0.1h0m0.1 0.1h0m0.4 2.1h0m1.8-1.9h0m3.1 1.8h0m0.7-2.7h0m2.1 2.2h0m1.9-1.6h0m2 0h0m2.5 0.7h0m0.5 0h0m2.2-0.3h0m2.6-0.3h0m0.8 1.8h0m2.3-1h0m0.5 0.1h0m0.5 1h0m1.5-1.1h0m0 0.8h0m3.4 0.4h0m0-1h0m2.5-0.6h0m0.4-1.1h0m1.3 0.1h0m0.3 0.9h0m1.2 1.7h0m0.2-1.8h0m4.5 0.5h0m4.4 1.4h0m-42.7 2h0m1.4-0.8h0m0.3-1.2h0m0.7 0.5h0m0.3 1.6h0m3.9 0h0m3.7-1.6h0m0.4 1.5h0m1.2-0.3h0m1-0.7h0m1.4 1h0m1.4-0.8h0m0.2 1.6h0m0.8-0.5h0m1.2-1.9h0m0.6 2.3h0m2.3-1.1h0m2.2-0.1h0m1.4 0.9h0m1.3-2.2h0m1.7 1.5h0m0.6 0.7h0m0.1-0.7h0m1.8 0.8h0m1.7-1.9h0m1.8 1.5h0m7 0.2h0m1 0.1h0m0.6-1.5h0m0.9 0.8h0m-43.9 2.7h0m0.4-1.3h0m0.6 2.1h0m0.2-1.3h0m0.5 0.8h0m0.8-1.3h0m1.5-0.2h0m0.1 1.2h0m0.5-0.2h0m2.6-0.8h0m0.8 1.5h0m1.5-1.2h0m3.3 0.7h0m0.5-0.7h0m3.9 1.7h0m0.3-0.7h0m4.5-1.1h0m0.5-0.6h0m0.8 0.3h0m0.8 2.3h0m0.4-1.3h0m1.9 0h0m0.1-1.3h0m1.4 1.1h0m2.1 0.1h0m1-0.3h0m4.4 0.8h0m1.9 0.2h0m1.9-0.3h0m1.5-1h0m0.8 2.1h0m-42.1 1.9h0m0-1.5h0m1.9 1.3h0m0.7-0.9h0m0.1 1.4h0m1.2-1.3h0m3.4-0.2h0m0.7 2.2h0m8.5-0.4h0m1.2-0.9h0m2.6-0.4h0m4.7 2h0m1 0.1h0m1.5-1.4h0m1.3 0.9h0m0.2-0.9h0m0.3-1.1h0m5.8 1.9h0m0.7-0.9h0m4.1-0.4h0m0.1 1.5h0m-38.8 0.7h0m0.2 2.1h0m0.2-1.8h0m1.5 1.7h0m0.3-1.1h0m0.8-0.6h0m2.2 0.5h0m0.8 1.4h0m0.9-1.5h0m9 1h0m0.9-1.8h0m1.4 0.4h0m1.6 0.3h0m0.1 0.2h0m4.2 1.1h0m3.3-1.7h0m2.9 1.6h0m1.5-1.1h0m4.3 0.4h0m2.9 1.2h0m2.5-0.5h0m0.4-0.8h0m-43 3h0m0.7-0.7h0m2.2 1.6h0m0.5-1.1h0m1 0.2h0m1.9-1.3h0m2.6 0.9h0m0.4-0.7h0m9.5 1.8h0m0.4-0.5h0m3.7-0.8h0m3.4 1.6h0m1.1 0.2h0m2.2-1.3h0m2.4-0.6h0m0.1 1.5h0m-31.1 1.2h0m0.2-0.2h0" stroke="#0000f0" stroke-width="2.4" stroke-linecap="round" fill="none"/>
<path d="M451.9 92.9h0m2.5 1.5h0m-1.3 2.7h0m2.5-1h0m11.2 4.1h0m-16 9.2h0m5.2-0.9h0m8.2-0.1h0m2.3-1.2h0m3.7 0.3h0m-19.2 4.4h0m11.3-1.3h0m0.2 1.7h0m1.6-0.8h0m1.9-1.3h0m5.6 1.8h0m0.1 0h0m2.2-0.6h0m5.2 0.8h0m-23.1 0.3h0m4.1 0.9h0m0.2-0.9h0m-3.2 4.3h0m1.6 0.6h0m14.5-0.8h0m4.4 1.8h0m2.4-0.9h0m-29.8 2.6h0m1.5 0.2h0m5.8-1.1h0m1.5 0h0m4.5 0.6h0m10.6 0.5h0m0.8-0.7h0m6.7 1.4h0m4.5-1.7h0m6.3-0.1h0m-38 2.7h0m7-0.2h0m4 0.9h0m17.1 0.8h0m9.8-1.1h0m-40.1 5.1h0m2.8-1.2h0m4.9 0.3h0m20.9-1.5h0m5.7 2h0m-34.9 1.6h0m3.1 1.2h0m1.3-2h0m10.7 2h0m4-0.1h0m12.1-1.8h0m2.6 2.1h0m5.4-2h0m-37.5 2.6h0m1.9 0.9h0m1.6 1.5h0m3.3-1.8h0m2.8 1h0m2 0.6h0m2-0.3h0m3-1.5h0m0.9 1.7h0m0.9-2h0m4.3 2h0m5.6-1h0m7 0.2h0m5.4-1.2h0m-40.6 4.4h0m0.6 0.9h0m1.4-0.8h0m0.4-0.8h0m9.1 1.4h0m0.3-0.9h0m1.2 0h0m2.3 1h0m1.7-1.3h0m19.8 0.9h0m-39.1 3.3h0m2.5-0.2h0m1.8-0.1h0m2-0.7h0m2.4-0.3h0m2.4 1.6h0m1.2-0.5h0m0.3-0.2h0m2.5 0.2h0m7-0.2h0m0.3-1.6h0m16.1 0.8h0m-37.5 2.2h0m2.9 2.3h0m0.7-2.5h0m0.4 2.5h0m1.9-1.2h0m2.8 0.7h0m0.3-1.2h0m4.8 0.8h0m18.6 0.8h0m0.9-0.9h0m3.9-0.5h0m-38.2 2.5h0m6.7 0.5h0m0.2 1.3h0m1.3-0.3h0m1.6-0.2h0m7.4-1h0m-9.8 4.6h0m0.4-0.9h0m4.9 1h0m3.1-1.1h0m3.7-0.1h0m21 0.3h0m-41.5 3.1h0m5.7-1h0m0.2 1h0m0.7-0.7h0m1.8-0.1h0m1-0.2h0m1.2 1.6h0m2.5 0.4h0m2.3-1.9h0m4.4-0.1h0m1.8 0.8h0m9.4-0.1h0m-30.1 2.3h0m0.8 0.8h0m6.7 0.1h0m0.6 1.1h0m0.2-2.5h0m2.8 1.2h0m0.4-1.5h0m2.6 1.9h0m0.8-1.3h0m1.8 1.4h0m0.1-1.9h0m6.1 2.2h0m1.3-1.5h0m2.4 1.2h0m3.4-1.1h0m0.7 1.3h0m-29.4 2.7h0m1.1 0.8h0m1.4-1.8h0m1.8-0.6h0m0.3 2.1h0m2.2 0.3h0m1.5-2.1h0m1.7 1.5h0m0.8-1.2h0m1.2 0.7h0m0.9 0.9h0m3.3 0.5h0m0.3-0.5h0m0.7-2.3h0m1.7 1.6h0m0.8-1.4h0m0.6 1.4h0m5.9-0.3h0m-27.7 3.2h0m0.8-1.5h0m1.3 1.7h0m2.2-1.7h0m0.9 2.7h0m0.4-0.5h0m0.7-1.7h0m0.8 0.5h0m0.6 1.1h0m1.2-0.1h0m0.3-0.9h0m0.6 1.2h0m0.4-1.8h0m0.8 0.2h0m1.2 1.8h0m0.7-0.7h0m1.3 0.7h0m0.3-2.4h0m0.7 0.2h0m0.6 1.9h0m0.9-0.3h0m1.5 0.1h0m2.6-0.7h0m0.8-1.5h0m1.2 0.7h0m0.8 0.8h0m2.3-1.4h0m0.5 2.3h0m5.5-1.2h0m7.4-0.1h0m-39.2 3.9h0m0-0.9h0m0.7-1h0m0.8 2.4h0m1-1.3h0m0.3 0.7h0m1.7-1.1h0m1.1 1.5h0m0.9-1.6h0m0.2 0.6h0m1.3-0.5h0m0.1 1.4h0m1.4-1.5h0m0.9 1.1h0m0.4 0.9h0m1.3-2.4h0m0.3 2.1h0m0.9-1.7h0m1.1 1.2h0m0.3-1.8h0m0.4 1.7h0m1-0.9h0m1.4 0.1h0m1.1 0.2h0m0.2 1.1h0m1-0.2h0m0.5-1.6h0m1.5 1.8h0m0-1.7h0m1.2-0.3h0m3.6 0.8h0m13-0.4h0m3.7-0.7h0m-43.8 4h0m2.2 1.3h0m2-1h0m0.1-0.4h0m2.3 1.1h0m0.4-1.7h0m1.2 1.2h0m0.2-0.5h0m0.8 0.6h0m1.2-0.3h0m0.5-0.9h0m1.4-0.1h0m0.3 1.9h0m0.6-0.8h0m0.1-1.4h0m1 2.9h0m0.5-0.7h0m0.5-1.3h0m0.7-0.9h0m0.4 2.2h0m1-0.8h0m1-1.2h0m0.4 2.2h0m1.1-1.3h0m3.9 0.5h0m3.5-0.6h0m6.6 0.2h0m-31.5 3.3h0m0.9 0.9h0m0.9-2.3h0m2.5 2.4h0m1.5-0.4h0m1 0.3h0m0.6-0.4h0m1.5-0.6h0m0.7-0.7h0m0.8-0.4h0m0.8 0.9h0m1 1.1h0m1.1-0.4h0m1.5-1.2h0m0 1.9h0m0.5-0.9h0m2.2-0.8h0m1.3 0.7h0m0.4 0.7h0m1.3-0.6h0m4.2-1.1h0m4.2 1.1h0m7.7 0.2h0m-38.1 2.2h0m3.7 0.2h0m0.2-0.6h0m1.2 1.1h0m1.2 0.7h0m0.8-2.3h0m0.3 0.3h0m1.4 0.9h0m1.2 0.5h0m1.2-1.2h0m1.2 0.1h0m1.2-0.3h0m0.3 1.9h0m0.8-1.6h0m0.5 0.2h0m3.5 1.5h0m0.6-2.2h0m1.2 2.2h0m1.2-0.9h0m0.5-0.4h0m2.5 0.3h0m2.9-0.9h0m0.2 0.8h0m7.2 0.7h0m-33 2.9h0m0.4-1.9h0m6.8 1.7h0m1.7-1.7h0m1.4 1.5h0m0.5-1.3h0m7.1 0h0m0.2 2.4h0m1.4-0.8h0m0.9-1.9h0m3.5 0.3h0m-26.9 3.3h0m1.4-0.5h0m2.1 1.1h0m0.4 1.7h0m2.5-0.8h0m3.3-1.8h0m0.5-0.2h0m0.2 2.5h0m3.5-0.4h0m0.3-2.2h0m0.1 0.7h0m1.2 1.3h0m1.2 0.5h0m14.5-0.2h0m0.9 0.6h0m-30.9 0.4h0m7 1h0m8.2-0.4h0m11.8 0.8h0m13.4 0.8h0m-38.5 1.7h0m18.8 1.3h0m-12.3 1.9h0" stroke="#92ffff" stroke-width="2.4" stroke-linecap="round" fill="none"/>
<path d="M511.1 107.4h0m-2.5 2.3h0m3.7 5.9h0m-15.5 4.7h0m23.1 0.6h0m1 0h0m-21.5 0.8h0m26 6.2h0m-29.5 3.2h0m4.5 0.8h0m1.1-0.4h0m-4.7 3.1h0m3.6 0.6h0m11.7-1.2h0m-15.8 4.7h0m11.9-1h0m5.1 1h0m21.5 3h0m-9.4 2.5h0m-0.4 4.1h0m3.4-1.4h0m8.2 1h0m-7.6 1.2h0m-15.9 5.5h0m9.4 2.5h0m4.9-2.1h0m-11.6 3.1h0m8.1 2h0m9.6-2h0m6.2 1h0m-41.4 2.9h0m0.7 0.1h0m1.2 1h0m1.9 0.2h0m0.4-1.6h0m1.5-0.6h0m2.7 1h0m2.1 0.3h0m3.2 1h0m6.6-0.1h0m1.3-0.5h0m1.7 0.2h0m1.2 0.4h0m1.8-1.6h0m2.2-0.7h0m-26.1 3.9h0m1.4-0.2h0m1.4 1.5h0m0.1-2.6h0m1.6 0.9h0m0.4-0.8h0m0.4 0.4h0m2.9-0.2h0m2.8 0.8h0m1.4 1.6h0m2.9-0.7h0m0.1-1.8h0m2.6 1.3h0m0.2 1.2h0m5-1.1h0m0.3-1.3h0m0.8 2.3h0m4.9-2.4h0m-30.1 5.3h0m2.7-1.4h0m1.6 1.4h0m1.4-0.6h0m2.2-0.4h0m1.9 0.1h0m0.9-0.1h0m0.2 1h0m3.9 0h0m2.7-0.6h0m5.9 0h0m3.6 0h0m1.8 0.2h0m1.4-1.4h0m-28.8 2.7h0m0.8-0.1h0m1.5 1.2h0m0.4-0.9h0m1.6 1.6h0m0.6-1.8h0m0.4 2.4h0m3.2-1.4h0m0.8-0.5h0m0.4 1.3h0m0.9 0.5h0m8.9-2.9h0m1.3 2.9h0m5.3-2.1h0m1.5 0.2h0m2.4 1.6h0m5.4-2.1h0m-39.6 3.6h0m0 1.6h0m1.5-1.1h0m0.3 0.9h0m0.9-1.7h0m0.9-0.3h0m0.1 1.4h0m3.2-0.4h0m0.8-0.7h0m0.8 1.6h0m0.5-0.7h0m0.9-1.4h0m1.5 0.4h0m5.7 0.4h0m3.5 0.3h0m1.1 1.4h0m1.2-0.6h0m0.8-1.5h0m0.8-0.7h0m6 2.5h0m3.2-1.2h0m-34.3 3.5h0m6.4-1h0m0.8 1.4h0m6.1-0.5h0m4.1-0.8h0m0.7 1.2h0m2.4-0.3h0m0.6-0.1h0m2-1.1h0m3 1.2h0m3.4-0.6h0m0.7 1.5h0m2.7-0.2h0m-32.1 0.5h0m3.1 1.7h0m0.5-1.3h0m2.8 2.6h0m10.7-2.4h0m0.3-0.5h0m1.5 0.9h0m0.7 0.8h0m5.1 0.3h0m3.5 0.4h0m2.3-0.5h0m-30.3 1.7h0m5.3 2h0m3.9-1.6h0m1.2-0.1h0m1.8 1.8h0m4.8-1h0m2.2 0.2h0m-13.1 2.8h0m0.9-1.5h0m1.4-0.2h0m3 2.9h0m7.9-2.7h0m5.2-0.1h0m3.4 0.8h0m3.3 0.2h0m-27.8 3.5h0m1.9 0.6h0m2.2-1.5h0m4 1.3h0m9.3 0.2h0m2.7 0.6h0m2-0.8h0m2.5-0.4h0m1.1 1h0m4.2-1.9h0m-26.9 2.4h0m0.3 1.1h0m3.5 1h0m5.1-1h0m3.5 1h0m6.5-2.1h0m-13.1 4.2h0m11.9-1.1h0m1.5 0.4h0m3.9 0.1h0m0.1 0.7h0m-20.4 4h0m-1.1 0.6h0m-9.6 4.5h0m28.4-0.4h0m11.5 0.8h0m-39 1h0" stroke="#70c43e" stroke-width="2.4" stroke-linecap="round" fill="none"/>
<path d="M540.7 142.2h0m6.3 2.6h0m8.6-1h0m-12.9 3.7h0m3.3 1.6h0m18.8 5.9h0m-21.4 3.7h0m5.7 0.8h0m10.6-0.2h0m14.7 0.6h0m-11 1.5h0m15.7 0.2h0m-37.8 4.3h0m34.8-1.5h0m-34.8 3.3h0m5.5 15.9h0" stroke="#dd0000" stroke-width="2.4" stroke-linecap="round" fill="none"/>
<polygon points="459.5,152.2 465.7,162.2 453.3,162.2" fill="#f2b266" stroke="#1a1a1a" stroke-width="1.1" stroke-linejoin="miter"/><circle cx="459.5" cy="158.9" r="0.45" fill="#8a5a20"/><polygon points="533.3,173.2 539.5,163.6 527.1,163.6" fill="#f2b266" stroke="#1a1a1a" stroke-width="1.1" stroke-linejoin="miter"/><circle cx="533.3" cy="166.8" r="0.45" fill="#8a5a20"/><polygon points="584.8,155.8 590.7,161.7 584.8,167.6 578.9,161.7" fill="#f2b266" stroke="#1a1a1a" stroke-width="1.1" stroke-linejoin="miter"/><circle cx="584.8" cy="161.7" r="0.45" fill="#8a5a20"/>
<path d="M65.8 446.5h0.5M65.8 447.5h0.5M65.8 448.5h0.8M65.8 449.5h0.8M65.8 450.5h0.8M65.8 451.5h1M65.8 452.5h1M65.8 453.5h1.2M65.8 454.5h1.2M65.8 455.5h1.5M65.8 456.5h1.8M65.8 457.5h1.8M65.8 458.5h2M65.8 459.5h2.2M65.8 460.5h2.5M65.8 461.5h2.8M65.8 462.5h3M65.8 463.5h3M65.8 464.5h3.2M65.8 465.5h3.5M65.8 466.5h3.8M65.8 467.5h4M65.8 468.5h4.2M65.8 469.5h4.5M65.8 470.5h4.8M65.8 471.5h5M65.8 472.5h5.5M65.8 473.5h5.8M65.8 474.5h6M65.8 475.5h6.5M65.8 476.5h6.8M65.8 477.5h7.5M65.8 478.5h8.2M65.8 479.5h8.8M65.8 480.5h9.5M65.8 481.5h10.2M65.8 482.5h11M65.8 483.5h11.5M65.8 484.5h12.5M65.8 485.5h13.5M65.8 486.5h15M65.8 487.5h16.5M65.8 488.5h18M65.8 489.5h19.5M65.8 490.5h21.2M65.8 491.5h23M65.8 492.5h25M65.8 493.5h26.8M65.8 494.5h28.8M65.8 495.5h31.8M65.8 496.5h4.2M72 496.5h28.2M65.8 497.5h3.2M73 497.5h30.2M65.8 498.5h3.8M72.5 498.5h33M65.8 499.5h3.5M71.5 499.5h34M65.8 500.5h2.5M72.5 500.5h2M76.8 500.5h28.8M65.8 501.5h2.5M72.8 501.5h0.8M77.5 501.5h28M65.8 502.5h2.8M77.5 502.5h28M65.8 503.5h3.5M72.2 503.5h1.2M76.8 503.5h28.8M66 504.5h39.5M66 505.5h39.5M66 506.5h39.5M66 507.5h39.5M66.2 508.5h4.8M74.2 508.5h31.2M66.5 509.5h3.5M75.2 509.5h30.2M67 510.5h2.5M76 510.5h29.5M76.5 511.5h29M77.2 512.5h28.2M79 513.5h0.8M85.5 513.5h20M86.5 514.5h19M86.2 515.5h19.2M85.8 516.5h19.8M84.8 517.5h20.8M77.5 518.5h28M78 519.5h27.5" stroke="#0000f0" stroke-width="1.3" fill="none"/><path d="M64.7 313.5h0m0.6-0.9h0m-0.6 6.8h0m0.2-1.1h0m0.1 0.5h0m0.1-1.1h0m-0.4 2.8h0m0.1-0.6h0m0.1 1.1h0m0.1 0.6h0m0.4 0.5h0m-0.8 2.2h0m0.2 1.1h0m0-1.6h0m0.1-1.1h0m0.1 0.5h0m0.1 1.7h0m-0.6 2.7h0m0.3-1.6h0m0.3 0.5h0m0.1 1.7h0m0-1.1h0m-0.5 3.9h0m0.1-1.1h0m0.2-1.1h0m0 1.6h0m0.2-1.1h0m-0.5 5h0m0.1-1.7h0m0 0.6h0m0.2-1.7h0m0.1 2.2h0m0.1-1.6h0m-0.4 3.8h0m0.1-1.1h0m0 1.7h0m0.3 0.5h0m0.1-1.6h0m-0.8 3.3h0m0.3-1.1h0m0 2.2h0m0.3-1.7h0m0.2 1.1h0m-0.5 8.9h0m0.1 0.8h0m0.2 0.2h0m-0.8 2.9h0m0.2-2.3h0m0.1 5.1h0m0.5 0.6h0m0.3-2.6h0m-1 4.8h0m-0.1 2.5h0m1.1-0.6h0m0 3.3h0m-0.9 3.9h0m0.6-1.5h0m0.2 4.1h0m-0.3 1.5h0m-0.4 4.1h0m0.5-1.2h0m-0.7 3.2h0m0.9 1.2h0m-0.6 4h0m0.8-1h0m-0.9 3.1h0m0.8 0.2h0m-0.6 1.7h0m0.8 1.4h0m-0.4 2.4h0m0 1.1h0m-0.9 1.2h0m1.3 1.8h0m-0.9 3h0m0.7-1.6h0m-1.1 2.1h0m0.2 2.7h0m-0.1 2h0m1.1-1.6h0m-1 3.1h0m0.2 2.1h0m0.6 0.4h0m0.7-2.2h0m-1.1 5.3h0m0.8-1.2h0m-0.2 2.9h0m0.1 0.9h0m0.2-0.3h0m-1.1 3.7h0m0.9-0.8h0m0.3-0.1h0m-1 3.4h0m0.4-1.3h0m-0.2 5h0m0.2-2.3h0m0.5 1.8h0m0.6-1.5h0m-1.3 3.2h0m0.5 1.6h0m0.3 0.2h0m-0.6 1.1h0m0.4 0.9h0m0.3 0.6h0m0.1-2.2h0m-1.6 4.4h0m0.9-1.4h0m1.3 0.7h0m-2.1 2.8h0m0.7 1.2h0m0.5-1.6h0m0.8 1.8h0m-1.7 3h0m0.5-1.5h0m1.3 1.2h0m0.2-1h0m-2 3h0m0.2 1.5h0m1.1 0.3h0m0.7-1.8h0m0.3-0.7h0m-1.8 5.2h0m0.1 0.3h0m0.2-2.6h0m0.3-0.1h0m0.7 1.2h0m-1.7 3.6h0m1 0.2h0m0.3-1h0m-1 2.7h0m0.3 1.5h0m0.6-1.5h0m0 1.7h0m-1 1.9h0m0.4-1.3h0m0.5 0.2h0m0.3 1.7h0m0.8 0.3h0m0.6 0.3h0m0.1-2.5h0m-3.6 5.4h0m0.9-0.3h0m0.3-1.7h0m0.5-0.2h0m0.2 1.5h0m1.1 0.7h0m0.9-1.5h0m-3.6 3h0m1.3 0.1h0m0.2-0.6h0m2.1 0.8h0m0.5-0.8h0m-4 4.3h0m0.5-1.2h0m0.8 0.7h0m1.2-1.3h0m1.1 2h0m0.7-1h0m0.4 1.5h0m-5.1 1.1h0m0.3 1.7h0m0.5-1.6h0m0.7 0.7h0m0.4-1.2h0m0 2.7h0m1.7-2.8h0m1.4 1.3h0m0.4 1.6h0m-5.4 1.9h0m0.9 0.4h0m0.8-1.6h0m0.5 2.2h0m2.7-1.1h0m0.7 0.8h0m0.3-0.3h0m-5.3 1.9h0m4.9-0.2h0m0.5 0.2h0m-6 2.8h0m0.2 1.7h0m0.6-2.6h0m0.7 0.5h0m0-0.5h0m4.6 0.1h0m0.3 0.1h0m0.3 2.4h0m1-1.9h0m0.5 2.1h0m-7.6 1.4h0m0.2 1h0m1.3-1.5h0m5.8 1.8h0m0.5-1.2h0m-7.8 2.5h0m0.6 2h0m0.5-0.7h0m0.3-1h0m6.8 0.4h0m0.3-1h0m-8.7 2.8h0m0.5 1.4h0m0.9-1.7h0m7.8 0.3h0m0.8-0.3h0m2.5 2.3h0m0.2 0.6h0m-13.1 2.6h0m0.1 0.3h0m0.3-1.7h0m1.2 0.1h0m10.4-0.7h0m1.1 0.8h0m-12.2 4h0m0.7-0.8h0m13-1.4h0m1.8 1h0m0.3 0.1h0m1.2 0.1h0m-17.7 3.5h0m0.3-1.5h0m1 2.3h0m0.1-2.6h0m18.3 0.2h0m1.4 1.1h0m0.3-0.4h0m0.5 1.2h0m1.7 0.7h0m-23.7 0.5h0m0.3 1.1h0m1.7 0.4h0m22.6-0.5h0m1.7-0.2h0m0.5-0.4h0m0.9 0.7h0m-27 2.1h0m0.2 1.4h0m0 0.4h0m0.9-1.6h0m0.3 1.4h0m4.5 0.5h0m22.1-2.2h0m0.2-0.4h0m1.3 1.3h0m1-0.6h0m0.2 1.1h0m1.5 0.3h0m0.9-0.9h0m1.6 0.9h0m2.2 0.6h0m2.2 0h0m-39.2 1.5h0m0.5 1.6h0m0.7-1.6h0m0.3-0.5h0m2.7 0.3h0m1.4 0.4h0m0.2 1h0m0.9-0.5h0m1.1-1.7h0m0 2h0m27.3-2.1h0m1.3 0h0m3.1 1.1h0m0.8-0.7h0m0 0.7h0m1.3 1.2h0m0-1.7h0m0.5 0.2h0m-42.3 3.6h0m0.6 0.7h0m0.4 0.7h0m2.7-0.8h0m1-0.8h0m1.5-0.4h0m1.4 0.2h0m0.1 1.2h0m0.6-1h0m1.9-0.2h0m0.7-0.7h0m0.9 1.6h0m1.2-0.1h0m28-1.7h0m0.1 0.5h0m0.2 1.9h0m0.9-0.6h0m-41.7 3.2h0m0.3-0.2h0m0.3-1.1h0m0 1.9h0m2.6-2.3h0m1.3 0.7h0m0.1-1.3h0m0.7 0.6h0m0.7 1.1h0m1-1h0m1.5 0.5h0m0.4-0.9h0m0.9 0.7h0m0.1 1.4h0m0.8-0.9h0m0 0.9h0m1.3-2.1h0m28.9 0.9h0m0.8 1h0m-42.3 3.5h0m0.4-1.8h0m0.8 1.6h0m6.5 0h0m32.9-2.3h0m0.7 0.8h0m0.6 0.6h0m-41.1 4.1h0m0.4 0h0m0.4-1.9h0m1 1.8h0m1.4-0.5h0m2.3 0h0m0.4-0.4h0m0.4-1.1h0m1.8-0.2h0m1.6 2.1h0m0.4-1h0m0.4 0.6h0m29.8-1.8h0m0.1 1.4h0m0.1 0.6h0m1-0.5h0m0.1 0.3h0m-40.8 1.7h0m3 0.4h0m6.7-0.5h0m0.5 1.6h0m2 0h0m0.2-1.2h0m0.2 0.4h0m1.1 0.9h0m0.5-1.1h0m0.8 1h0m1-1.1h0m0.8 1.5h0m0.8 0h0m0.2-1.5h0m0.7 0h0m0.1 1.7h0m21.2-0.7h0m0-0.6h0m0.5 0.6h0m-29.5 3.5h0m0.1-1.6h0m0.4 1h0m2.6-0.9h0m0.1 1.1h0m2.6-0.1h0m1.9 0.8h0m1-2h0m0.4 1.1h0m0.4-0.9h0m19.4 0.1h0m1.1 0.8h0m-30.4 2.6h0m0.6-0.3h0m0.2 0.4h0m1.5-1h0m0.6 1.6h0m1.4-1.4h0m0 1.9h0m1.2 0.1h0m0.2-2.4h0m0.8-0.1h0m0.7 1.7h0m0.9 0.2h0m2.1 0h0m1.3 0.2h0m0.9 0.2h0m1.6-0.2h0m1.1-0.5h0m4.2 0.4h0m1.5 0h0m1.1 0.1h0m4.2 0h0m2-0.3h0m0.5-0.4h0m0.5-0.7h0m1.4 0.5h0m-28.1 2h0m3.1 0.5h0m1.4-1.1h0m1.1 0.8h0m1.9-0.6h0m1.3 0.7h0m1.4-0.4h0m2.4 0h0m1.1 0.4h0m2.5-0.6h0m1.5-0.3h0m2.7 1.1h0m1.1-1h0m2 0.9h0m1.4-0.9h0m2.3 0.9h0m0.7-0.8h0" stroke="#0000f0" stroke-width="2.4" stroke-linecap="round" fill="none"/>
<path d="M109 502.5h11M109 503.5h27.8M109 504.5h39M109 505.5h39M109 506.5h39M109 507.5h39M109 508.5h33.8M143.8 508.5h1.2M146 508.5h2M109 509.5h32.8M147 509.5h1M109 510.5h32.2M147.5 510.5h0.5M109 511.5h33.2M147.5 511.5h0.5M109 512.5h33.8M147.5 512.5h0.5M109 513.5h32.8M147 513.5h1M109 514.5h33.5M146.2 514.5h1.8M109 515.5h39M109 516.5h39M109 517.5h39M109 518.5h39M109 519.5h39" stroke="#92ffff" stroke-width="1.3" fill="none"/><path d="M111.1 498h0m-2.3 2.7h0m1.2 0.3h0m0.6 0.6h0m1.5 0.1h0m3.6-0.7h0m0.3 1.4h0m0.3-0.8h0m0.8 0.6h0m1.4 0.3h0m1.3-0.7h0m0.8-0.4h0m6.1 0.5h0m5.9 0.3h0m6.4 0.3h0m-31.5 2.5h0m0.2-1.7h0m0.4 0.4h0m0.9 1.2h0m0.7-0.8h0m2.1-1.6h0m0.4 0.4h0m7.8-0.4h0m1 0.5h0m0 0.5h0m1.5-0.8h0m1-0.1h0m1.4 0.4h0m2.4-0.1h0m1.5-0.2h0m1.1 1.2h0m0.2-1.2h0m1.2-0.2h0m3.1 0.4h0m0.2 0.9h0m1-0.9h0m1.6 1h0m1.9 0.2h0m0.4 0.4h0m3.2-1.2h0m0.7 0.5h0m1.2 0.4h0m0.6-0.1h0m1.8 0.6h0m0.5-1.6h0m1.1-0.2h0m0.8 1.5h0m-41.8 3.1h0m1.8 0.9h0m0-0.9h0m34.2 0.7h0m1.9-0.3h0m2.2-1.1h0m0.1 1.2h0m0.7-2.2h0m0.3 2.5h0m0.1-0.9h0m-40.8 1.3h0m0.4 0.6h0m33.5 0.4h0m0 1.4h0m0.9-1.4h0m1.2 0.9h0m0.5 0.5h0m0.6-0.5h0m1.8 0.7h0m0.1-0.7h0m1.4 0.8h0m0.1-1.9h0m-41 3.3h0m0.2-0.9h0m0.5 2.3h0m0.9-1.7h0m0-0.5h0m0.4 2.2h0m32.2-0.3h0m0.9 0.2h0m1-2.2h0m0 1.4h0m1.3-0.2h0m1.4 1.2h0m1-0.9h0m1-0.2h0m0.3 0.7h0m-40.7 1.1h0m0.1 2.3h0m35.8-1.3h0m0.4-1.5h0m4.1 1.2h0m0.5 0.9h0m-40.6 2.6h0m0.6 1.2h0m0.6-1.7h0m0.2-1.1h0m0.4 2.1h0m1.5 0.3h0m0.6 0h0m1.8 0.3h0m2.4-0.6h0m2.5 0h0m2 0.3h0m3.7 0.3h0m1-0.4h0m3.1 0.6h0m1.2-0.2h0m1.4-0.3h0m4.4-0.2h0m4.2 0.5h0m2.2 0.2h0m1.3-0.3h0m0.6-0.7h0m2 0.3h0m0.9 0.7h0m2.3-0.3h0m0.1-1.1h0m0.3-0.1h0m-42 2.7h0m2.3-0.8h0m2.6-0.1h0m1.2 0.3h0m1.7-0.5h0m0.1 1.1h0m1.3-0.5h0m1.2 0.3h0m1.8-0.9h0m0.3 0.7h0m2-0.1h0m0.5-0.6h0m1.7 0.3h0m3.3-0.2h0m1.5 1h0m0.3-0.1h0m1.8-0.5h0m1.3-0.2h0m1.7-0.1h0m0.6 0.4h0m0.3 0.3h0m1.7-0.4h0m0.1-0.5h0m1.3 0h0m0.8 0.4h0m2.1-0.1h0m3.3 0.5h0m1.9 0.2h0m0.5-0.8h0" stroke="#92ffff" stroke-width="2.4" stroke-linecap="round" fill="none"/>
<path d="M151.5 504.5h1.5M151.5 505.5h15M151.5 506.5h26.8M151.5 507.5h26.8M151.5 508.5h26.8M151.5 509.5h26.8M151.5 510.5h26.8M151.5 511.5h26.8M151.5 512.5h26.8M151.5 513.5h26.8M151.5 514.5h26.8M151.5 515.5h26.8M151.5 516.5h26.8M151.5 517.5h26.8M151.5 518.5h26.8M151.5 519.5h26.8" stroke="#70c43e" stroke-width="1.3" fill="none"/><path d="M150.4 505.3h0m0.9-1.3h0m0.5-0.6h0m0.7 1.2h0m1.6 0.5h0m0.2-1.3h0m0.9 1.2h0m0.1-1.2h0m0.5-1.2h0m0.6 1.7h0m0 0.7h0m1.2-0.8h0m0.6 0.6h0m0.7-0.3h0m0.6-0.4h0m0.7 0h0m2.6 1h0m0.9-2.5h0m0 1.5h0m0.4 0.6h0m1.1-0.2h0m1.9-0.1h0m0.6 0h0m0.2 0.3h0m1.6-0.2h0m3.1 0.7h0m0.7-2.1h0m1.4 1.8h0m3-2.3h0m-27.4 5.9h0m0.4-1.7h0m1.2-0.1h0m9.1-0.8h0m3.9 0.3h0m1.3-0.4h0m2.5 0.4h0m0.5-0.1h0m1.2-0.4h0m0.3 0.7h0m1.1-0.2h0m2 0.6h0m2.1-0.6h0m0.7 0.5h0m1.6 1.7h0m0.6-1.9h0m0.9 0.4h0m0.2 1.4h0m0.6 0h0m1.4-1.2h0m0.1 0.6h0m1.6-1h0m0.2 0.9h0m1.7 0.4h0m0.7-1.3h0m1.5 0.7h0m0.6-0.1h0m1.9 0.9h0m0.8-0.1h0m-40.3 3.1h0m0.5-1.8h0m0.9 1.1h0m26.1-1.3h0m0.4 1.4h0m1.5 0.7h0m0.1-2.5h0m0.6 1.2h0m0.3 1h0m1.5-2.1h0m0.4 1.6h0m0.8-1h0m1.5 1.1h0m0.8-0.4h0m0.4-1.1h0m2.4 0.9h0m0.1 0.9h0m0.4-1.9h0m0.6 1.3h0m1-1h0m-40.7 3.7h0m0.9 0.2h0m27.2-0.3h0m0.6 0.4h0m0.2-1.2h0m1.5 1h0m0.1 0.5h0m1.6-0.8h0m3.3-0.7h0m1.3-0.5h0m0.2 0.8h0m0.9 1.4h0m0.7-2.1h0m1.8 2.5h0m0.2-0.1h0m0-1.7h0m1.7 0h0m-42 2.6h0m0.8 2.3h0m0.2-2.8h0m0.7 1.4h0m26.2-1.1h0m0.3 2.1h0m0.4 0.2h0m0.4-2h0m1.8 0.9h0m0.1 1.3h0m0.5-1.2h0m0.7-0.3h0m1.7 0.6h0m0.1-0.4h0m1-1.5h0m0.7 2.2h0m0.9 0h0m0.1-1.2h0m1.4-0.8h0m0.6 2.7h0m0.3-1.9h0m0.4 0.8h0m1.1-1.1h0m0.4 1.5h0m-40.9 2.4h0m0.3-1h0m0.6 2.3h0m0.4-0.7h0m1.4 0.3h0m2.2-0.1h0m2.5 0.2h0m2.2-0.2h0m2.9-0.3h0m1.1 0.7h0m2.2 0h0m5.6-0.1h0m3 0h0m2.5-0.9h0m0.9-0.6h0m0.2 1.2h0m1.7-0.8h0m0.1-0.6h0m0.4-0.4h0m2.2 1.1h0m0.4-1h0m0.2 1h0m0.1-1.3h0m1.8-0.1h0m0.5 1.9h0m0.6-0.5h0m0.6-0.4h0m1.5 0.6h0m0.2-1.9h0m1.4 1.3h0m0.2 0.4h0m1-1h0m-40.9 3.7h0m1.7-1h0m1.8 0.4h0m1.4 0.4h0m0.6-0.6h0m1.8 0.1h0m0.3 0.8h0m1.3-0.1h0m0.2-0.1h0m1.1-1h0m2.2 0.4h0m0.9-0.5h0m2.1 0.2h0m0.9-0.2h0m2.1 0.8h0m1.4-0.6h0m3.7 0.1h0m1.6-0.4h0m1 0.2h0m2.5 0.4h0m2.7-0.6h0" stroke="#70c43e" stroke-width="2.4" stroke-linecap="round" fill="none"/>
<path d="M194.2 509.5h10.5M194.2 510.5h16.5M194.2 511.5h17.8M194.2 512.5h8" stroke="#dd0000" stroke-width="1.3" fill="none"/><path d="M193 508.1h0m1.8 0h0m1.5-0.3h0m2.6 0.6h0m2.4-0.2h0m0.3 0.2h0m2.9-0.3h0m1.5 0.3h0m-12.5 0.8h0m0.1 1.8h0m1.8-1.6h0m1.9-0.5h0m1.5 0.8h0m1.4-0.6h0m2.6 0.6h0m0.1 0.4h0m0.1-0.9h0m2.3 0.4h0m1.3 0.3h0m0-1.3h0m0.7 0.2h0m0.7 1.9h0m0.9-1.1h0m0.6 0.4h0m0.7-0.6h0m0.3 0.9h0m0.6 1.2h0m0.9-1.1h0m1.2 0.8h0m2.4-0.2h0m1.3-0.5h0m5.4 0.7h0m0.9-0.4h0m0.9-0.3h0m0.9-0.4h0m0.8-0.2h0m0.9 0.6h0m0.9 0.7h0m-34.2 2.8h0m0.3-1.4h0m1.7 1.1h0m0.7 0.5h0m1.9-1.1h0m0.6-0.3h0m2.1 0.2h0m0-0.3h0m2-0.2h0m0.1 0.9h0m0.2-1h0m1.3 0.5h0m0.1-0.2h0m1.4 0.7h0m1.2 0.1h0m0.2-0.9h0m0.1 0.4h0m1-1.3h0m0.6 0.1h0m3.8-0.2h0m0.1 1.2h0m1.6-0.2h0m1.3-0.7h0m0.3 0.6h0m3.2-0.8h0m1 0h0m1.3-0.2h0m6.8 0.2h0m0.7 0.3h0m-35.4 3h0m1.8 2h0m-2 1.2h0m1.3 2.3h0m5.2-1.4h0" stroke="#dd0000" stroke-width="2.4" stroke-linecap="round" fill="none"/>
<polygon points="116.6,498.9 122.8,508.9 110.4,508.9" fill="#f2b266" stroke="#1a1a1a" stroke-width="1.1" stroke-linejoin="miter"/><circle cx="116.6" cy="505.6" r="0.45" fill="#8a5a20"/><polygon points="186.2,518 192.4,508.4 180,508.4" fill="#f2b266" stroke="#1a1a1a" stroke-width="1.1" stroke-linejoin="miter"/><circle cx="186.2" cy="511.6" r="0.45" fill="#8a5a20"/><polygon points="234.7,504.9 240.6,510.8 234.7,516.7 228.8,510.8" fill="#f2b266" stroke="#1a1a1a" stroke-width="1.1" stroke-linejoin="miter"/><circle cx="234.7" cy="510.8" r="0.45" fill="#8a5a20"/>
<path d="M421.5 453.5h0.5M421.5 454.5h0.5M421.5 455.5h0.8M421.5 456.5h1M421.5 457.5h1M421.5 458.5h1.2M421.5 459.5h1.5M421.5 460.5h1.8M421.5 461.5h2M421.5 462.5h2.2M421.5 463.5h2.2M421.5 464.5h2.5M421.5 465.5h2.8M421.5 466.5h3M421.8 467.5h3M421.8 468.5h0.5M423.5 468.5h1.5M424.5 469.5h0.8M424.8 470.5h0.8M423.8 471.5h2M421.8 472.5h4.5M421.8 473.5h4.8M421.8 474.5h5M424.5 475.5h2.8M425.5 476.5h0.8M424.5 477.5h0.8M423.5 479.5h1.5M428.2 479.5h1.5M421.8 480.5h4.8M427.2 480.5h2.2M421.8 481.5h6.8M421.8 482.5h7M421.8 483.5h8M431 483.5h1.5M421.8 484.5h11.8M422 485.5h12.5M422 486.5h14M422 487.5h0.5M424.8 487.5h4.5M432 487.5h2M436 487.5h1.5M425.8 488.5h2.5M426.2 489.5h2M439.8 489.5h0.8M425.5 490.5h2.2M432.5 490.5h0.5M435.8 490.5h2.2M438.8 490.5h3.5M426 491.5h1.2M431.8 491.5h2.2M434.5 491.5h9.5M430.8 492.5h15.2M431.5 493.5h16.2M434.2 494.5h15.5M435.2 495.5h8.8M444.5 495.5h8.2M435.8 496.5h2.8M439 496.5h4M445.8 496.5h7M454.2 496.5h1.2M435 497.5h1M440 497.5h2.2M446.8 497.5h5M455.2 497.5h3.2M434 498.5h1M441.5 498.5h1.5M446 498.5h5.5M455.8 498.5h1.8M460 498.5h0.5M433.5 499.5h1.8M442 499.5h10M456.5 499.5h0.8M434.8 500.5h0.5M437 500.5h1.2M439.2 500.5h0.8M441 500.5h1M444 500.5h8.2M457.5 500.5h0.8M438.2 501.5h3M445 501.5h4M451 501.5h2.2M439.2 502.5h0.5M440.8 502.5h0.5M445.5 502.5h3M452 502.5h0.5M453.5 502.5h1.2M458 502.5h0.8M459.2 502.5h0.5M444.8 503.5h4M454.5 503.5h1.2M457 503.5h0.5M460.2 503.5h0.5M441.5 504.5h1.5M443.5 504.5h2.2M447.5 504.5h1.2M455 504.5h1.5M435.2 505.5h4.8M440.5 505.5h4.2M448.5 505.5h1.2M454.5 505.5h2.5M460.2 505.5h0.5M435.2 506.5h9.8M448.2 506.5h2.8M453.5 506.5h4.5M459.2 506.5h1.5M435.5 507.5h3.5M440.5 507.5h5.5M447.2 507.5h3M453.2 507.5h7.5M435.5 508.5h2.5M441.5 508.5h8.2M453.5 508.5h1.8M456 508.5h4.8M435.5 509.5h2M441.5 509.5h9.2M452.5 509.5h1.8M457 509.5h3.8M436.2 510.5h0.5M440.8 510.5h12.8M457.8 510.5h3M439.8 511.5h14.8M456.8 511.5h4M437.5 512.5h0.8M438.8 512.5h11.2M451.5 512.5h1.5M454.2 512.5h6.5M439 513.5h8M455.2 513.5h3.2" stroke="#0000f0" stroke-width="1.3" fill="none"/><path d="M420.1 312.6h0m0 0.6h0m-0.2 1.8h0m0.2-0.6h0m0.3-0.6h0m-0.3 4.5h0m0.3 0.8h0m-0.3 0.8h0m-0.6 8h0m0.5-0.6h0m0.4 1.2h0m-0.7 1.1h0m0.3 0.6h0m0.1-1.2h0m0.2 1.8h0m0.1 0.6h0m-0.3 1.7h0m0 0.6h0m0 0.6h0m0-2.3h0m0.4 0.5h0m-0.6 2.4h0m0 0.6h0m0.3 0.5h0m0 1.2h0m0.1-0.6h0m-0.4 3.9h0m-0.1 7.6h0m0.1 0.6h0m0.1 0.5h0m-0.1 0.6h0m0.2 1.6h0m0-1.1h0m0.2 1.7h0m0.4-1.1h0m-0.9 2.7h0m0.2 1.1h0m0.1-1.6h0m0.1-0.6h0m0.3 2.8h0m0-1.1h0m-0.5 2.2h0m0.1 1.1h0m0-1.7h0m0.2 1.1h0m0.4 1.1h0m-0.8 1.7h0m0.1-1.1h0m0.1 1.6h0m0.1 0.6h0m0.1 0.5h0m0.1-2.2h0m-0.6 2.8h0m0.1 1.6h0m0.4-1.1h0m0.1 1.7h0m0.2-1.1h0m-0.7 3.8h0m0.1-2.2h0m0.1 2.8h0m0.1-1.1h0m0.2-0.6h0m0.1-0.5h0m-0.3 3.3h0m0 0.5h0m0-1.1h0m0.2 1.7h0m0.2 0.5h0m-0.7 0.6h0m0.1 1.1h0m0.2-0.6h0m-0.3 4.5h0m-0.2 5.5h0m0 0.6h0m0 2.4h0m1-1.3h0m-0.7 3h0m0.5 1h0m-0.2 1.6h0m0.1 1.3h0m-0.8 2.5h0m0 0.4h0m0.4 1.6h0m0.3 2.4h0m0.7-0.2h0m-0.4 1.6h0m0.3 1.4h0m0.1-1.1h0m-1.1 2.8h0m1 0.3h0m0.2 0.6h0m-0.6 4.2h0m0.3-1.8h0m0.2 0h0m0-0.5h0m-1 4.6h0m0.6 2.3h0m0.4-0.6h0m-0.7 3.4h0m0.6 1.4h0m0.2-0.5h0m-0.5 1.9h0m-0.3 4.5h0m0.5-1.2h0m0.1-1.2h0m-0.4 4h0m-0.7 1.9h0m0.1 2.9h0m0.1 0h0m1.1-0.8h0m-0.3 2.5h0m-0.5 4.1h0m0.4-2.2h0m0.4 1.8h0m0.7-1.6h0m-0.8 2.3h0m0.9 2.4h0m-1.9 1.1h0m0.3 1.2h0m1.3-1.2h0m0.3 1.6h0m-1.4 3.3h0m0.4-1h0m0.8-0.8h0m0.6 0.9h0m0.2 1.4h0m-2.4 2.6h0m0.4-0.8h0m0.8-0.4h0m0.6-0.7h0m0.8 2.4h0m-2.4 1.1h0m0.8-0.1h0m0.9-0.9h0m1.2 2.3h0m-1.4 1.8h0m0-0.7h0m0.7 2.3h0m0.8-1h0m-3.3 3h0m0.6-1.6h0m0.7 1.8h0m0.2-1.7h0m0.1 0.7h0m1.2 0.7h0m-1.3 2.5h0m0.5 1.8h0m0.9-2.9h0m0.2 0.4h0m0.6 2.2h0m0.4 0.2h0m-3.9 0.3h0m1 1.8h0m0.7-0.7h0m1.7 0.1h0m0.7 0.4h0m-4 2.9h0m1.8 0.4h0m0.1-1.1h0m1.4-1h0m0 1.7h0m0.3 0.7h0m1-1.4h0m0.5 1.3h0m-5.3 2.8h0m0.1-0.8h0m1.4-1h0m0.3 2.2h0m3-0.2h0m0.3-1.2h0m1 1.6h0m-5.8 0.8h0m1.4 0.5h0m0.2 1.4h0m0.6-0.6h0m2-1.5h0m0.6 1.3h0m0.1 0.5h0m1.1-0.6h0m-5.8 1.7h0m0.4 0.3h0m0.1 2h0m2-0.7h0m0.9-0.4h0m0-0.3h0m2.1 1h0m0.4-1.4h0m0.3 0.3h0m0.9 1.4h0m-7 1.7h0m0.3 1h0m1.1-1.2h0m0.5-0.8h0m1.1 2.2h0m3.7-0.8h0m0.1-1.2h0m-6.8 3.9h0m0.2 1.3h0m0.5-1.4h0m1.9 0.9h0m0.3-1.4h0m0.4 0.7h0m1-1h0m0.7 1.6h0m0.9-1.5h0m0.4 1.4h0m0.9-1.1h0m1.1 0.6h0m-8.1 3h0m0-0.8h0m0.3-0.3h0m1.2 2.3h0m2-1.8h0m1.6 0.1h0m0.5 0.6h0m0.6 0.8h0m1.6-0.7h0m0.4-0.6h0m0.9-0.6h0m1 1.3h0m0.8 0.5h0m-11.1 2.3h0m0.4-0.7h0m0.5 2.2h0m0.7-1.8h0m6.4-0.6h0m0.9 1.7h0m0.5 0h0m1.8-2h0m0.4 1.6h0m1.3 0h0m-12.3 2.3h0m1.4 0.1h0m0.9 1.2h0m1.3 0.5h0m5.6 0h0m2.8-2.6h0m1.2-0.1h0m0.4 1h0m0.2 1.5h0m1.5-0.8h0m1.5 0h0m0.3 0.8h0m-17.5 2.7h0m1-1.1h0m0.1-0.6h0m2.5 1.9h0m0.5-1.4h0m0.7-0.5h0m0.4 0.5h0m2.1 1.4h0m0.6-2.4h0m0.8 1.9h0m2.3-1.6h0m0.2 2h0m0.4-0.3h0m0.3-0.5h0m0.3 1.1h0m2.6-2.3h0m0.8 1.4h0m0.6-1.6h0m0.3 1.2h0m1.1-0.6h0m1.4-0.4h0m0.1 0.9h0m2 1.1h0m1.2 0.2h0m0.3-0.6h0m-17.7 1.5h0m0.4 0.3h0m0.1 1.3h0m1.4-1.2h0m0.5 1.6h0m0.1-2.3h0m0.7 1.4h0m0.9 0.9h0m1.1-1.5h0m0-0.9h0m1.2 1.1h0m1.9 0.1h0m0.1-1.1h0m4.5 0.5h0m0.3-0.7h0m4.6 0.9h0m1.1-0.3h0m1.1 0.4h0m0.7 1.7h0m1 0h0m0.7-1h0m1.6 1.1h0m-21.1 0.1h0m1.1 2.5h0m1.1-1.6h0m0.6-0.7h0m0.8 2.1h0m0-0.4h0m1.7-0.8h0m0.3-0.2h0m1.2 0.7h0m0.7 1h0m1.1 0h0m7.2-0.9h0m6-1.1h0m0.6-0.5h0m1.2 2.5h0m0.1-1.7h0m0.6 0.9h0m0.7 1h0m0.6-1.3h0m0.3 0.9h0m-21.6 2.3h0m1 1.2h0m0.1-0.4h0m0.7-1.7h0m0.6-0.5h0m0.2 0.4h0m1.4 1h0m3.3 0.3h0m0.2-1.2h0m1.7 1.9h0m0.5 0h0m1.1-1.7h0m0.7-0.6h0m0.8 1.2h0m0.9-1h0m5.5 1.5h0m0.5-1.3h0m1 1.9h0m0-0.8h0m2.2-0.1h0m0.3 1h0m0.1-2.4h0m0.8 2.4h0m1.3-2.5h0m0.2 0.4h0m0.1 1.7h0m1-2h0m0.6 1.3h0m0.5 0.6h0m0.5-1h0m-39.2 3.8h0m1.6-0.2h0m9-1.7h0m2.2 0.7h0m0.5 1h0m0.6 0.4h0m1.1-1.5h0m0.8-0.1h0m0 1.7h0m1.6-2.1h0m0.5 0.4h0m0.2 2.2h0m0.8-0.5h0m0.3-1.7h0m1.6 0.4h0m1 0.5h0m0.9-1.5h0m0.3 1.2h0m5.2 0.9h0m0.7-1h0m0.3 0.7h0m2-0.8h0m0.9 0.4h0m0.3 1.2h0m1.4-1.9h0m0 1.6h0m0.6-0.7h0m0.3 1.3h0m1.4-1.7h0m0.7 1.5h0m0.8-0.7h0m0.8-1.8h0m0 1.4h0m0.4 1h0m1.5-0.7h0m0.5-0.9h0m-41.6 2.9h0m0.1 1.8h0m0.8-2.3h0m2.4 0.9h0m5.3 0h0m1.3 1.4h0m2.3-1.3h0m0.3 1.2h0m1-1h0m0.8 0.9h0m1.1 0.2h0m0.9 0.2h0m0.8-1.3h0m1.4-0.5h0m0.5 0.7h0m0.2-1.1h0m0.7 1.1h0m1.9-1.5h0m0.1-0.2h0m0.5 2.5h0m0.1-1.4h0m1.1-0.6h0m0.1-0.5h0m0.8 2.6h0m0.9-0.1h0m0.7-1h0m0.3 0h0m0.3 0.2h0m1.5-0.5h0m0.8 0.7h0m0.6 0.7h0m0.9-1.2h0m0.4 0.7h0m0.9-2h0m1.4 1.7h0m0.7-1.1h0m2-0.4h0m0.6 1.1h0m0.5 0.5h0m1.5-0.8h0m2.1-0.1h0m0.1 0.8h0m0.1-1.3h0m-39.4 4h0m0.9-0.8h0m0.7 1h0m11.4 0.6h0m0.1-1.6h0m0.5 1.5h0m3.9 0.1h0m0.4-0.5h0m4.7-1.8h0m1.3 1.6h0m0.8-1h0m1.2 0h0m0.5 0.4h0m0.7 1.6h0m1.7-1.4h0m0.1 0.3h0m0.8 0.2h0m0.3-1.3h0m1-0.2h0m1.1-0.3h0m0.3 0.5h0m1 1.7h0m2-1.1h0m1.7-0.9h0m0.3-0.2h0m0.8 1.2h0m1.5-0.2h0m0.2 1.6h0m-40.5 1h0m1.2 0.8h0m7.5-0.4h0m1.7 0.2h0m0.5 1.7h0m1.6-1.2h0m0.3-0.3h0m1.8 1.5h0m1.5-0.9h0m0-1.7h0m0.7 2.6h0m1-2.7h0m0.9 0.4h0m1.4-0.2h0m9.3 0.6h0m0.7-0.7h0m1.2-0.4h0m0.9 1.1h0m0.1 1.3h0m1.3 0.2h0m0.1-2.4h0m0.6 0.7h0m1.3 0.8h0m0.2 0.2h0m0.2-0.4h0m2.7-1.5h0m0 1.7h0m1-0.5h0m0.5 0.5h0m0.3-0.7h0m-27.2 3.4h0m0.4 1.2h0m0.4-1.6h0m0.6 0.5h0m0.8-0.4h0m0.8 1.1h0m0.8-1.2h0m0.5 1.6h0m1.2-0.1h0m2.1 0.3h0m1.6 0.2h0m2.6-0.3h0m0.8-0.3h0m1.4-0.3h0m1.3-0.2h0m1.1-0.8h0m0.9 0.7h0m1.1-1.4h0m0.8 1.2h0m0.3-1.2h0m0.7 1.8h0m1.7-1.6h0m0.9 1.9h0m1.2-0.8h0m0.1-0.3h0m2-0.8h0m0.4 2.3h0m0.5-0.8h0m-26.7 2h0m0.4-0.1h0m1.6-0.3h0m2.1-0.2h0m1.7 0.9h0m0-0.6h0m0.3 1.5h0m0.5-1.3h0m3-0.1h0m1.9-0.8h0m3.2 1.2h0m0.4-0.8h0m1.2 1.5h0m1-2h0m1.1 0.4h0m1.7 0.7h0m1.1 0.2h0m1-0.3h0m1.4 0.9h0m2-1.3h0m-26.4 3.3h0m0.3 1.5h0m0.7 0.3h0m0.4-1h0m0.7-1h0m0.9 0.6h0m1.2 1.4h0m0.4-2.3h0m1.3 0.9h0m0.5-0.5h0m0.9 1.6h0m0.3 0.5h0m0.9-0.8h0m2.2-0.7h0m0.5-0.8h0m1.1 2h0m0.5-0.3h0m1.2-2h0m0 2.5h0m0.4-1.2h0m0-1.3h0m1.4 0.8h0m0.6 0.4h0m1.6 1h0m0.4-1.9h0m0.1 0.7h0m1 1.5h0m0.4-2.3h0m0.3 2.3h0m0.1-0.8h0m0.7-1.5h0m0.9 1.3h0m0.3-1.4h0m0.7 0.1h0m0.8 2h0m1.6-1.5h0m0.9 2h0m-24.9 1h0m1.7-0.1h0m3.1-0.3h0m4-0.5h0m7.5 0.5h0m5.1-0.1h0m0.4 0.2h0m1.5-0.7h0" stroke="#0000f0" stroke-width="2.4" stroke-linecap="round" fill="none"/>
<path d="M476.2 502.5h0.5M476 503.5h1.2M466.5 504.5h0.8M475 504.5h2.5M482.5 504.5h0.5M464.2 505.5h0.5M467.5 505.5h3.8M473.2 505.5h1.5M477.2 505.5h1M468.2 506.5h5.8M478.2 506.5h2M464.2 507.5h1.2M468.8 507.5h6M477.8 507.5h0.8M479.2 507.5h2M464.2 508.5h1M469.5 508.5h6.2M480.5 508.5h2.5M464.5 509.5h0.8M471.5 509.5h3.5M465 510.5h0.5M472.5 510.5h0.5M466 511.5h0.5M472 511.5h0.5M475.5 511.5h0.8M465 512.5h1.5M472 512.5h1.2M476.5 512.5h0.8M481.2 512.5h2.2M464.2 513.5h2.8M480.2 513.5h3M464.8 514.5h0.5M467.8 514.5h2.5M471.8 514.5h1M479.8 514.5h0.5M481 514.5h1.5M468.8 515.5h3M478.8 515.5h0.5M482 515.5h0.8M470.8 516.5h0.8M464.5 517.5h2M471.8 517.5h0.8M474.2 517.5h0.8M464.2 518.5h1.8M472 518.5h2.5" stroke="#92ffff" stroke-width="1.3" fill="none"/><path d="M464.1 500.8h0m1.5-0.2h0m1.6 1.7h0m1-1.2h0m1.1 0.7h0m2.5 0.3h0m0.8-1.1h0m0.7 1.4h0m1.7-0.5h0m1 0.6h0m4.2-0.6h0m1.9 0.5h0m1.5-0.7h0m3.5 0.8h0m-24.2 0.5h0m0.1 0.4h0m1.2 1.2h0m0.6-1.6h0m0.7 0.9h0m0.2 0.2h0m0.7-1.1h0m0 2.5h0m2.1-1.6h0m0.6 0.9h0m0.1-0.9h0m1.1 1h0m0.5-0.9h0m1.1 0.1h0m1.4 0.6h0m0.5-1h0m0.8 0.9h0m0.3-1.2h0m2.2 1.6h0m0.8-1.7h0m0.8-0.4h0m0.5 0h0m2.8 1.8h0m0-1.2h0m1.5 0.2h0m1.2 0.5h0m1.2-1.6h0m2 2.5h0m1.7-1.1h0m1.7 1.4h0m1.7-0.5h0m4.3-0.9h0m1.6 0.1h0m0.8 0.6h0m-36.1 0.8h0m0.1 0.7h0m0.6 1.4h0m1.3-1.1h0m0.2 1.9h0m0.4-1.2h0m1.6-1.4h0m0.2 0.9h0m0.8 1.2h0m2.1 0.4h0m0.6-2.5h0m0.4 0.7h0m2.6 0.4h0m0.5 1.3h0m1.6-0.3h0m0.3-0.7h0m1.4-1.4h0m0.2 1.1h0m1-0.9h0m0.2 1.2h0m0.4 0.4h0m0.4-1.7h0m0.9 1.3h0m0.1 0.5h0m1-1.2h0m1.9 0.6h0m0-1.5h0m0.4 1.5h0m2.2 0.9h0m0.4-1.6h0m2.3 0.6h0m2 0h0m0.4 1h0m0.3-1.9h0m2.1 0.6h0m0.2 0.6h0m3.8-0.7h0m2.9 0.1h0m0.4 1.5h0m1-0.9h0m-39.8 3.2h0m0.7-0.9h0m0.5-0.9h0m0.2 1.1h0m0.3 1h0m1.7-1.8h0m0.2 2.1h0m2.4-0.8h0m1.8-0.9h0m0.5 1.1h0m0.2-0.6h0m2.4 0.1h0m0.6 0.2h0m1.8 0.8h0m0.3-1.7h0m1 0.6h0m0.8 0.9h0m0.3-2.2h0m0.6 2.6h0m0.9 0h0m0.6-1.2h0m2-1.4h0m0.1 0.4h0m0 1.9h0m0.3-1.1h0m0.1 1.7h0m0.2-2.8h0m2.3 2.1h0m0.6 0.3h0m0.7-1h0m0.9 1.2h0m0.5-2.2h0m0.7 0.4h0m1.6-0.9h0m0.4 0.4h0m0.2 2.3h0m1.7-1.3h0m3.3 0.9h0m1.4-2.2h0m1.1 0.7h0m2.6 1.1h0m0.7-1h0m1.4-0.7h0m0.7 0.5h0m-41.3 3.1h0m1.1 1.2h0m0.6-0.6h0m1 1.1h0m1.2-0.8h0m0.4 0.1h0m0.4-0.6h0m0.1-1.3h0m1 0.3h0m0.1 2.7h0m0.3-1.5h0m1.1 1.4h0m0.9-2.4h0m1 0h0m0-0.2h0m0.7 2.2h0m0-2.4h0m0.4 2.5h0m0.1-1h0m2.1-1.5h0m0.4 2.5h0m1.1-1h0m0.6 0.1h0m0.5 1.3h0m1.4-1.6h0m0.5 0.6h0m0.2 0.6h0m0.6-2.2h0m2.9 1.6h0m0.5-1.3h0m2.5 0.8h0m0.3 1h0m0.9 0.4h0m1.4-0.8h0m1.3 0.3h0m0.1-1.5h0m1.4 0h0m0.5 1.2h0m6-0.4h0m1.2 0.8h0m1.3-0.6h0m3.6-1.7h0m0 1.4h0m-40.8 3.9h0m0.8 0.3h0m0.4-1.5h0m0.8 0.7h0m0.3-0.4h0m1.9-0.2h0m0.1 0.5h0m1.1-1.3h0m0.4 1.3h0m1.4-0.6h0m0.2 0.6h0m1.1-1.2h0m0.3 2h0m1.2-0.7h0m0.8-1.6h0m0.1 2.4h0m1.7-2.3h0m1.7 2.4h0m0.1-2.1h0m0.7 2h0m0.6-2.5h0m1.5 0.4h0m0.1 1.4h0m1.1-2.1h0m0.7 0.7h0m0.4-0.1h0m0.6 1.6h0m0.6 0.2h0m4-0.8h0m0.9 0.4h0m0.3-0.3h0m2.6 1.2h0m1.7-1.5h0m1.3-0.2h0m2.5 0.5h0m0.8 0.2h0m3-1.4h0m2.8 1.3h0m-41.7 2.5h0m0.9 0.8h0m0.9-1.6h0m0.1 1.8h0m1.2-0.7h0m1.1-0.1h0m0.4 1.1h0m0.4-1.5h0m1.6 1.7h0m1.2-0.2h0m0.5-2.4h0m1.3 0h0m0.5 1.9h0m0 0.7h0m1.3-2.3h0m0.6 0.9h0m0.6 0.2h0m3-0.6h0m1.2 1.2h0m1.7 0.6h0m1.3-2.8h0m0.4 2.7h0m0.4-1.2h0m0.1 0.6h0m1.2-0.6h0m1.1 1.1h0m1.1-0.1h0m1.5 0h0m1.8-1.3h0m1.4-0.2h0m1.8 0.7h0m3.2 0.6h0m3.8-1.9h0m0.4-0.2h0m2.4 1.9h0m-34.4 1.1h0m5-0.1h0m5.2 0h0" stroke="#92ffff" stroke-width="2.4" stroke-linecap="round" fill="none"/>
<path d="M505.9 503.3h0m0.7 1.7h0m3.9 2.7h0m1.5-0.3h0m0.5-1.5h0m3.3 1.9h0m1.3 0.4h0m2.9-0.7h0m5.5 0.9h0m1.3-0.4h0m1.5 0.3h0m1.4-0.1h0m0.4-0.8h0m5.7 0.5h0m-27.4 1.3h0m2 1.2h0m0.2-0.9h0m1.3-0.9h0m0.3 2.4h0m0.4-1.5h0m0.7 1.2h0m0.8 0.1h0m1.4 0.6h0m0.7-0.6h0m0.8-0.8h0m1.2-1.4h0m0.1 0.8h0m2.1 0.8h0m0.5-1.5h0m0.7 1.7h0m3.6-1.6h0m0 1.4h0m0.9-0.6h0m1.3 1.3h0m0.1-1.3h0m1.9 1.1h0m1.2 0.5h0m1.2-1.7h0m1 1h0m0.6-0.7h0m1 0.4h0m2.3 0.4h0m0.3-1.6h0m0.4-0.1h0m1.3 0.1h0m0.1 1.2h0m1.6 0.8h0m1.1-0.3h0m1.9-0.4h0m1.1-0.5h0m0.3 0.9h0m1.9 0.4h0m-41.1 2.7h0m2.4-1.1h0m1.3 0.8h0m0.3-0.4h0m2.3 1h0m1.8-1.2h0m0.8 0.9h0m3.3-2.1h0m0.1 1.9h0m1.1 0.4h0m1-0.2h0m1.6-1.6h0m0.9 2.3h0m0.9-1.4h0m0.2 1.3h0m0.4-2.5h0m0.4 0h0m3.1 1.9h0m0.1 0.7h0m0.7-2.5h0m3.1 0.1h0m0.7 2.4h0m0.8-1.6h0m1.9 0.3h0m3.1-1.2h0m0.4 1.6h0m0 0.8h0m1.2-1.8h0m0.4 0.4h0m3.3-1.4h0m-37 3.7h0m0.7 0.2h0m1.4 2h0m0.3-2.9h0m0 1.6h0m4.5 0.1h0m2.2-1.2h0m1.4 1.5h0m1.5-0.8h0m0.7-0.7h0m0.8 2.2h0m0.8 0h0m7.4-0.9h0m3.2-1.3h0m1.9-0.4h0m2.9-0.1h0m2.4 2.4h0m0.6-1h0m1.4-0.8h0m1.5 1.3h0m0.6-1.2h0m3.8 0.5h0m-38.6 2.4h0m0.5 1h0m1.7-1.2h0m2.5 1h0m0.2 1.2h0m1.4-1.1h0m2.2 0.7h0m0.7-2.1h0m4.3 1.8h0m4.3 0.1h0m0.4-1.7h0m0.4 2.1h0m1.6-0.5h0m0.8-0.7h0m0.8-0.7h0m3.3 0.3h0m1 0.5h0m0.2-0.5h0m1.2-0.7h0m1 0.9h0m2-0.6h0m1.6 1.7h0m2.9-1.8h0m1.3-0.3h0m1.4 1.3h0m0.2-0.9h0m0.4-0.1h0m-20.6 2.9h0m1.5-0.3h0m5 0.3h0m1.5 0h0m1.1 0.1h0m1.6-0.1h0" stroke="#70c43e" stroke-width="2.4" stroke-linecap="round" fill="none"/>
<path d="M549 507.1h0m1.7 3.2h0m3.5-0.9h0m1.2 1.8h0m7 0h0m7.6-0.9h0m0.7-0.4h0m9.3 0h0m1.2 1.3h0m-32.8 1.7h0m0.9 0.9h0m4-0.9h0m12.7-1.4h0m16.6 0h0" stroke="#dd0000" stroke-width="2.4" stroke-linecap="round" fill="none"/>
<polygon points="471.8,498.9 478,508.9 465.6,508.9" fill="#f2b266" stroke="#1a1a1a" stroke-width="1.1" stroke-linejoin="miter"/><circle cx="471.8" cy="505.6" r="0.45" fill="#8a5a20"/><polygon points="541.4,518 547.6,508.4 535.2,508.4" fill="#f2b266" stroke="#1a1a1a" stroke-width="1.1" stroke-linejoin="miter"/><circle cx="541.4" cy="511.6" r="0.45" fill="#8a5a20"/><polygon points="589.9,504.9 595.8,510.8 589.9,516.7 584,510.8" fill="#f2b266" stroke="#1a1a1a" stroke-width="1.1" stroke-linejoin="miter"/><circle cx="589.9" cy="510.8" r="0.45" fill="#8a5a20"/>
<path d="M71.8 610.5h2.2M71.2 611.5h3M70.5 612.5h3.8M70 613.5h4.5M69.8 614.5h5M69.5 615.5h5.2M69.5 616.5h5.5M69.5 617.5h5.8M69.2 618.5h6M69.2 619.5h6.8M69 620.5h4.2M74.8 620.5h2.2M69 621.5h3.2M75.8 621.5h4.2M69 622.5h2M76 622.5h3.5M68.8 623.5h1.2M75.2 623.5h5.2M85.5 623.5h1M68.8 624.5h0.8M74.2 624.5h7.2M83 624.5h3.5M68.8 625.5h1.8M72.8 625.5h14.8M68.5 626.5h20.2M68 627.5h20.8M67 628.5h22M62.5 629.5h1.8M67.5 629.5h16M84.8 629.5h4.2M62 630.5h1.8M68 630.5h1.2M70 630.5h12.5M85.8 630.5h3.2M51.8 631.5h1M54.8 631.5h1.5M61.2 631.5h3.5M67 631.5h1M71.2 631.5h11.5M85.5 631.5h3.8M55.8 632.5h1.2M60.2 632.5h6.8M72 632.5h11.8M84.5 632.5h4.8M55.2 633.5h1M61 633.5h2.2M64 633.5h2.8M72 633.5h17.2M51.8 634.5h1M60.8 634.5h1.5M65 634.5h0.8M71.2 634.5h18.2M51.8 635.5h1.8M59.8 635.5h2M68.5 635.5h0.8M70.2 635.5h5M77 635.5h7.2M86.2 635.5h3.2M51.8 636.5h1.5M57.5 636.5h5.2M64.2 636.5h2.2M67.5 636.5h6.8M78 636.5h5.2M87.2 636.5h2.5M51.8 637.5h0.5M56.5 637.5h3.5M63.5 637.5h10.5M78.8 637.5h4M87.8 637.5h2M56.8 638.5h2.2M64.8 638.5h10.2M77.8 638.5h5.2M56 639.5h3.8M66 639.5h18M57 640.5h2.2M66.8 640.5h15M57.2 641.5h1M65.8 641.5h15M90 641.5h1.2M57.5 642.5h0.8M63 642.5h7.8M72.2 642.5h8.2M87.2 642.5h1M88.8 642.5h3M57.5 643.5h1.8M62.2 643.5h7.5M73.2 643.5h1.5M76.2 643.5h3.5M86 643.5h6M57 644.5h12.2M77.2 644.5h2M86 644.5h5.8M57.5 645.5h0.8M62.2 645.5h7.2M77.5 645.5h2M85.5 645.5h3.2M89.5 645.5h1.8M63.2 646.5h6.5M73.2 646.5h1.5M76.5 646.5h2.5M82.5 646.5h1M90.5 646.5h1.5M62.5 647.5h8.2M72.2 647.5h6M82.2 647.5h0.8M91.2 647.5h1.2M61.5 648.5h1.2M63.8 648.5h14.5M82.5 648.5h1.5M91 648.5h0.5M60.2 649.5h1.5M64.8 649.5h14.2M81.5 649.5h5.2M90 649.5h1.2M65.2 650.5h14M81.8 650.5h9.8M61 651.5h1M64.2 651.5h15M81.8 651.5h10.8M53 652.5h1.2M60 652.5h18.8M79.8 652.5h0.5M80.8 652.5h0.5M84.8 652.5h8.5M51.8 653.5h3.2M58.5 653.5h19.2M85.8 653.5h2.8M90.5 653.5h2.8M51.8 654.5h2.2M57.5 654.5h1.5M60 654.5h17.2M87 654.5h0.5M91.5 654.5h1.8M51.8 655.5h2.2M57.5 655.5h0.5M61 655.5h4.5M66.5 655.5h11.5M91 655.5h2.2M52 656.5h3M56.5 656.5h1.8M61 656.5h3.5M67.5 656.5h9.8M87.8 656.5h1.2M90 656.5h1.8M51.8 657.5h6M60 657.5h4.5M67.8 657.5h5.2M75.8 657.5h1.5M88 657.5h2M51.8 658.5h5M61.2 658.5h4.2M66.8 658.5h5.2M77 658.5h0.5M87 658.5h2M51.8 659.5h4.2M62.2 659.5h9M85.8 659.5h2.2M51.8 660.5h4.8M61.5 660.5h8.8M77 660.5h1M80.2 660.5h1M84.8 660.5h4M51.8 661.5h17.5M73.5 661.5h5.2M84.5 661.5h8.8M51.8 662.5h9.5M63.2 662.5h7M74 662.5h4.2M84 662.5h9.2M51.8 663.5h8.5M64.2 663.5h7.8M73 663.5h5.8M81.2 663.5h0.8M83 663.5h0.5M84.5 663.5h3.8M89.2 663.5h4M51.8 664.5h8.5M64.2 664.5h14M85.5 664.5h1.8M90.2 664.5h3M51.8 665.5h9.2M63.5 665.5h15.2M85 665.5h2M91 665.5h2.2M51.8 666.5h14M68 666.5h11.8M81.5 666.5h2M84 666.5h4M90 666.5h3.2M51.8 667.5h13M69 667.5h23.2M51.8 668.5h12.8M70.5 668.5h21.8M51.8 669.5h13.8M71.5 669.5h7M81 669.5h10.2M51.8 670.5h9.5M63 670.5h5M72.8 670.5h4.8M81.8 670.5h8.8M51.8 671.5h8.5M64 671.5h5M73.8 671.5h4.5M81.2 671.5h10M51.8 672.5h8.5M64 672.5h6M74.2 672.5h5M80.2 672.5h10.2M51.8 673.5h9.2M63.2 673.5h7.8M73.2 673.5h5.5M82 673.5h7.5M51.8 674.5h8.5M63.8 674.5h14M83 674.5h4.8M88.8 674.5h1M51.8 675.5h9.5M62.8 675.5h15.2M82.2 675.5h4.5M89.8 675.5h1M92.8 675.5h0.5M51.8 676.5h9M63.2 676.5h15.8M80.8 676.5h3.5M90 676.5h3.2M51.8 677.5h8.5M63.8 677.5h19.5M90.5 677.5h2.8M51.8 678.5h9.5M62.8 678.5h20M91.2 678.5h0.8M51.8 679.5h31.5M51.8 680.5h28.5M83 680.5h1.2M51.8 681.5h15M69.5 681.5h9.8M83.8 681.5h3.8M51.8 682.5h14M70.5 682.5h8.2M83.2 682.5h5.2M90.2 682.5h0.5M92.8 682.5h0.5M51.8 683.5h14.5M70.8 683.5h8.5M82.5 683.5h7.2M51.8 684.5h15.5M69.8 684.5h6M78 684.5h2.2M81.5 684.5h8.5M51.8 685.5h9.2M63 685.5h11.8M78.8 685.5h12.2M51.8 686.5h8.5M64 686.5h10.8M78.5 686.5h13.2M51.8 687.5h8.8M63.5 687.5h12.2M77.5 687.5h12.5M91.8 687.5h0.8M51.8 688.5h9.8M62.5 688.5h17.8M81 688.5h8M92.8 688.5h0.5M51.8 689.5h27.5M82 689.5h5M88.2 689.5h0.8M51.8 690.5h27.5M83.8 690.5h2.2M51.8 691.5h28.5M84.8 691.5h0.8M89.5 691.5h0.8M51.8 692.5h28.8M85.8 692.5h0.8M88.5 692.5h1.8M51.8 693.5h27.8M86.2 693.5h3.5M51.8 694.5h27.5M87 694.5h3.2M51.8 695.5h9.5M64 695.5h15.8M88 695.5h1.2M92 695.5h1.2M51.8 696.5h8.5M65 696.5h15.8M51.8 697.5h8.5M65.2 697.5h13M82 697.5h1M51.8 698.5h9M64.5 698.5h12M51.8 699.5h10M63 699.5h12.2M51.8 700.5h22.5M51.8 701.5h22.2M79.5 701.5h3.8M51.8 702.5h23.2M79 702.5h3.2M51.8 703.5h9.8M62.5 703.5h14.2M78 703.5h4.2M51.8 704.5h8.8M63.5 704.5h18.8M91.8 704.5h1.5M51.8 705.5h8.5M64 705.5h18.2M51.8 706.5h9.2M63 706.5h5.8M71.2 706.5h11M51.8 707.5h16M72.2 707.5h10M51.8 708.5h17M72.8 708.5h10.2M90.2 708.5h0.8M51.8 709.5h18.2M71.8 709.5h2.2M75.8 709.5h8.5M88.8 709.5h2M51.8 710.5h21.2M76.8 710.5h6.8M89.2 710.5h1.5M51.8 711.5h21M77 711.5h6M51.8 712.5h22M76 712.5h8M51.8 713.5h32.2M51.8 714.5h32M51.8 715.5h32.8M87.8 715.5h2M92 715.5h1.2M51.8 716.5h20.5M74.2 716.5h19M51.8 717.5h19.5M75.2 717.5h18M51.8 718.5h19.5M75.8 718.5h17.5M51.8 719.5h20.5M75.2 719.5h18M51.8 720.5h21.5M74.2 720.5h2.8M79 720.5h14.2M51.8 721.5h21.8M74.8 721.5h1.2M80 721.5h12M51.8 722.5h20.8M75.8 722.5h0.8M79.5 722.5h6.2M87.2 722.5h3.8M51.8 723.5h19.8M76.5 723.5h1M78.5 723.5h6.2M88.2 723.5h2M51.8 724.5h20.2M76.2 724.5h8.8M87.8 724.5h1.8M51.8 725.5h21.2M77.2 725.5h8.8M86.8 725.5h3.2M51.8 726.5h9.8M64 726.5h10M77.8 726.5h12.8M51.8 727.5h8.8M65 727.5h10M76.8 727.5h14.8M51.8 728.5h8.5M64.8 728.5h28.5M51.8 729.5h9.5M63.8 729.5h15.5M80.5 729.5h12.8M51.8 730.5h26.5M81.5 730.5h11.8M51.8 731.5h15.2M69 731.5h9.5M81.2 731.5h12M51.8 732.5h14.2M70 732.5h9M82.2 732.5h11M51.8 733.5h14.5M69.8 733.5h9M83 733.5h10.2M51.8 734.5h15.5M68.8 734.5h1M70.2 734.5h5.2M76.8 734.5h1.8M82.5 734.5h10.8M51.8 735.5h16.8M71.2 735.5h1.5M77.8 735.5h1.8M81.5 735.5h11.8M51.8 736.5h15.2M77.8 736.5h15.5M51.8 737.5h14.2M77 737.5h16.2M51.8 738.5h9.5M64.8 738.5h1M77.5 738.5h15.8M51.8 739.5h8.5M77.5 739.5h15.8M51.8 740.5h8.5M70.5 740.5h1.2M77.5 740.5h15M51.8 741.5h9.2M77.2 741.5h3.8M82.8 741.5h9M51.8 742.5h10.8M76.2 742.5h3.8M83.8 742.5h5.5M51.8 743.5h9.2M65 743.5h2M78 743.5h2.5M83 743.5h5.2M51.8 744.5h8.5M64.8 744.5h2.5M78.8 744.5h9.8M91.5 744.5h0.5M51.8 745.5h8.5M65.8 745.5h0.8M78 745.5h11.5M90.5 745.5h2.8M51.8 746.5h9M65.2 746.5h0.8M76.2 746.5h17M51.8 747.5h10M65.8 747.5h0.5M76.5 747.5h11.5M90.5 747.5h2.8M51.8 748.5h10.8M76.8 748.5h10.5M91.5 748.5h1.8M51.8 749.5h11.2M76.5 749.5h11.2M91 749.5h2.2M51.8 750.5h12M72.2 750.5h0.8M75.8 750.5h1M78 750.5h10.8M90 750.5h3.2M51.8 751.5h16.5M71 751.5h4.8M79 751.5h7M86.5 751.5h6.8M51.8 752.5h15.8M72 752.5h3.2M80 752.5h5M87.5 752.5h5.8M51.8 753.5h16.8M73 753.5h3M79.5 753.5h4.8M88.5 753.5h4.8M51.8 754.5h17.2M74.5 754.5h2.8M78.5 754.5h5.8M88.8 754.5h4.5M51.8 755.5h16.2M75.5 755.5h9.8M87.8 755.5h5.5M51.8 756.5h16.2M76 756.5h17.2M51.8 757.5h17.2M69.8 757.5h1.5M76 757.5h17.2M51.8 758.5h9.5M62.8 758.5h8.8M75.5 758.5h15.8M92.2 758.5h1M51.8 759.5h8.5M63.8 759.5h8M75 759.5h11.8M88.2 759.5h0.8M51.8 760.5h8.8M63.8 760.5h9M74 760.5h11.5M51.8 761.5h9.8M62.8 761.5h21.8M92 761.5h1.2M51.8 762.5h32.8M91 762.5h2.2M51.8 763.5h27.2M84.8 763.5h0.5M90.8 763.5h2.5M51.8 764.5h13.8M66.8 764.5h7M74.8 764.5h3M91.5 764.5h1.8M51.8 765.5h12.8M67.8 765.5h5M75.8 765.5h1M92.2 765.5h1M51.8 766.5h12M68.5 766.5h4.8M75.2 766.5h1M85 766.5h1.8M92.8 766.5h0.5M51.8 767.5h12.8M69 767.5h7.2M85.8 767.5h0.5M87 767.5h1.8M91.8 767.5h1.5M51.8 768.5h9M62.2 768.5h3.2M68 768.5h7.2M92.5 768.5h0.8M51.8 769.5h8M63.2 769.5h7.5M72.8 769.5h1.5M51.8 770.5h7.8M63.5 770.5h6.5M79.2 770.5h0.5M51.8 771.5h7.5M63.8 771.5h0.8M66.5 771.5h4.5M72.5 771.5h1.5M88 771.5h0.5M51.8 772.5h7M67.8 772.5h7.5M51.8 773.5h6.8M68.5 773.5h8.8M78.8 773.5h1M92.2 773.5h1M51.8 774.5h6.5M68 774.5h11.5M51.8 775.5h6M64.8 775.5h15M51.8 776.5h5.8M65 776.5h10.2M77.8 776.5h2.8M51.8 777.5h5.2M65.2 777.5h7M73.5 777.5h0.8M78.8 777.5h1.2M81 777.5h12.2M51.8 778.5h5M65.5 778.5h5.8M82 778.5h11.2M51.8 779.5h4.5M68.5 779.5h2M82.8 779.5h10.5M51.8 780.5h4M69.5 780.5h2M74 780.5h1.5M76.8 780.5h1M82.8 780.5h3.8M87.2 780.5h6M51.8 781.5h3.8M68.5 781.5h6M77.2 781.5h1.5M81.8 781.5h3.8M90 781.5h3.2M51.8 782.5h3.2M66.2 782.5h0.5M67.5 782.5h6M78.2 782.5h7.2M90.8 782.5h2.5M51.8 783.5h2.8M51.8 784.5h2.5M51.8 785.5h1.8M51.8 786.5h0.5" stroke="#0000f0" stroke-width="1.3" fill="none"/><path d="M65.7 596.7h0m0.7 1.4h0m0.3 1.3h0m0.9 2.1h0m-0.4 3.5h0m5.8 2.4h0m2.1 0h0m-3.9 2.1h0m1.3 0.9h0m1.4-0.4h0m1.4-0.5h0m-5.5 3.3h0m0.3 0.7h0m0.7-2.3h0m1.9-0.6h0m1.3 0.5h0m0.2 2.3h0m0.7-0.3h0m0.3-2.4h0m0.2 1.3h0m-7.1 3.5h0m1 0.9h0m0.5-0.4h0m0.8-2.4h0m5.1 2.5h0m0-1.4h0m-7.3 1.9h0m0.1 1.5h0m0.7 0.2h0m0.5 1.2h0m6.4-1.1h0m0.2-0.8h0m0.3 1.7h0m3.9 0.1h0m-12.2 1.6h0m1.3 0.9h0m3.2 0.1h0m0.8-0.4h0m0.1-1.8h0m1.7 1.1h0m0.9 1.5h0m0.3-0.5h0m0.2 0.5h0m2.2-2.4h0m0.2 0.6h0m1 1.7h0m0.2-0.9h0m0.9 0.2h0m0.2-1.9h0m1.5 1.5h0m1.4 0.7h0m2 0.6h0m1.2-0.2h0m-34.7 1.2h0m0.9 0.2h0m13.7 0.2h0m0.7 0.5h0m0.6-1.3h0m0.3-0.2h0m1.3 1.5h0m0.8 0.4h0m0.9 0.1h0m1.1-2.4h0m0.9 2h0m1.9-1h0m5.6-0.4h0m0.5 2h0m1.1-1.1h0m1.6 0.1h0m0.3-0.3h0m1.9 0.9h0m1.2-1.2h0m0.3 1.2h0m-37.7 3.3h0m0.8-2.1h0m0.1 1.1h0m14.3 1.3h0m1.3-1.5h0m0.2-1.2h0m0.5 2h0m0.7-1.5h0m1.6-0.2h0m0.4 0.1h0m1.6 0.7h0m16.8-1.1h0m0.4 1.4h0m0.2-1.5h0m0.2 2.9h0m-38.9 1.2h0m1.5 0.4h0m0.3 1.3h0m1.7-1h0m0.4 0.7h0m0.6-1.2h0m0.7 1.6h0m5.3-2.7h0m0.7 0.4h0m1.6 1.6h0m0.3 0.7h0m0.4-2.5h0m0.7 0.9h0m1.6 1.1h0m0.3-1.8h0m0.1 1.2h0m1.3-0.3h0m0.6 1.1h0m13.6 0.1h0m0.4-1h0m1.2-0.3h0m4.2-0.2h0m0.9-0.8h0m0 1.6h0m-39 3.1h0m1.1-2h0m0.6 1.7h0m1.3-1.3h0m0.1 2.5h0m1.5-2.1h0m0 1.8h0m1.4-0.4h0m0.2-0.8h0m0.9-1.4h0m1.1 0.7h0m0.7 0h0m0.8-0.5h0m0.7 1.3h0m0.7-1.4h0m2.1 1.1h0m0.4 1.6h0m1-2.8h0m1 1.2h0m0.6-0.4h0m0.5 1.7h0m0.7-0.2h0m0.8-1.4h0m1-0.8h0m1.9 2.8h0m0.4-1.5h0m0.1-1.4h0m11.8 0.1h0m0.9 1.2h0m0.4-1.3h0m3.9 0.4h0m0.3 2.2h0m0.6-2.2h0m0 1.1h0m0.5 1h0m-40 0.7h0m0.2 1h0m0.9 1h0m0.6 0.1h0m0.5-2.3h0m1.8 0.9h0m0.3 1.7h0m0.5-1.9h0m3 1h0m1.3 0.4h0m1.3-1.5h0m0.2 1.6h0m0.1-2.1h0m1.8 2h0m0.1-0.7h0m0.1-1.1h0m1.5 1.2h0m0.4-0.9h0m0.6-0.3h0m0.9 0.8h0m3.2-1.2h0m0.4 1.7h0m4.2 0.3h0m0.5 0.2h0m1.1-1h0m1 0.4h0m0.6 0.9h0m0.7-0.1h0m4.7 0.5h0m1.4-0.5h0m0.5-0.7h0m0.9-0.5h0m0.7 1.5h0m3 0h0m1.4-0.8h0m0.4-0.7h0m-40.8 3.8h0m0.9-1.4h0m1.2 0.9h0m0.1 0.9h0m1.9-0.8h0m0-1.2h0m0.2 2h0m1.3-0.8h0m0.6-0.9h0m0.3 1.8h0m0.2-2.4h0m2.4 2.8h0m0.5-1.5h0m1.1 0.3h0m0.1 0.6h0m1.4 0.7h0m0.5-2.4h0m0.8-0.5h0m0.2 0.5h0m1.9 2.2h0m8.7-2h0m0.2 0.1h0m0.8-0.7h0m1.3 1h0m5.6 0h0m1.7 0.1h0m0.2 1.1h0m2.1-0.8h0m1-1.2h0m0.7 1.4h0m1.4 0.5h0m0.5-2.2h0m0.4 1h0m0.4-0.9h0m0.4 1h0m0.7 1.5h0m-41.6 0.8h0m1.2 2.4h0m1.2-2.1h0m4.1 1.6h0m0.3-1.1h0m0.2-0.7h0m0.6 2.3h0m1.6-1.1h0m0.2 1.1h0m0.9-0.1h0m0.8-1h0m1.2-0.2h0m0.3 0.6h0m0.4-1.9h0m0 0.8h0m2.1-0.3h0m5.4 1.9h0m3.8-0.2h0m0.3 0.3h0m6.4-0.5h0m0.5-1.4h0m0.3 1.6h0m1.5-1.7h0m3 1h0m1.1 0.9h0m0.4-2h0m0.5 1.6h0m0.8-1.4h0m1.7 0.3h0m0.1 0.9h0m1.7 0.2h0m-41.7 0.9h0m0.1 0.5h0m0 1.7h0m0.9 0.2h0m0.6-1.8h0m0.3 1.4h0m0.3-1h0m1.7 1.4h0m0.4-1.6h0m1.3-0.7h0m0.3 2.6h0m0.6 0h0m1.1-1.3h0m2-0.4h0m0.7 1h0m7.8 0.6h0m0.7-1.5h0m0.9 0.9h0m1.3-2h0m0.9 2.5h0m1.5-1.9h0m1.1 0.1h0m0.7 1.3h0m0.5-1h0m0.9 0.8h0m1.4 0.3h0m1.2-1.1h0m0-1.1h0m0.1 2.7h0m2.2-0.1h0m0.8 0h0m1.3-2.5h0m0.3 0h0m0.9 0.6h0m1.2 1.7h0m0.9 0.3h0m1.4 0.1h0m2.3-1.6h0m0.4-1h0m0.6 2.2h0m1-1.9h0m0.7 2.3h0m-43.9 1.1h0m0.3 0.9h0m3.8-1.4h0m1.8 0.3h0m0.6 1.7h0m0.2-2h0m1 1.9h0m2.2-0.5h0m0.4-0.3h0m1.3-0.6h0m0.5 1.1h0m0.7-1.7h0m0.1 1.4h0m6.8-1.4h0m0.8-0.1h0m1.1 0.3h0m2.1-0.6h0m0.8 0h0m0.3 0.9h0m3.2 0.2h0m0.1 1h0m0.6-1.2h0m0.2 1.4h0m1.1-1.3h0m0.7 1.5h0m1.8-2.2h0m1.1 1.8h0m0.3-1.4h0m1.1 0h0m0.3-0.7h0m0 2.3h0m0.9-0.3h0m0.1-1.1h0m2.8 0.5h0m0.9 1.3h0m0.1-0.9h0m0.1-0.5h0m0.1-1.3h0m1.5 3h0m0.8-2.3h0m0.5-0.5h0m-43.2 5h0m0.4-1.7h0m1.7-0.5h0m0.2 0.7h0m0.4 1.2h0m0.3-1.1h0m1.5 1.5h0m0.7-1.5h0m1.4 2h0m0-2h0m0.3 0.2h0m0.1 1.2h0m1.7-2.1h0m0.3 2.8h0m0.4-2.2h0m1.3 1h0m0.2-0.5h0m0.3-0.7h0m1.3 1.9h0m0.5-0.7h0m0.3-0.7h0m0.9-0.3h0m14 1.2h0m0.7 0.5h0m0.2-0.9h0m1.9 1.4h0m0.3-1.7h0m3-0.8h0m4.2 0h0m2.2 0.5h0m0.9 1h0m0.3-0.5h0m0.9 1.4h0m0.4-1.2h0m-43.3 4.2h0m1-1.7h0m0.7-0.5h0m3.1 0.2h0m0.5 0.9h0m0.6 0.3h0m0.5-1.5h0m1.1 0.1h0m0.4 1.2h0m0.7-1.7h0m0.8 2.3h0m0.7-0.2h0m4.9 0.8h0m12.2 0h0m0.7-2.1h0m0.2 0.7h0m1.1 1.4h0m0.5-1.3h0m0.4-1.6h0m0.2 2.9h0m0-3h0m1.4 0.9h0m1.8 0.2h0m1.3 0h0m0.3 0.5h0m1.1 1.2h0m2-0.1h0m0-1.9h0m0.6-0.1h0m2.7 1.4h0m0.7-1h0m0.6 0.5h0m1.3 0h0m-43.7 2.7h0m0.6 1.3h0m0.7-0.8h0m0.2-1.2h0m2.5 0.6h0m1.8-1h0m0.8 2h0m1.1-1.3h0m0.3-0.1h0m0.2 1.4h0m1.4-1.9h0m0.3 1.5h0m0.1 1.1h0m4.7-0.3h0m1.4 0h0m0.5 0.2h0m0.3-0.2h0m5.2-0.8h0m1.3 0.6h0m0.6-1.1h0m1.2 1.5h0m0.1-0.1h0m0.8 0h0m0.2-2.4h0m0.9 1.1h0m3.1 1.1h0m5.3-0.5h0m0.7-0.7h0m0.9 1.2h0m0.7-1.7h0m0.9-0.5h0m0.1 2.4h0m1-0.4h0m0.5-1.1h0m2.2-0.5h0m0.9 1.9h0m0.2-2h0m-44.1 2.5h0m0.9 1.6h0m0.5 0.2h0m3.9-0.8h0m0.6-0.2h0m0.3 1.4h0m1.5-2.2h0m0.1 2.9h0m1.5-1.5h0m0.2-1.4h0m1.5 1.3h0m0.9 0.2h0m3.3-1h0m3.9 1.9h0m2 0.1h0m1.4-2.5h0m0.2 1.8h0m1.5 0.5h0m0.4-0.6h0m1.2-0.6h0m2.7 0.3h0m0-0.6h0m1.1-0.6h0m0.1 1.2h0m1 0.7h0m0.8-1.3h0m0.8 0.7h0m0.1-0.4h0m1.1 1.3h0m2.2-2.1h0m0.8-0.4h0m0.8 1.4h0m0.6-1.1h0m0.4 1.3h0m0.7 0.6h0m0.2-1.2h0m0.5 1.8h0m3-1h0m0.7-0.8h0m1 0.6h0m-44.5 1.8h0m0.8 1.1h0m7.7-1.3h0m1.6 2.5h0m0-0.7h0m1.9-1.2h0m0.3 0.7h0m1.3 1.4h0m0.4-0.9h0m5.9-1.4h0m0.3 0.5h0m1.7 0.8h0m0.6-1.4h0m1 0.1h0m1 0.2h0m3.2 0.5h0m1.9 1.1h0m0.2-1.8h0m1.2 1.2h0m1.3 1h0m0-1.8h0m0.8 0.6h0m1.2-1.1h0m3.8 1.8h0m1.1 0.2h0m0.8 0.4h0m2.1-2.8h0m1.3 1h0m0.1 1.1h0m-43.4 3.2h0m0.4 0.2h0m0.5-1.9h0m0.3-0.2h0m0.6 2.3h0m8.6-1.6h0m1.1 0.2h0m1.3 0.2h0m1.5-1.3h0m1.3 1h0m2.1 0.9h0m10.1-1.4h0m1.1 1h0m0.3-1.3h0m1.3 1.3h0m0.5-1h0m2.8 0.6h0m0.4-0.9h0m1.3-0.3h0m2.5 0h0m1 0.9h0m4 0.7h0m0.1-1.3h0m0.1 0.3h0m1.2 1.4h0m-43.5 1.9h0m0.9 1.1h0m9.4 0.6h0m2.4-2h0m0.4 0.9h0m0.2 0h0m0.2-0.8h0m1 1.6h0m1.2-0.9h0m0.7-0.8h0m0.6 0.4h0m0.3 1.3h0m0.6-0.2h0m1.5-0.4h0m0.4 0.9h0m6.9-0.5h0m1.2-0.4h0m1.5-0.3h0m1.1 1.3h0m10.2-0.8h0m1.2-1.5h0m0.3 1.4h0m0.7-1.2h0m-43.6 3.1h0m0.1-0.1h0m1-0.3h0m0 0.8h0m8.3 0.1h0m0.9 0.8h0m0.3 0.4h0m0.6-2.2h0m1.4 0.4h0m1.3 1.1h0m2.9-1.8h0m1.7 1.1h0m1.2 1.3h0m0.2 0.4h0m0.1-0.6h0m1.6-1.3h0m0.2 1.5h0m0.4-2.1h0m0.8 1.6h0m0.7 0.4h0m3.1-2.2h0m0.1 0.8h0m0.4 0.5h0m0.4-1.3h0m0.8 2.1h0m0.6-1.5h0m0.1 0.1h0m1.7 1.9h0m8.9-0.8h0m1.1-1.3h0m0 1h0m0.9-0.3h0m1.3 1.5h0m-43.4 2.4h0m0.5-1.9h0m0.2 1.1h0m0.8 0.6h0m0.3-1.4h0m9.2 1.1h0m0.9-1.5h0m0.4 1.7h0m14.8-0.7h0m0.5-0.7h0m0.6 0.9h0m0.3 0.8h0m0.3 0.2h0m2.1-0.7h0m0.4 0.9h0m1-1.5h0m3.2 1.4h0m0.6-0.4h0m0.5-0.4h0m1.1-1.4h0m0.5 1h0m2 0.1h0m0.1-1.2h0m0.3 1.3h0m1.3 0h0m2.2-0.7h0m-44.2 3.7h0m1.1 0.9h0m0.4-2.1h0m8.2 0.6h0m0.4 0.6h0m1-1.3h0m0.9-0.1h0m0.6 0.7h0m1.5-0.1h0m17.2 2.2h0m0.8-0.6h0m0.4-0.6h0m0.8 0.3h0m1-1.1h0m3.2 0.2h0m0 1.6h0m0.1 0h0m0.5-2h0m1.4 1.1h0m0.1-1.6h0m0.5 2.6h0m1-0.2h0m1.6-2.3h0m0.6 1.5h0m0.1-1.7h0m0.6 1.7h0m-43.8 2.6h0m0.8 1.3h0m10.7-2.4h0m5.3 1.1h0m0.5-0.1h0m0.7 0.8h0m1.6 0.6h0m10-1.4h0m0.3 1.5h0m0.5-1.6h0m1.4 1h0m0.6-1.4h0m0.9 0h0m2 1.3h0m0.4-0.7h0m0.6-0.3h0m0.5 1h0m1.8 0.4h0m0.9-0.3h0m0.9-1h0m1 1.4h0m1.3-2.6h0m0.3 2.1h0m0.2 0.5h0m0.3-1.5h0m-42.9 4.5h0m0.5-1.7h0m0.6 0.6h0m13.9-1.3h0m0.6 0.5h0m0.5-0.4h0m0.1 1.5h0m1.2 0h0m0.6-0.1h0m0.4 0.9h0m5.9 0.1h0m1.2-0.4h0m2.2 0h0m0.2-2h0m1.2 0.5h0m0.6 0.7h0m1.1-1.3h0m0.2 0.6h0m8.1-0.4h0m0.6 2.1h0m2.6-1.5h0m0.1 1h0m0.9-0.6h0m-44.1 3.7h0m0-1.2h0m2 1.8h0m7.4-1h0m0.9-1h0m0.3 1.7h0m0.6-2.5h0m0.3 2.5h0m0.2-2.3h0m0.2 1.5h0m1.7 0h0m10.6-0.4h0m0.2-1.1h0m0.8 2.1h0m0.2-1.1h0m0.6 1.8h0m0.9-1.6h0m1.8-0.6h0m11.1 2.1h0m0.9-0.7h0m0.5-1.8h0m1.1 1.1h0m0.2 0.4h0m-42.6 1.6h0m0.3 1.9h0m1.6 0.1h0m10.4-2.1h0m17.3 0h0m0.4 2.1h0m0.8-2.5h0m0.4 0.9h0m0.1 2h0m1.4-1.3h0m0.3 1.3h0m0.4 0h0m2.4-1h0m1.7-1.2h0m0.7 1.7h0m0.8-2.1h0m0.2 2.4h0m1.9-1.5h0m1.8 0.2h0m0 1.1h0m0.7-0.5h0m0.2-1.9h0m0 1h0m-43.3 2.7h0m0.5 1.1h0m29.2-1.6h0m0.2 2.3h0m0.3-2h0m1.2 0.9h0m0.5 0.3h0m1.4-1h0m1.2 1.7h0m0.4-1.3h0m1.1 1.3h0m0.5-1.5h0m1.9-0.5h0m0.6 1.1h0m0.3 0.7h0m1.6-2.2h0m0.2 0.3h0m2.6 1.7h0m0.5-1.2h0m-44.5 3.5h0m1.2 0.9h0m0.6 0.6h0m9.4-0.6h0m0.7-0.8h0m0.1 0h0m1.4-1.1h0m0.6 1.6h0m14.7-1.7h0m1 2h0m0.4-0.9h0m1 1.5h0m0.6-1.6h0m0.2 0.6h0m1.2-1.8h0m0.3 1.9h0m2.4-1.5h0m0.8 1.6h0m0.1-0.9h0m2-0.1h0m0.2 1.5h0m0.1-1.3h0m0.1 0.8h0m2.2 0.3h0m0.2-0.9h0m1.2-0.8h0m0.1 1.6h0m1.3 0.5h0m0-2.5h0m-43.3 3.2h0m0.3 1.5h0m0.3-2h0m9.3 0.5h0m1.2 1.9h0m0.4-1.2h0m0.9-0.1h0m1 0.6h0m11.3 0.7h0m0.9-1h0m1.2-0.7h0m0.6 2.1h0m1.3-2.5h0m0.7 1.2h0m1.3-0.2h0m1.4 0.2h0m0.1-0.3h0m0.2-0.6h0m0.6 1h0m1.1 0.5h0m1.6 0.2h0m0.4-1.1h0m1.5 0h0m1.6 0.5h0m1.6-1.4h0m0.6 1.6h0m0.9-0.7h0m0.2 0.6h0m0.7-1h0m-44.1 3.2h0m0.7 0.6h0m11.4 1.1h0m11.4-1.7h0m0.8 0.9h0m0.6 0.1h0m1.3-0.2h0m1.2 1.1h0m0.4-1.7h0m0.7 1.1h0m1.7-1.4h0m1.1 0.7h0m0.4-0.4h0m0.6 0.7h0m0.6-1.3h0m0.8-0.2h0m1 1h0m0.2-1.2h0m1.6 1.2h0m2.6 0h0m0.3-0.4h0m1.4 1.4h0m2.6-0.1h0m-43.3 2.9h0m0.4-1.5h0m1.6 1.2h0m7.5 0h0m0.6-1.1h0m1 2.1h0m0.1-0.6h0m1-1.9h0m0.2 2.2h0m1.4-0.5h0m4.3 0.8h0m1.3-1.4h0m1.7 1.4h0m6-2.7h0m4.6 0.1h0m0.7 1.9h0m0.8-2.1h0m1.6 1.7h0m0.5-1h0m1.1-0.7h0m3.7 0h0m1 1.9h0m0.4-1.2h0m0.3-0.7h0m1.4 2.1h0m0.2-0.5h0m0.3-1.4h0m0 2.6h0m-43.7 0.5h0m0.4 0.8h0m1.4-0.8h0m0.2 1h0m16.5 0.7h0m0.1 0.9h0m1.1-2.6h0m0.1 1.6h0m0.3 0.2h0m1.5-0.2h0m0.2-1.1h0m3.9 2h0m7.1-1.1h0m0.2-0.9h0m0.5 1.9h0m0.5-0.6h0m0.9-1.4h0m0.5 0.7h0m0.8-0.7h0m0.1 1.7h0m1 0.2h0m1-1.9h0m0.2 2h0m0.1-0.4h0m1.3-0.3h0m0.7 0.4h0m0.6-2.2h0m0.7 2.6h0m-42.1 0.7h0m0 1.9h0m1.3-0.6h0m0.4-1.1h0m0.2 1.4h0m17.6-2.1h0m1.4 0.4h0m1.2 0.8h0m1.6 0.8h0m0.2-2.1h0m0.3 2.7h0m3.2-0.9h0m5.1 0.3h0m0.1 0.4h0m1-1h0m3.5-0.5h0m1.4 1h0m1.5 0h0m0.4-1.2h0m0.8 2.2h0m0.2-0.6h0m0.6-2.4h0m0.9 1.9h0m0.5 0.9h0m0.1-0.8h0m0.2-1.8h0m-42.8 4.3h0m1.1-0.1h0m24.4-1.3h0m7.1 2.9h0m0.2-2.6h0m0.7 0.7h0m0.6-0.4h0m0.4 2.2h0m2.1-2.4h0m0.2 1.5h0m0.6-1.6h0m2.1 2.1h0m1.6-0.2h0m1.9-0.7h0m-43.9 2.1h0m0.2 0.4h0m0.3 1.4h0m1.2 0.5h0m0.4-0.9h0m0.1-2h0m20.2 0.8h0m0.5-0.6h0m1.4 1h0m0.2 1.3h0m0.8-0.4h0m12.3-2.2h0m2.9 1.5h0m0.2-0.3h0m0.9-0.8h0m0.6-0.2h0m1.1 1.5h0m0.5-1h0m0.2 1h0m0.3 0.6h0m-44.1 2.4h0m0.8 1.1h0m0.8-0.8h0m19.2-2h0m1.4 1.2h0m1.7 1.1h0m0.3-1h0m0.3 0.2h0m1.1-1h0m0.7 1.3h0m1.4-0.3h0m13.9 1.5h0m1-0.6h0m0.5-2.2h0m0.8 1.5h0m-44 3.1h0m1.2 0.5h0m0.5 0.3h0m0.2-1.2h0m19.2 0.5h0m1.6-1.6h0m0.2 0.5h0m0.5 0.4h0m1.8 1.5h0m0.7-1.3h0m0.5 1h0m0.4-1.4h0m0.3-0.9h0m1.2 1.8h0m0.3-1.6h0m0.4 0.3h0m0.2 0.1h0m6.3 0.9h0m0.7-1.3h0m0.9 0.5h0m0.7 1.7h0m0.2-0.5h0m2.7-0.3h0m1.2 1.2h0m1.1-1.8h0m0.6 0h0m0.2 1.2h0m0.4-2.2h0m-44.3 3.8h0m0.7 1.3h0m1.3 0.2h0m0.1-1.3h0m8.9 1.1h0m1 0h0m1.5-0.8h0m0.7 1.4h0m0.3-0.2h0m7.1-2.4h0m0.2 0.5h0m0.5-0.4h0m1.7 1.1h0m0.7-0.6h0m0.4 2.2h0m1.1-1.5h0m0.2 0.7h0m8.9-2.2h0m0.4 1.4h0m0.6 0h0m1.2-1.3h0m1.5 0.5h0m0.9 0.5h0m0.3-1.1h0m0 2.1h0m0.7 0.8h0m0.9-1.5h0m0.4-0.1h0m1.7 0.4h0m0.8 0.4h0m-44.3 1.4h0m0.3 2.4h0m1.2-0.2h0m0.2-1.2h0m8.1-0.8h0m2.3 2.1h0m1-1.7h0m0.8 0.9h0m12-1h0m4.3 1.7h0m11.8-1.3h0m0.7-1.1h0m0.4 1.6h0m0.3-1h0m-42.8 3.3h0m0.4-0.4h0m0.6 1.5h0m14.9 0h0m0.8-0.5h0m0.3-1.1h0m1 2.1h0m0.4-1.2h0m8.6-1.6h0m0.2 1.2h0m0.8-1.1h0m0.4 0.5h0m1.4 0.1h0m0.6 1.1h0m11.1-0.7h0m0.7-0.8h0m0.2 2.5h0m-43.3 2.1h0m0.5-1.7h0m0.1 0h0m1.2 0.2h0m0.1 1.4h0m14.2-1.5h0m1.3 0h0m0.8 2.4h0m0.7 0.1h0m0.2-1.9h0m1.1 0.9h0m0-0.9h0m2.7 1.6h0m0.9-0.1h0m0.8 0.2h0m1.7-1.4h0m0.5 0.6h0m1.8 0.3h0m0.6-1.7h0m0.1 2.3h0m0.3-2.6h0m1.9 1.3h0m11.1 0.3h0m0.3-0.7h0m1.3 0.6h0m0-1.5h0m0 2.7h0m-44.2 1.8h0m0.6-0.9h0m0.8-0.4h0m11.3 1.8h0m0.8 0.5h0m1.4-0.3h0m1.4 0.6h0m1.2-1.8h0m1.8 1.5h0m1.3 0.1h0m1-1.4h0m0.7-0.8h0m1 1h0m0.5 0.4h0m1.3-1.1h0m1 1.3h0m0.6-2h0m15.7 0.8h0m0 1.4h0m1.3-2h0m0.7 2.2h0m-44.4 2.5h0m0.3-1.7h0m10.9 1.7h0m0-1.1h0m0.9 0.2h0m1.1 0.8h0m1-1h0m0.6-0.8h0m2 0.9h0m1.1 0.3h0m1.7-0.2h0m1.7-0.8h0m0 1.3h0m0.6 0.7h0m0.8-2h0m1.6-0.1h0m0.5 2.5h0m1.8-1.4h0m0.3 1.5h0m3.6-0.2h0m1.6 0.3h0m0.8-0.6h0m7.4 0.6h0m0.7-0.8h0m1.1-0.2h0m0.8-0.7h0m1.3 1.1h0m-43.6 2.2h0m0.4-0.6h0m0.6 0.8h0m8 0.2h0m1.4-1.1h0m0 1.7h0m1.8-1.2h0m1.3 0.2h0m0.3 0.9h0m0.5-1.2h0m0.5 1.8h0m0.8-2.7h0m0.5 2.6h0m0.4-0.1h0m1.1-1.1h0m1.5 0.7h0m1-1.9h0m0.9 0.6h0m1.3 1.5h0m0.2 0.3h0m1.2-0.3h0m0.5-0.6h0m0.8-1.9h0m0.4 0.4h0m0.4 2h0m2.1 0h0m0.6-0.5h0m2.1-1.3h0m1.1 1.2h0m6.6 0.2h0m0.6-1.4h0m0.6 1.6h0m1.1-0.9h0m0-0.2h0m1.1 0.6h0m2 0.5h0m0.2 0.7h0m0-1.8h0m-44.1 2.6h0m0.8 1.1h0m0.1-1.4h0m0.7 1.7h0m8.9-0.1h0m0-1.6h0m0.7 1.6h0m0.4-1h0m1.6 1h0m1.5 0.5h0m2-0.1h0m0.2-0.6h0m1.5-0.2h0m0.3-1.3h0m1.8 0h0m1 2.2h0m2.2-1.2h0m0.6 0h0m1.2-0.6h0m0.1-0.4h0m0.3 2.1h0m12-0.7h0m0.3-0.6h0m1.4 1.1h0m0.4-2.1h0m2.7-0.2h0m0.9 2.8h0m0.6-1h0m-43.5 2.1h0m0.1 1.6h0m0.4-1.6h0m0.1 1.5h0m10.6-1.3h0m1.3 0.9h0m0.1-1.3h0m1.2-0.6h0m0.6 1.8h0m0.9 1h0m1-2.8h0m0.7 2.2h0m1.1 0h0m1.3-0.7h0m0.2 1.2h0m1-1.2h0m2.7-0.1h0m0.1 1.2h0m0.5-0.9h0m0.8-0.9h0m0.1 1.9h0m0.2-1.1h0m0.6-1.6h0m1.6 2.6h0m8.5-2h0m1.3-0.4h0m0.5 1.9h0m1.4 0.1h0m1.2-2.2h0m1.4 0.6h0m0.1 1.7h0m0.9-1h0m-43.2 3.2h0m0.2-0.8h0m1.3-0.7h0m0.2 1.2h0m13.3-0.7h0m2.6 0.2h0m0 0.6h0m2.4 0.6h0m1.5 0.2h0m1.4-0.3h0m2.4 0.2h0m0.5 0.5h0m0.5-2.3h0m1.9 0.9h0m0.3 0.2h0m0.1-1.2h0m4.5 1.6h0m2.1 0.9h0m0.2-1.9h0m0.6 0.1h0m0.1 0.9h0m0.5 1.1h0m1.3-0.9h0m4.8-1.5h0m0.7 0.8h0m0.1-1.1h0m-43.1 3.1h0m0.3 2.1h0m0.3 0.2h0m0.5-1.5h0m0.1-0.6h0m16 1h0m0.3 1.2h0m0.1-2.2h0m0.6 0.8h0m0.6 1.7h0m0.3-2.1h0m0.4-0.6h0m0.9 1.5h0m1.6-1.2h0m0.5 0.1h0m1.8 1.2h0m0.2-1.1h0m1 1.2h0m1.7-1.6h0m7.4 1h0m0.2 1.1h0m0.7-0.6h0m1.9-1.9h0m4.3 0.4h0m0.7 1.6h0m0.5-0.8h0m0.9-1h0m-44.7 4.7h0m0.1-1.6h0m0.3 2h0m1.4-0.1h0m9.1-0.7h0m1.2 0.3h0m8.7-1.4h0m0.6 1.9h0m0.2 0.3h0m0.2-0.1h0m0.4-0.3h0m0.1-1.5h0m1.2 1.8h0m2-1.6h0m0-0.2h0m11.9 1h0m0.6 0.8h0m0-0.6h0m2 0.5h0m0.3-1h0m0.3 1.3h0m1.2-1.1h0m0.3 0h0m0.8-1.6h0m0.6 1.2h0m1.1-1.2h0m-44.6 5.9h0m1.1-0.8h0m0.8-1.6h0m8.4-0.5h0m1.8 1.9h0m1.4-1.3h0m18.3 1.9h0m1.1 0.2h0m0.6 0.3h0m0.3-1.8h0m0.6-0.6h0m0.5-0.1h0m0.1 0.5h0m1.1 1.4h0m0.7-2.3h0m2.5 1.9h0m2 0.8h0m0.7-1.8h0m0.5-1h0m0.1 1.3h0m0.9-0.4h0m0.4-0.2h0m-43.7 4.9h0m0.4-1.5h0m1.5-0.6h0m13.3 1.3h0m1.4 0.9h0m0.2-0.8h0m4.9 0.4h0m0.4-0.2h0m1-0.6h0m0.1 0.8h0m1.6-0.1h0m1.9 0.5h0m1.3-2.4h0m0.5 0.7h0m0.6-0.7h0m2.6 2.7h0m1.3-1.7h0m0.6 1h0m0.8-0.5h0m1.1 0.5h0m0.5-0.3h0m0.2-1h0m1 1.1h0m0.4 0.2h0m2.7-1.9h0m0.9 0.6h0m0.3 1.6h0m1.7-2.1h0m0.9 0.1h0m0.2 1h0m-43.7 2.9h0m10.6 0.7h0m0.6 0.5h0m2.1-2.3h0m1.5 1.3h0m2.3-0.5h0m4.2 1.1h0m3.2 0.6h0m0.3-1.6h0m0.7 0.9h0m0.4-0.6h0m1.1 0.1h0m0.6 1.1h0m1.3-1.5h0m1-0.8h0m1 0.7h0m0.9-0.3h0m0.1 1.9h0m2.5-1.2h0m1.3 0.1h0m1.6 0h0m0.8 0.8h0m0.5-2h0m0.8 0.9h0m1.1 0.1h0m0.7-1.3h0m0.8 1.8h0m0.7-0.9h0m-43.4 3.2h0m0.6-1.3h0m0.3 2.2h0m0.6-1.2h0m7.4 1h0m0.5-1.5h0m2.7 1.5h0m0-1.2h0m1.1-0.7h0m0 1.8h0m1.8-0.6h0m0.6 1.1h0m0.7-2h0m0.8 2h0m2.7-1.5h0m1.2 2h0m0.2-1.5h0m0.3-1h0m1.4 0.4h0m1.2 0.7h0m3-0.4h0m0.4 1.7h0m0.3-1.6h0m1.5 1.5h0m0.4-1.6h0m0.5-0.7h0m0.1 2h0m0.5-0.5h0m1.7-1.2h0m1.1 1.4h0m1-1.1h0m1.2-0.5h0m0.8 1.2h0m1.4 1.3h0m1-1.4h0m0.2-1.6h0m2.2 0.8h0m0.2-0.6h0m0.5 2.7h0m0.8-2.5h0m0.3 0.7h0m0.6-0.4h0m0.3 1.9h0m-43.8 0.9h0m0.7 2.3h0m0.7-1.8h0m6.6 0.4h0m0.5 1.6h0m4-1.5h0m0.4 0.8h0m0.5-1.6h0m0.9 1.7h0m0.1-1h0m2.5 0.9h0m0.5-1.2h0m0.4 0.7h0m7.2-1.7h0m1.7 0h0m1.1 1.2h0m0.6 0.8h0m0.5 0.3h0m0.9-1h0m1.2-0.5h0m1.2-0.6h0m1.8 1.3h0m2.3-0.8h0m0.9 1.3h0m1.1-0.4h0m0 0.5h0m2.7-0.1h0m0.1-1.1h0m1.5 0.5h0m1.7-1h0m-43.5 2.8h0m6.5 0.8h0m0-1h0m0.1 2.6h0m1.2-2.1h0m5.1 0.5h0m1.2-0.5h0m0 2.3h0m7.8-1.2h0m0.7 0.3h0m1.6 0.1h0m0.1-0.7h0m1 0.2h0m0.9 0.9h0m0.8-1.1h0m0.2 0.4h0m1.6-1.4h0m0.3 2.1h0m0.4-0.7h0m0.2-0.8h0m1.3 1.5h0m0.6-0.9h0m1.2 1.1h0m0.7-2.1h0m0.2 1.7h0m0.8-1.3h0m0.9 0.8h0m0.1-0.5h0m1.1 0.1h0m2.4 0.1h0m0.3 0.6h0m1 0h0m0.4-0.8h0m0.1-0.5h0m0.5 2h0m0.2-2.8h0m0.9 0.1h0m0.3 1.3h0m-43.9 2h0m0.9-0.3h0m0.4 1.7h0m0.3 0.9h0m4.7-1.5h0m0.1 1.1h0m8-1.3h0m0.2 0.8h0m0.6-1.2h0m1.7 0.4h0m0.2 0.6h0m0.7 0h0m0-1.1h0m1.4 1.8h0m1.9-1.5h0m0.3 1.8h0m0-2.5h0m1.1 2.5h0m1.8-1.7h0m1 1.1h0m0.2-1.2h0m1.7 0.8h0m0.1-0.7h0m0.4 0.4h0m0.9 1h0m0.4-0.1h0m2.3-1.9h0m0.2 1.5h0m0.5 1.1h0m0.7-2.4h0m3.7 2.2h0m2.5-0.6h0m0.2 0h0m3.9-1h0m0 1.6h0m1.4-1.7h0m0 1.1h0m0.2-2h0m-44 5.8h0m0.2-2.8h0m0.8 1.8h0m0.2-0.7h0m3.2 0.1h0m0.7 0.4h0m0.3-0.1h0m0.6-1.1h0m8.3 1.6h0m0.4-1.2h0m1-0.4h0m0.6 1.2h0m0.6-1.1h0m0.5 1.6h0m2.1 0h0m1.3-0.2h0m1.6-1.7h0m0.1 1.5h0m0.4-0.5h0m0.6 1.1h0m0.8-1.1h0m0.1 1.1h0m1.4 0.3h0m0.3-1.9h0m1 1.9h0m1.1-1.4h0m0.3 1h0m0.7-1.7h0m0.9 0h0m0.3 1.1h0m1-0.3h0m0.3 0.6h0m0.1 1h0m1.7-1.4h0m0.3-0.3h0m0.5-0.2h0m0.5 1.1h0m0.8 0.8h0m0.6-1.9h0m0.3 0.4h0m1.2-0.4h0m0.7 0.8h0m0.6-1.3h0m0.9 1.9h0m0.3-0.4h0m0.1-0.8h0m1.4 0.4h0m1.1-0.7h0m0.1 1.3h0m0.1-2.2h0m-42.7 3.4h0m0.4 2.3h0m0.8-2.8h0m0.6 2.4h0m0.2-1.6h0m0.2 1.5h0m2.3-1.6h0m-4.8 4.9h0m0-2h0m1 1.4h0m-0.8 1.7h0m0.1 1.7h0m0.9-2.2h0m-1.8 3.7h0m0.6 1.3h0m1 0.3h0m0.3-1.6h0m-0.8 3.6h0m0.3-1.4h0m0.1 0h0m-1.3 4.3h0m0.2 1.4h0m0.2-2.4h0" stroke="#0000f0" stroke-width="2.4" stroke-linecap="round" fill="none"/>
<path d="M96.5 647.5h3.8M96.5 648.5h2.8M96.5 649.5h2.8M96.5 650.5h0.5M99 650.5h1.2M99.8 651.5h1.2M96.5 652.5h0.5M99 652.5h2.5M96.5 653.5h4.8M96.5 654.5h4.8M96.5 655.5h5.8M96.5 656.5h7.8M96.5 657.5h9M96.5 658.5h9.8M96.5 659.5h10.8M96.5 660.5h5.8M104.2 660.5h3.8M96.5 661.5h4.8M105.2 661.5h3.5M96.5 662.5h3.8M101.5 662.5h0.5M104.2 662.5h5.2M96.5 663.5h2.8M102.5 663.5h7.8M96.5 664.5h2M102.8 664.5h8.2M96.5 665.5h2.8M101.8 665.5h10.2M96.5 666.5h16.2M96.5 667.5h16M96.5 668.5h15M97.2 669.5h0.5M98.8 669.5h2.8M104.2 669.5h6.8M99.8 670.5h0.8M106 670.5h5.5M115.5 670.5h0.8M99.8 671.5h1M107 671.5h5.5M114.5 671.5h2.8M98.8 672.5h3M107 672.5h4.5M114 672.5h4.2M98 673.5h6M106 673.5h5M114.8 673.5h4.2M97 674.5h13.2M111.5 674.5h0.5M113.8 674.5h6.2M96.5 675.5h2M100 675.5h1.8M103.2 675.5h6M112.5 675.5h8M96.5 676.5h1M104.5 676.5h1M107 676.5h1.8M113.2 676.5h7.8M96.5 677.5h0.8M108 677.5h1.5M112.8 677.5h5.5M120.5 677.5h1M96.5 678.5h1.8M108.5 678.5h2M111.8 678.5h5.5M121.5 678.5h0.5M96.5 679.5h2.5M109.5 679.5h7M98.2 680.5h2.2M101 680.5h0.5M109.2 680.5h8M99 681.5h1.5M108.2 681.5h12.2M98 682.5h1.5M106 682.5h6.2M114.2 682.5h7.2M122.2 682.5h1.8M96.5 683.5h3.5M103.8 683.5h7.5M115.8 683.5h8.8M96.5 684.5h4.5M102.8 684.5h8.8M116.8 684.5h8.2M96.5 685.5h16M117.2 685.5h8.2M96.5 686.5h17.5M117.2 686.5h8.2M96.5 687.5h18.5M116.2 687.5h10M96.5 688.5h2.8M107.2 688.5h5M115 688.5h11M96.5 689.5h1.8M108.2 689.5h3M116 689.5h9" stroke="#92ffff" stroke-width="1.3" fill="none"/><path d="M95.3 632h0m2.3 1.2h0m0.5 2.6h0m-1.4 10.5h0m1.7-0.1h0m2.1 0.2h0m-5 1.9h0m0.6-1.7h0m0.2 2.9h0m0.4-1.2h0m1.3-0.7h0m1.7 0.9h0m1.7-1.5h0m1.2 1.5h0m0.4-1.8h0m0.7 2.6h0m0.1-1.7h0m0.1-0.7h0m-8.5 4.6h0m1.4-1.3h0m1.6-0.3h0m0.9 1.2h0m0.8-0.2h0m0.4-1.1h0m1.6 1.6h0m0.1 0.2h0m0.6 0.8h0m2-0.1h0m-9.6 1.5h0m0.7-0.9h0m0.1 2.2h0m0.7-2.2h0m0.2 1.4h0m1.3-0.4h0m0.9-1.3h0m2.3 0.9h0m0.8 1.3h0m1.2 0.2h0m0.2-0.9h0m0.8 0.9h0m-8.8 3h0m0.3-1.7h0m1.3-0.1h0m5.1-0.3h0m1.7 0.6h0m1.8 1.5h0m0.5-0.8h0m1.8-1.2h0m-12.6 5.2h0m0.4-2.3h0m0.8 0.5h0m5 1.4h0m1.6-0.7h0m0.3 0.7h0m0.7 0h0m2.2-1.7h0m1.5 1.5h0m0-1.3h0m0.1 0h0m0.9 1.2h0m-13.9 2.6h0m1.5-0.7h0m3.5 0.8h0m0.8 0.3h0m1.2-1.7h0m0.6 2.1h0m1.6-1.5h0m1.6-0.8h0m4.2 2.3h0m0.4-2.1h0m1 2.5h0m0.9-2.2h0m-17.3 4.9h0m0.3-2.5h0m0.4 0.3h0m1 2.1h0m2.2-2.2h0m1.2 2.1h0m0.2-1.4h0m1.7-0.1h0m8.6-0.6h0m0.8 0.2h0m1.2 1.3h0m0-0.6h0m4.1 0.3h0m3.5 1.1h0m-24.2 1h0m0.7 1.6h0m1.7 0.4h0m2.9 0.3h0m1.9-0.5h0m0.6-0.6h0m1.5 1.1h0m5.4-1.5h0m0.3 0.8h0m1.5-1.8h0m2.3 2.7h0m0.4-2.6h0m1.2 1.6h0m-21.3 1.4h0m2.4 0.1h0m0.1 2h0m1.1-2h0m0.3 1.6h0m0.9-1.8h0m1.3 0h0m1.3 1.5h0m0.4-0.5h0m2.9-1h0m0.1 1.7h0m0.9-1.4h0m0.2 1.5h0m4.1 0.8h0m0.3-1.1h0m1.2-0.4h0m0.8-1.1h0m1 1.3h0m1.3-1.3h0m2.4 0.9h0m1.1 0.6h0m-23.6 3.2h0m1.2 0.6h0m0.4-2.2h0m1.5 1h0m1.3 1h0m0.9 0.5h0m0.5-0.6h0m1-0.9h0m2.2-0.9h0m1.3 0.4h0m1.2 1.8h0m2.6-1.4h0m0.2-0.4h0m1.4 1.6h0m1.7-1.2h0m1.9-0.9h0m5.6 0.2h0m0.5 1.7h0m-26.1 2.3h0m0.6-1.3h0m1.4 1.9h0m0.2-1.7h0m1.7 1.9h0m0.9 0h0m0.7-1.3h0m1 1.4h0m0.8-2.5h0m2.5 2.6h0m0.2-0.1h0m0.1-2.1h0m0.1 2.1h0m2.1-0.5h0m1.4-2h0m0.1 2.4h0m1.5-0.5h0m0-1.7h0m0.9 1.8h0m1.5-0.4h0m0.1-1.3h0m1.1 0.4h0m3.6 1.5h0m0 0.7h0m1.6-1.2h0m0.3-1.1h0m0.4 1.2h0m1.1-0.9h0m0.2 1h0m0.4-0.8h0m1.3-0.2h0m0.2 1.6h0m3.5-2h0m-31.5 5h0m0.8-2.3h0m0 2.6h0m1-2.8h0m0.7 2.1h0m0.4 0.1h0m0.1 0.6h0m1.1-2.5h0m0.4 0.8h0m0.3-0.7h0m2.2-0.2h0m0 1.3h0m0.5-1.4h0m0.5 2h0m1-0.1h0m1.2 0.7h0m1.9 0h0m0.2-0.3h0m0.2-1.4h0m1.6-0.6h0m4 2.1h0m5.3-1.1h0m0.8-0.8h0m0.5 0.2h0m1.3 1h0m0.3 0h0m0.6-1.5h0m0.6 2.6h0m0.1-2h0m0.1 0.8h0m-27.6 4.3h0m0.7-1.8h0m1.4-0.4h0m3.2 0.7h0m0.4-0.8h0m0.8 1.3h0m0.9-0.3h0m1.3-0.7h0m0.5-0.6h0m7.2 0.8h0m4.9 0.6h0m7.6-1.7h0m1.4 2.1h0m0.3-1.2h0m-29.8 3h0m0.9-0.3h0m0.4 0.2h0m4.4 1.3h0m0.2 0.1h0m4.4 0.2h0m0.5 0.1h0m6.6-2.4h0m0.5 1.2h0m0.2-0.2h0m0.1-0.6h0m1.6 1.3h0m0.2 0.9h0m1.8-1.4h0m7.8-0.5h0m0.1-0.1h0m0.2 1.7h0m2-0.1h0m-32.1 0.6h0m0.2 2.5h0m0.3-0.8h0m2.3-0.7h0m0.9 0.4h0m1-1h0m2.7 0h0m0.2 1h0m1.5-1.1h0m0.2 0.6h0m3 1.4h0m1.1-0.7h0m0.8 0.2h0m1 1.1h0m0.3-1.2h0m0.5 0.9h0m1.1-2.4h0m1.1 2.4h0m0.4-1.2h0m0.3-0.7h0m1.9 1.1h0m0.4 0.3h0m1.1 0.5h0m0.3 0.3h0m3.8-1.4h0m0.4 0.8h0m0.2 0.6h0m0.6-0.8h0m1.1 0.2h0m0.6-0.4h0m0.6 0.1h0m2.8-1.5h0m0.8 2.4h0m-33.8 1.5h0m1.1-1h0m2.1-0.4h0m0.1 1.5h0m1.8-1.5h0m0.2 1.6h0m0.4 0.9h0m0.4-1.7h0m7.2-0.2h0m0.5 2h0m2.9-1.5h0m0.7 1.2h0m0-0.7h0m0.9-1.4h0m2.3 0.8h0m0.5-0.6h0m2.3 2.3h0m0.3-1.8h0m1.8 0.8h0m2 0.9h0m3-2.2h0m1.2 0.3h0m0.1-0.5h0m2.4 1.6h0m0.6 0.4h0m-29.9 1.7h0m1.4 0.7h0m2.9 1.2h0m1.7-0.9h0m1-0.3h0m1.7-0.3h0m0.6-1h0m1.3 2h0m0.7-1.5h0m3.6 0.2h0m1.1-0.1h0m0.6-0.6h0m0.5 2.4h0m1-1.8h0m0.7 2.1h0m0.8-2.2h0m0.1 1.4h0m0.8-1.7h0m1.3-0.1h0m1.6 0.8h0m0.7 1h0m0-1.8h0m1.5 1.5h0m0.1-1.8h0m1 2.3h0m0.5-1.6h0m0.3-0.8h0m3.4 2.4h0m0.8 0h0m0.3-0.4h0m1.7-0.8h0m-37.3 4.1h0m2.3-0.7h0m1.1 0.7h0m0.2-0.4h0m0.8-1.7h0m0.4 0.4h0m0.2 2.4h0m0.9-1h0m2.1-1h0m5.6 0.8h0m0.8-0.2h0m1-1.3h0m6.8 1.2h0m1.4 0.6h0m1-0.6h0m1.4 0.5h0m0.5-0.6h0m2.2 1.6h0m0.7-1.1h0m0.5-0.1h0m1.6 1h0m0.1-1.9h0m0.7-0.6h0m0.5 0.8h0m1.2 0.4h0m1.9 0.3h0m0.6-1.8h0m0.3 2.4h0m1.1 0.4h0m1.8 0h0m1.7-0.4h0m0.6-0.1h0m-42.4 2.7h0m0.6-0.3h0m1.4 0h0m0.1-1.4h0m2 1.4h0m0.1 0.5h0m2.5 0h0m1.8-0.3h0m1.4-1.7h0m0.3 0.6h0m1.1-0.4h0m1.1 1.1h0m0.5 1.4h0m1-1.4h0m0.4 1h0m0.7-1.3h0m6.7-1.1h0m0.5 1.3h0m1-1.1h0m1.5 0.4h0m1.4-0.4h0m0.2 0.9h0m2.3 1.4h0m1.3-2h0m0.7 1.7h0m0.2-0.8h0m2.1-1.1h0m0.2 1.7h0m0.5-1.7h0m0.8 2.3h0m0.7-0.1h0m0.8-1.8h0m1.4 1h0m6.1 0.4h0m-37.6 2h0m1.3 0.4h0m0.5-0.7h0m2.4-0.4h0m0.2-0.3h0m0.3 1.3h0m1.4-0.4h0m0.7 1.7h0m2.1-0.7h0m0.5-1.2h0m1.4 1.9h0m2.1-1.6h0m1 1.6h0m7.8 0.2h0m0.1-2.7h0m1 2.3h0m0.6-2h0m0.2 1.1h0m2.4 0.3h0m0.4 0.4h0m2.9 0.2h0m0.6-1.6h0m2.7-0.4h0m0.8 1.4h0m0.7-0.7h0m0.1 1.6h0m1.2 0.1h0m-37 2.2h0m0.5-0.9h0m2.8 1.5h0m2.6-1.2h0m0.2 1h0m0-1.1h0m1.4 0.5h0m0.9 0.3h0m0.3-1.1h0m0.8 0.5h0m0.5-1.5h0m0.6 0.5h0m0.1 2h0m2-1.7h0m1.6-0.9h0m0.5 1.4h0m1 0.9h0m0.2-2h0m1 1.7h0m0.2-1.8h0m1-0.2h0m7 2h0m1.9 0.2h0m0.6-0.7h0m0.5 0.2h0m1.5-0.2h0m1.1-0.4h0m5.1-0.5h0m0.3 1.2h0m2.8-1.5h0m-43.7 3.5h0m8.4 1.9h0m2.3-1.5h0m1.4 0.8h0m0.1-0.9h0m0.4 1h0m1.1-1.6h0m0.4 2h0m0.5-1.2h0m0.7 0.8h0m1-1.9h0m1.9 0.7h0m1.5 2h0m0.3-1.2h0m1.8 0.3h0m0.4-1.9h0m0.2 0.6h0m8.1 2h0m0.4-2.1h0m1.3 0.5h0m0.4 0.3h0m2-0.5h0m7.6 1.4h0m1.1 0.4h0m-43.3 0.7h0m2 2.1h0m0.5 0.2h0m1.2 0h0m2.4-1.9h0m0.7 1.8h0m1.7-1.9h0m1.5 0.6h0m0.1-0.1h0m0.7 1.6h0m1.3-1.5h0m0.9 1h0m0.8-0.7h0m1.5-1h0m0.8 1.4h0m5.3-1.5h0m2.3-0.5h0m0.6 1.4h0m1.8 0.7h0m0.9 0.2h0m1.9-0.5h0m2.7 0.9h0m0.5-2.2h0m1.2 1.8h0m2.9-0.4h0m3.3-1.6h0m0.8 1.9h0m1.9-1.8h0m0.4 1.1h0m1 0.1h0m-44.3 3.2h0m0.9-1.9h0m0.9 1.3h0m0.7 0.2h0m0.6-0.2h0m2.2-0.3h0m1.6-0.2h0m1.5 1.2h0m0.3 0.5h0m2.3-0.8h0m1.7-0.5h0m0.2 0.6h0m1.3 0.1h0m0.7 0.4h0m1.4 0.5h0m0.4-2h0m0.2 1.3h0m0.6 0.8h0m0.1-0.3h0m0.6-1.5h0m0.7 0.5h0m4.3 0h0m2.1-1h0m0.7 1.1h0m0.9-1.3h0m0 1.6h0m0.6 0.8h0m1.8-1.9h0m2.1 0.9h0m0.1-1.1h0m0.7 1.8h0m0.7-1.5h0m1 0.6h0m0.5-1.1h0m0.7 0.3h0m0.1 1.1h0m1.7-0.6h0m1.4 1.5h0m1.5-1.8h0m4.1 1.1h0m-43.3 2.9h0m0.5-1.5h0m0.5 1.1h0m4.5 0h0m1.2-1.2h0m2.1 0.3h0m0.4 1.4h0m1.1-0.9h0m1 0.9h0m0.4-1h0m1.7 0.3h0m0.6-1.1h0m0.3 1.9h0m3.8-0.1h0m0.1-2.1h0m0.3 1.4h0m3.8-0.6h0m5.6 1.4h0m1.1-1h0m1.1 0.1h0m0.1-0.7h0m0.7 2.1h0m1.4-1.3h0m2.1 0.9h0m1.8-2h0m0.5 1.7h0m2-1.7h0m0.5 1.1h0m2 0h0m1 0.4h0m0.5-1.1h0m-42.9 2.5h0m1 1.8h0m3.8 0.8h0m1.6-1.5h0m0.9 1.3h0m0.4-1.2h0m0.9 0.1h0m0.3-1.4h0m2.1 2.1h0m0.1-1.4h0m0.6 0.1h0m0.8 0.9h0m2.2 0.6h0m1.9 0.1h0m0.8-1.3h0m0.3-0.8h0m0.8 2.2h0m2-0.5h0m2 0h0m0.2 0.6h0m1.6-2h0m1.3 0.7h0m0.6-0.5h0m1.8 1.3h0m1.2-0.8h0m1.2 0.1h0m1.2-0.7h0m2.2-0.2h0m2.5-0.4h0m0.7 1.7h0m0.8 0h0m0.1 1h0m0.3-2.1h0m5.5-0.5h0m-42.5 4.8h0m0.9-1.5h0m0.6 1.8h0m0.7 0.3h0m0.5-0.9h0m0.8 0.7h0m1-0.2h0m3-1.7h0m0.8 1h0m0.6-1.1h0m0.3 0.5h0m1.9 0.8h0m0.5-0.4h0m1-0.6h0m0.9 0.6h0m0.4-1.2h0m3.2 2.8h0m0.5-0.6h0m2.2-1.8h0m1.1 1.5h0m1.9 0.3h0m1.2-0.5h0m0.1-1.4h0m0.9-0.2h0m0 1.6h0m0.9-0.9h0m0.3-0.1h0m1.8 1.9h0m0.1-0.7h0m0.6-2h0m0.1 2.1h0m0.6-1.2h0m0.2 1.6h0m4.1 0.3h0m2.9-1.6h0m1-0.6h0m0.3 1.6h0m1.7-0.2h0m-41.2 1.9h0m0-0.8h0m0.5 2.7h0m1.7-0.9h0m3.9 0.8h0m0.1-1.6h0m0.6-0.8h0m0.6-0.2h0m0.3 2.6h0m1.3-2h0m0.2 1.1h0m0.7 0.7h0m0.3-2.4h0m0.9 1h0m0.5-0.4h0m0.9 1.4h0m1.2 0h0m3.5-2h0m0.1 0.8h0m0.6 2h0m0.1-1.7h0m0.9 0.7h0m0.3-1.8h0m3.8 0.7h0m1.3 0h0m1-0.8h0m1.5 0.7h0m0.6 1.1h0m0.5 0.9h0m0.8-2.1h0m0.8 1.1h0m0.9-0.8h0m2 0.4h0m0.3-1h0m1 0.4h0m0.7 1.6h0m0.1-0.9h0m0.7-0.1h0m1 0h0m0.3 1.4h0m0.4-2.6h0m2 1.2h0m0.7-1.4h0m2.5 1.2h0m2 0.6h0m-42 1.6h0m0.3 1.1h0m0.8 0.4h0m0.6-1.2h0m1.7-0.2h0m2 1.6h0m0.4 0.9h0m1.7-0.4h0m1.2-0.8h0m0.8-1.5h0m0.3 1h0m2.2-0.7h0m1.1 1h0m0.3-1h0m1.2 1.4h0m3.8-1.2h0m0.2 1.4h0m1-0.1h0m1.2-1.8h0m4 2.4h0m0.3-1.7h0m2-0.4h0m1.2-0.3h0m6.7 1h0m0.9 0.2h0m0.9-0.8h0m0.6 1.6h0m0.8-0.5h0m0.7-1.4h0m0.3 0.4h0m-41.2 4.3h0m0.6-2h0m1.8 2.9h0m0.1-1.9h0m1.3 0.3h0m1 1.4h0m0.3-0.9h0m1-1.3h0m0.6 0.5h0m1.7-0.3h0m1.5 1h0m0.1-1.6h0m0.1 2.5h0m1.2-0.6h0m0.8-0.3h0m1.3-1.4h0m0.3 1.2h0m0.8-0.1h0m0.2-0.9h0m0.4 2.3h0m0.7-2.4h0m0.9 2.1h0m4.1-2.1h0m1.1 1.6h0m3.9-1.6h0m2.8 2.4h0m0.4-0.3h0m4.5-0.1h0m0.1-1h0m2.8 0h0m2.2 0.8h0m0.1-1.7h0m0.1 1.1h0m0.3-0.1h0m2.1 0.7h0m1.1-2.2h0m0.5 2.3h0m0.5-0.7h0m0.5-1.6h0m0.2 2.7h0m-43.8 0.9h0m1.1 2.1h0m1.9-2.1h0m6.3 0.5h0m0.9-0.2h0m1.3-0.9h0m1.6 0.7h0m0.6-0.2h0m1.5 1.2h0m1.3-0.7h0m2.3 1.2h0m0.2-2.3h0m0.1 0.9h0m1.4 1.8h0m1-0.7h0m0.7-1.7h0m5.4 2.4h0m2 0.1h0m1.6-0.8h0m1.3-1.3h0m0.1 1.5h0m1 0.4h0m2-0.8h0m1.6-1.8h0m1.1 0.9h0m2.8 0.2h0m1.3 0.8h0m1.2-0.9h0m0.7 1.6h0m-44.1 0.4h0m1.2 1.4h0m1.6-1.4h0m0 1.9h0m0.7 0.8h0m1.1-0.3h0m3.4 0.1h0m5.5 0.3h0m5.3-0.1h0m0.7-1.6h0m7.2 0.2h0m0-1.3h0m1.5 0.6h0m1.1 0.9h0m1.2 0.4h0m2-0.5h0m1.4 1h0m0.5-2.1h0m0.8 2.2h0m1.8 0.4h0m1.2-2.4h0m0.1 0.6h0m0.4 0.9h0m1.2-0.6h0m1.3 1.2h0m0.4-1.4h0m0-0.9h0m2.3 1.6h0m-44 2.6h0m0.3 1h0m1.1-2.3h0m0.4 1.4h0m1.5-1.2h0m0.6 1.9h0m0.3-1.4h0m6.1 0.1h0m0.1 1.3h0m1.6-0.3h0m1-0.9h0m1.8-0.8h0m3 0.9h0m1.6 0.4h0m1.6 1.3h0m3.7-2.5h0m0.2 0.8h0m1.2 1.7h0m0.8-2.6h0m0.6 0.4h0m0.1 1.6h0m1.9 0.3h0m0-1.2h0m0.6 1.1h0m1.5-1.1h0m2.7-0.9h0m0 0.6h0m1.6-0.1h0m1.5 0.1h0m0.4 0.9h0m0.1-1.8h0m1.3 1.6h0m0.9-0.5h0m2.8 0.5h0m-43.3 1.5h0m1.9 1.1h0m0.7 1.6h0m4.9-0.4h0m3.5 0.4h0m0.5-2.4h0m1.4 0.9h0m1.5-0.5h0m0 1.7h0m0.1-1.6h0m0.3 1.1h0m4.1-2.1h0m3.5 1.9h0m0.7-0.3h0m1 1.2h0m0.7-2.7h0m1.4 0.1h0m1.2 2.4h0m1.3-0.7h0m0.2-1.6h0m3 0.6h0m2.5 1.6h0m0.8-2.5h0m0.7 1.7h0m1-0.9h0m0.2-0.7h0m1.3 1.7h0m0.6-1.2h0m1.3-0.7h0m0.1 2.7h0m0.2-2.1h0m-40.4 3.4h0m0.4 1.1h0m0.9-0.1h0m0.7-1h0m0.8 0.2h0m0.1-1.1h0m0.3 2.7h0m2.4-1h0m0.1-1.8h0m1.7 1h0m1.8 1.1h0m2.1-0.3h0m1 1h0m1.1-1.2h0m1.6 0h0m0.3 0.8h0m0.6-1h0m6.5-1.1h0m0.4 2.4h0m1.9-2.1h0m1.8 1.9h0m1.3-2.1h0m0.6 2h0m1.2 0.1h0m0.6-2.4h0m3.8 0.3h0m3.3 0.8h0m1 0.9h0m1.3-1.8h0m2.3 2.1h0m0.5-1.7h0m-41.5 4.1h0m1 0.5h0m0.3-1.7h0m2.2-0.5h0m3 1.6h0m1.5 0h0m1.4-0.3h0m0.8 1.3h0m0.5-2.1h0m0.4 1.8h0m1.8-0.7h0m0.2-1.5h0m1 1.5h0m0.9-0.9h0m2.6 1h0m0.2-0.4h0m0.9 1.1h0m0.8-1.3h0m0.3 0.7h0m1.6-0.4h0m1.7-0.1h0m0.4-1.1h0m0.2 2.2h0m1.3-1.1h0m1.3 1.6h0m1.4-0.6h0m0.9-2h0m0.1 1.6h0m8.6-0.4h0m0.3-0.1h0m1.2 0.8h0m2.3 0.1h0m1-1.5h0m0.7-0.5h0m-43.9 4.3h0m2.1-1.3h0m0.1 1.6h0m1.6 0.8h0m0.9-0.1h0m2.8-1.7h0m1.4 1.4h0m0.2-1.7h0m1 1.1h0m0.5-1.5h0m2.2 2.4h0m0.1-1.3h0m0.9-0.7h0m1.9 1.7h0m1.4-1.7h0m0.1 1.7h0m0.7-0.7h0m1.6-0.7h0m2.2-0.2h0m0.1 0.9h0m1.8-0.2h0m0.4-0.4h0m1.2-0.5h0m2.1 0.7h0m0.7 1.5h0m0.9-1.8h0m0.4 1.1h0m2.3 0.4h0m5.4-0.3h0m1.3-0.5h0m-38.1 3.9h0m0.3 0.3h0m1.6-2h0m0.2 0.9h0m0.7 0.5h0m0.3-1.8h0m1.3 1.1h0m0.1 1.4h0m0-2.7h0m4.3 1.9h0m0.3-1.7h0m0.8 1h0m0.2-0.3h0m1.5-0.8h0m1.6 0.9h0m1.7 1.1h0m0.3-2h0m0.8 1.5h0m1-1.5h0m0.2 0.1h0m1.6 0.4h0m0 1.9h0m1.5-1.9h0m1 0.6h0m1.4-0.6h0m1.5-0.9h0m0.2 1h0m0.6 1.7h0m2-0.4h0m3-1.5h0m0.5 1h0m0.4-1.1h0m1.3 2.2h0m2.2-0.5h0m3.1 0.2h0m2 0.2h0m3.3-0.3h0m1.2 0h0m-42.9 2h0m0.5-0.2h0m0.9-1.3h0m1.3 2.7h0m0.2-1.8h0m2.6 1.6h0m1 0.5h0m0.4-0.3h0m1-2.5h0m0.4 1.9h0m3.4-0.3h0m0.6-1h0m1.5 1.3h0m2.7-1.4h0m0.2 0.8h0m1.8 0.1h0m5.5-0.9h0m0.1 1.8h0m0.9-0.1h0m0.5-1.5h0m1.2 0.3h0m0.2 0.7h0m1.2 0.4h0m0.5-2.3h0m1 1.4h0m0.7-0.6h0m1.7-0.2h0m2 0.3h0m1.9 0.3h0m0.6 0.9h0m1.4 0.3h0m0.3-1.5h0m1.1-0.2h0m1.3 1.7h0m0.8-0.3h0m0.1-1h0m0 1.8h0m0.8-2h0m0.6 1.6h0m-43.9 1.6h0m2.1 1.2h0m0.3 0.5h0m0.9 0.1h0m0.1-2.5h0m0.1 1.8h0m0.5-1.8h0m0.8 0.8h0m1.6 1.3h0m0.3 0.4h0m0.7-1.6h0m1 0.7h0m2.1 0.1h0m0.1-1.3h0m1.6 1.1h0m1.5-1.5h0m1 2h0m0.6-1.7h0m1.3 1.5h0m5.7-0.1h0m2.1 0.3h0m2.3-2h0m6.3 1.9h0m2.4-2.2h0m1.3 0.8h0m1.1 1.1h0m1.9 0.1h0m0 0.6h0m0.8-2.5h0m1.3 2.2h0m2.4 0.6h0m-43.8 0.3h0m1.1 1.5h0m2.8-1.4h0m1.3 1h0m0.2 1.6h0m4.1 0h0m0.5-1.4h0m1.2 0.1h0m1.7 0.9h0m0.2-1.7h0m0.6 0.9h0m0.2 0.2h0m1.3-1.7h0m1.3 1.5h0m0.6-1.2h0m1.2 0.7h0m0.6-0.6h0m0.8 0.6h0m2.3 1.5h0m0.4-2.5h0m0.1-0.3h0m1.2 1.2h0m0.9 0.8h0m0.7 0.2h0m0.7-1.9h0m1.6 2.4h0m3.7-0.9h0m1.8 0h0m6.7-0.4h0m0.2 1.3h0m1.6-0.1h0m2.2-1.4h0m-44.5 4h0m0.6-1.6h0m3.6 0.1h0m0.2 0.1h0m0.2 0.3h0m3.1-0.8h0m0.6 1.6h0m3.4-1h0m2.1 0.3h0m1.8-1.1h0m0.8 0.2h0m2.8 2.4h0m1.5-1.7h0m1.3 1.7h0m1.6-1.7h0m0.2-0.8h0m1 0h0m0.4 1.7h0m0.5 1.1h0m1.3-1.7h0m1.5 0.3h0m0.8 0.9h0m3.2-1.9h0m1 0.1h0m1.2 0.6h0m0.6 1.5h0m2-2.2h0m0.2 1.5h0m1-1.4h0m0.4 1.5h0m0.4-0.8h0m0.8-1.4h0m0.7 2.3h0m0.8 0.3h0m1.2-0.4h0m0.9 0.1h0m0.7 0.6h0m-43.5 0.6h0m5.9 0.4h0m1.9 1.7h0m1.1-1.5h0m0.4-0.5h0m2.1 0.4h0m3.3-0.1h0m0.1-0.5h0m4.5 1.4h0m0.2-0.6h0m1.7 0.2h0m1.2-0.9h0m2.7 0.3h0m0.3 1.4h0m3.4-1.2h0m3.3 1.6h0m0.3-1.9h0m1.2 1.5h0m1.6-0.7h0m0.3-1.1h0m0.5 1.6h0m0.1 0.7h0m1.1-1.4h0m4.4-1.2h0m1.6 1.7h0m-44.2 2.4h0m1.5-0.1h0m3.5 1.7h0m0.7-2.7h0m0.3 1.5h0m1.3-0.9h0m0.6 0.7h0m3.3 0.2h0m0.2 0.7h0m0-1.9h0m0.6 0.7h0m0.4 1.5h0m1-0.2h0m0.4-2.3h0m1.7 2.1h0m0.3-0.5h0m0.8-0.6h0m0.8 1.7h0m5.1-2.2h0m0.7 1.5h0m2 0.7h0m4 0h0m1.2-1.3h0m0.8 0.1h0m6 0.5h0m1.2-0.9h0m0.6 1.7h0m1.7-0.7h0m0.6 0.5h0m1.4-2.2h0m0.6 1.6h0m0.6-0.9h0m-43.2 3.2h0m0.2-1.2h0m1 1.1h0m1.8 0.9h0m0.5-0.3h0m0.9-0.8h0m1-0.7h0m0.3 0.3h0m2 0h0m3 0.8h0m1-0.3h0m0.1 1.3h0m1-0.9h0m3-0.5h0m1.2 0.1h0m0.7 1.2h0m1 0h0m1-0.4h0m0.4 0.6h0m1.1-0.4h0m0.9-0.4h0m0.6-0.3h0m0.2 0.9h0m1.9-0.9h0m1.1-0.9h0m0.6 0.6h0m4 0.3h0m0.9 0h0m1.1 0.9h0m1.1-1.7h0m0.3 1.9h0m1.7-2.4h0m0.9 2.4h0m0.5-0.9h0m0.2 1h0m1.1-1.7h0m1.2 0h0m-39.6 3h0m1.6 1h0m0.4-0.2h0m1.7-0.4h0m0.1 0h0m2.9 0.8h0m3.5-1.8h0m1.5 1.7h0m1.6-1.4h0m2.7-0.7h0m0.2 1.6h0m6.3-0.3h0m0.3 0.4h0m6.1-0.6h0m0.8 0.9h0m0.9-0.7h0m1.3 0.3h0m2.5-0.5h0m3.4 0.2h0m1.9-0.5h0m1.4 1.2h0m0.9-1.1h0m0 1.1h0m1.7-1.4h0" stroke="#92ffff" stroke-width="2.4" stroke-linecap="round" fill="none"/>
<path d="M144.5 743.5h1.2M146.2 743.5h8.8M141.2 744.5h14.2M159.2 744.5h0.8M141.2 745.5h5.5M148.8 745.5h7.8M158.2 745.5h2.2M141.2 746.5h3.5M151 746.5h10M141.2 747.5h2.5M152 747.5h9.8M141.2 748.5h2.8M146.5 748.5h2.2M151.8 748.5h1M153.8 748.5h7.8M141.2 749.5h3.8M145.5 749.5h4.2M150.8 749.5h1M154.8 749.5h7.2M141.2 750.5h10.2M155.8 750.5h5.2M141.2 751.5h3.8M146 751.5h6.5M154.8 751.5h1.8M159 751.5h0.8M141.2 752.5h2.8M147 752.5h8.8M142.2 753.5h0.8M147.5 753.5h9.2M162 753.5h1.5M146.5 754.5h9.8M161 754.5h3.5M144.8 755.5h10.5M160.2 755.5h4M143.8 756.5h12.2M160.2 756.5h3.8M144 757.5h14M159.2 757.5h5.8M166.5 757.5h1M144.8 758.5h25M144.8 759.5h0.5M146 759.5h27.2M142.8 760.5h0.5M143.8 760.5h0.5M147 760.5h9.5M159 760.5h11.5M171.8 760.5h5M141.2 761.5h0.8M147.5 761.5h0.8M149.8 761.5h5.8M159.5 761.5h10M172.8 761.5h3.8M178.5 761.5h1.8M146.5 762.5h0.8M150.8 762.5h1M158.5 762.5h1.2M161.2 762.5h8M172.8 762.5h2.8M180.8 762.5h2.5M145.2 763.5h2.8M150.2 763.5h0.5M158 763.5h0.8M162.2 763.5h8M171.8 763.5h3.5M181.8 763.5h1.5M144.2 764.5h7M157.2 764.5h1M162.8 764.5h7.5M170.8 764.5h4.5M178.2 764.5h0.5M181.2 764.5h2M144.5 765.5h0.5M146.5 765.5h5.8M156.2 765.5h2.5M163.2 765.5h5.8M172 765.5h2.2M177.8 765.5h2M180.2 765.5h3M147.5 766.5h5.8M154 766.5h5.8M164.2 766.5h3.8M172.8 766.5h1.5M177.8 766.5h5.5M147.8 767.5h12.5M163.8 767.5h4M173 767.5h1.5M178.8 767.5h4.5M144 768.5h0.8M146.8 768.5h10M158.8 768.5h2M164.2 768.5h2M173.8 768.5h1M179.8 768.5h1.5M141.2 769.5h14.5M159.8 769.5h2M164.5 769.5h0.8M173.2 769.5h2M141.2 770.5h10.5M153.5 770.5h2.5M159.5 770.5h2.8M170.5 770.5h5.8M141.2 771.5h5.2M147.8 771.5h3M154.5 771.5h2.5M158.5 771.5h4M169.5 771.5h8.8M180.5 771.5h2.5M141.2 772.5h4.2M148.8 772.5h1.8M154.8 772.5h8.8M166.8 772.5h15.5M143.5 773.5h2.2M148.5 773.5h2.8M154.2 773.5h0.8M157.2 773.5h6.8M166.8 773.5h15M144.2 774.5h2.5M147.5 774.5h2.5M151.2 774.5h1M153.2 774.5h0.5M159.5 774.5h3.8M167.2 774.5h12.2M181.5 774.5h0.8M143.2 775.5h5.8M152.2 775.5h0.5M160.2 775.5h3.8M166.5 775.5h12M182.5 775.5h0.8M141.2 776.5h5.2M147.2 776.5h1.8M152.5 776.5h1M159.2 776.5h13.8M175.2 776.5h4M182 776.5h1M141.2 777.5h4.2M148.2 777.5h1.8M153 777.5h1.5M158.5 777.5h6.5M166.2 777.5h1.2M170 777.5h2M176 777.5h7.2" stroke="#70c43e" stroke-width="1.3" fill="none"/><path d="M144.5 717.2h0m17.4-0.8h0m5.5 2h0m-27.3 2.6h0m2.2 0h0m2.4-1.8h0m1.7 0.3h0m11.4 1.4h0m-17.6 1.6h0m0.4 0.1h0m2.2 1.3h0m1.6 0.1h0m1.1-2.3h0m0.7 2.6h0m0.8-0.5h0m0.8 0.4h0m1.5-2.3h0m0 1.6h0m1.6 0h0m-8.7 2.7h0m0.1-1.7h0m1 1.1h0m1.4-0.7h0m2.2 1.6h0m0.8 0h0m0.6 0.7h0m0.9-2.5h0m4.2 2.2h0m0.8 0.6h0m-14.3 1.9h0m0.3-1.8h0m0.5 2.7h0m1.4-1.3h0m0.6-0.5h0m0.8-1h0m1.5 2.4h0m0.7-0.3h0m0.1-2h0m1.5 0.9h0m1.2-0.7h0m0.5 0.9h0m1.3-0.6h0m0.5 1.2h0m1.7 0.8h0m0.2-0.7h0m0.1-1h0m0.9 0.8h0m2.8-1.6h0m1.7 1.8h0m4.4 0.4h0m-21.8 3.3h0m0.9 0.1h0m1.7-1h0m0.8-0.6h0m1.4 0.4h0m1.4 1.4h0m1.2-0.2h0m0.1-0.7h0m0.9 0.1h0m0.2 0.4h0m0.6-1.9h0m2 1.5h0m1-2.1h0m0.9 0.8h0m0.4 1.5h0m0-0.8h0m0.5-0.9h0m0.9-0.5h0m2.7 1h0m0.2-0.6h0m4.1 2.4h0m2-0.1h0m3.8-0.3h0m-27.3 3.4h0m0.2-2.2h0m1.3 0.7h0m0.4 1h0m0.5-2.1h0m0.5 2.7h0m0.8-1.7h0m2.1 0.2h0m2.6-0.1h0m0.1 0.9h0m1 0.4h0m2.9-1.3h0m0.4 1.2h0m1.6-0.6h0m0.1-1h0m0.2 1.6h0m1.6-1.6h0m2.4 1.7h0m0.7-0.4h0m2.4-0.3h0m0.6 0.9h0m0.6-2.4h0m1.1 2.2h0m1.5-1.3h0m2.9-0.9h0m3.3-0.2h0m0.3 2.5h0m0.7-1h0m-32.7 3.5h0m0.4-2h0m1.6 1h0m2-0.4h0m1 0h0m2.4 1.4h0m0.8-1h0m0.7-0.1h0m1.1 1.4h0m0.4-1.6h0m0.5-0.9h0m1.5 1h0m0.7 0.7h0m1.2-1.4h0m1.1 1.3h0m0.4 0.4h0m1.1-1h0m1.9 0.8h0m1.6-1.4h0m0.4 1.3h0m5 0h0m1.4-0.3h0m1.9-1h0m2.1 2h0m-32.7 3.2h0m1.9 0.3h0m2.1-1.3h0m0.7-1.4h0m1.5 0.4h0m1 0.2h0m0.2-0.6h0m2.6 2.1h0m1.5-1.9h0m0.1 2.4h0m1.3-1h0m0.2 0.6h0m0.3-0.8h0m1.3-1h0m0.6-0.5h0m0.4 2.1h0m1 0.1h0m1.6 0.2h0m3-1h0m1.7-0.2h0m0.2 1.2h0m1-1.8h0m3.2 0.6h0m1 0.5h0m0.5-1.6h0m3.1 0.5h0m3.7 0.1h0m1.7 1.2h0m0.2-0.8h0m-36.4 3.2h0m0.4 0h0m1.9-0.3h0m0.1-0.9h0m0.7 0.9h0m0.1-0.8h0m1.5 1.3h0m1.4 1.1h0m0.9-1h0m1.3-0.7h0m1.2-1h0m0.7 1h0m0.7 0h0m2-0.6h0m0.8 0h0m0.3 1.7h0m1.4-0.2h0m0.2-0.2h0m2.1-1.6h0m0.1 0.3h0m1.2 1.4h0m0.4-0.6h0m1 1.5h0m1.6-1.4h0m0.1 0.5h0m3.6 0.9h0m2.8-1.1h0m4.7-1.1h0m0.3 1.3h0m-34.6 1.3h0m1 0.6h0m0.9 0.2h0m2.1 1.9h0m0.7-0.7h0m1.5-0.7h0m0.5 0.6h0m0.7-1.3h0m0.2 2.1h0m1.4-1.6h0m0.7 1.3h0m0.4-0.2h0m0.3-1.6h0m1.2 1.8h0m6-1.4h0m3.1-0.8h0m1.7 2h0m0.2-2.1h0m0.7 0.9h0m0.2 1.1h0m1.4-1.8h0m0.2 1.9h0m0.9 0.5h0m0.9-1.8h0m1.4 1.6h0m0.9-1.1h0m1.9 0h0m3.7 1.1h0m2.3-2.6h0m2.8 0.2h0m2 2.7h0m-42 0.1h0m1.2 2h0m0.2-0.7h0m0.1 1.3h0m0.5-1.3h0m3.7-0.4h0m0.2-0.2h0m5.6 0.3h0m0.4 1h0m0.8-0.9h0m1-1.2h0m0.3 2.8h0m0.2-1.3h0m0.3 0.4h0m1.8 0.3h0m1.4-0.4h0m3.2 1.1h0m2-1.1h0m0.1-0.4h0m0.9-0.8h0m0.8 0.5h0m0.5 1.3h0m5.1-0.3h0m1.4-0.2h0m10.5 0.2h0m-41.5 2.7h0m0.4-1h0m1.3 1.2h0m1.8 0.5h0m0.2-0.4h0m0.1-1.6h0m1.8 0.7h0m0.8 1.1h0m6.1-2.1h0m1.3 0.4h0m2.4-0.3h0m0.2 2.5h0m0.7-0.2h0m1.5-1.3h0m0.4 1.4h0m0.8-1.9h0m0.8 1.3h0m0.4-1.9h0m1.3 1.5h0m0.6-0.7h0m0.1 1.3h0m1-2h0m0.6 1.4h0m0.9 1.1h0m4.9-2.2h0m5.4 1.3h0m3.2-0.2h0m0.9-0.5h0m-40 4.6h0m0.3-2.2h0m0.7-0.2h0m1 1.7h0m0.6-0.4h0m0.5-1.6h0m2 0.5h0m1.2 0h0m0.4-0.6h0m8.9 2.1h0m0.8-0.9h0m0.4-1.1h0m0 1.9h0m1.7-1.8h0m0.3 1.7h0m1.8-1.8h0m0.4 1.6h0m3.1 0.8h0m0.8-2.5h0m1.4 2.1h0m0.2-1.6h0m1.8 0.8h0m0.4-0.1h0m1.6 1.5h0m0.9-1.9h0m0.6 0.1h0m0.7 1.3h0m1.3-0.1h0m0.1-1.8h0m0.3 0.7h0m0.7 0.9h0m1.3-1.6h0m0.7 2.2h0m0.2-0.6h0m1-0.5h0m1.1-0.4h0m0.3 0.8h0m1.3 0.2h0m0.9 0.5h0m2.3 0h0m0.1-1.3h0m-43.6 1.9h0m0 2.5h0m0.9 0.2h0m0.3-1.6h0m0.4 1.5h0m0.6-0.1h0m0.3-2.1h0m2.1 1.6h0m0.7 0.7h0m11.9-2.3h0m8.9-0.4h0m1.3 0h0m1.7 1.2h0m0.9 0.2h0m0.2-1.3h0m0.6 2.4h0m0.8-1.9h0m1.3 1.3h0m0.5-1.1h0m0.8 2h0m0.2-2.7h0m0.3 2.3h0m0.7 0.2h0m1.3-2.6h0m0.1 2.2h0m1.5 0.5h0m0.2-1.7h0m0.2 0.3h0m0.9 1.5h0m0.7-2.7h0m1 0.5h0m0.9 1h0m-42.5 2h0m0.6 1.8h0m1-0.9h0m0.6 1.2h0m0-2h0m0.6 0.6h0m1.4 0.3h0m0.4-1h0m0.6-0.5h0m0.9 1.9h0m1.7-0.5h0m0.5-0.6h0m0.2 1.6h0m1.5-0.6h0m1.7 0.4h0m0.9-0.8h0m2.1 0.7h0m1.4 0.1h0m0.4 0.4h0m0.5-2.5h0m0.7 1.7h0m0.6-1.9h0m0.2 2.5h0m2.1-0.5h0m1.3 0.5h0m7.6-1.2h0m0.3 0.2h0m0.2 1.2h0m0.4-1.7h0m1.8 0.7h0m0.1-1h0m2 1.5h0m1.1-0.3h0m0.3-1.2h0m1.6 0h0m0.8 1.1h0m0.5 0.4h0m2.3-0.2h0m0.5-0.3h0m0.6-1h0m0.7 1.1h0m0.8 0.9h0m0.2-2.6h0m-44.3 3.6h0m0.5 1.4h0m1.2-1.8h0m0.2 1.3h0m2-0.4h0m0.3-1.3h0m1.1 2.4h0m0.3-0.9h0m2.6-1.1h0m1.1 1.2h0m0.1-1.5h0m1.7 0.2h0m0 0.9h0m0.5 0.6h0m0.7-1.2h0m1.9 1.8h0m0.7-1h0m0.4-0.3h0m0.3 1.7h0m0.2-0.8h0m2.4-1.8h0m1.5 1h0m0.2-1.1h0m0.2 2h0m1.2 0.9h0m0.7-1.2h0m0.9-1h0m5.7 2.1h0m1.2-0.9h0m1.6-0.5h0m0.3 0.8h0m0.1 0.4h0m3-1.5h0m0.7-0.3h0m1.7-0.1h0m0 1.3h0m0.6 0h0m2.3-1h0m0 0.1h0m0.8-0.5h0m0 1.2h0m2.2-1.2h0m0.1 0.6h0m0.6 0.3h0m-43.7 1.4h0m0.2 1.5h0m2-0.1h0m0.9 0.6h0m0.1 1h0m1.2-1.5h0m0.5 1.1h0m0.4-2.1h0m0.9 0.7h0m1.9-0.2h0m6-0.3h0m4.1 0.7h0m1 0.7h0m0.3 0.9h0m1.2-1.7h0m1 1.1h0m2-2.2h0m0.2 1.7h0m0.1 1h0m2.8-0.4h0m0.5-0.2h0m2.2-0.1h0m1.9-1.3h0m1.2 1.8h0m0.2-0.7h0m0.4-0.6h0m0.4 1.6h0m0.7-2.8h0m1.3-0.2h0m0.1 2.5h0m0.2-2.1h0m0.3 2h0m2 0.1h0m0.2 0.1h0m0.4-2.1h0m0.7 1.7h0m1.9 0.1h0m1.3-0.8h0m0.1-1.2h0m1.4 1.4h0m0.3-1.4h0m0.1 0.5h0m-44.8 4.3h0m0.6-1.3h0m0.3 1.7h0m0.5-2h0m4.5 2.4h0m0.9-0.5h0m0.9 0.1h0m0.6-0.7h0m3.1-0.7h0m1.2-0.3h0m0.2 0.8h0m0.8 1.3h0m0.5-1.9h0m0.4 2h0m0.9-2h0m1.3-0.8h0m0.5 1.6h0m0.3 0.4h0m4.6-0.7h0m0.5-1.2h0m1.2 1.9h0m0.8 0.6h0m0.1-1.3h0m0.8-1.1h0m1.3 1.4h0m0.8 1.1h0m0.7-1.2h0m1.3-0.8h0m0.1 1.8h0m0.2-0.6h0m0.6-1.6h0m4.9-0.4h0m1.1 0.6h0m0.4 1.4h0m0.8-0.5h0m1.3 1h0m0-1.7h0m0.9 1.1h0m0.6-1.2h0m0.5 1.3h0m2.2-1.1h0m0.1-0.9h0m0.7 0.5h0m0.2 0.7h0m-44.1 4.2h0m0-1.6h0m1.6-0.2h0m0.1 0.8h0m1.9 0.2h0m4.4 0.1h0m2.7-0.3h0m0.1 1h0m0.4-2.3h0m1-0.1h0m0.4 1.1h0m0.6 1.4h0m0-1h0m1.1 1.3h0m1.3-1.5h0m0.7-0.1h0m0-1h0m0.5 2.1h0m0.6-1.4h0m0.1 2h0m1.4-1.5h0m0.5 1.4h0m3.5-0.8h0m0.5-1.4h0m0.5 2.2h0m0-0.8h0m2.3-0.7h0m0-1.3h0m12.8 0.2h0m1.9 2.6h0m0.6-0.7h0m0.9-0.6h0m0.5-1h0m1.9 1.3h0m-44.3 3.9h0m0.3-1.9h0m1 0.6h0m0.2-1.2h0m0.6 2.7h0m0.4-0.3h0m0.5-2.5h0m4.1 2.4h0m0.3-0.5h0m1.3 0.3h0m2.1-1.3h0m0.5-0.9h0m0.9 1.7h0m1.4-1.1h0m0.1 2.1h0m0.5-1.7h0m1.9-0.2h0m1.6 0.6h0m2-1.3h0m1 2.5h0m2.1 0h0m1.4-1.7h0m0.7-1h0m0.2 2.8h0m0.7-2.5h0m2.1 1.5h0m0.7-1h0m0.2 2h0m1.5-0.9h0m2.6-1.6h0m0.3 1.7h0m2.1-0.7h0m0.1 1h0m1.2 0.2h0m0.9-0.1h0m0.6-2.4h0m0.8 0.2h0m0.5 1.3h0m0.5 0.7h0m1.1-0.1h0m1 0.6h0m0.1-2.3h0m0.3 1.6h0m0.8 0.1h0m0.1-1.9h0m1.2 2.6h0m-40.4 0.3h0m3.8 1h0m1.3-0.1h0m0.7-0.9h0m3.9 0.5h0m0.8-0.5h0m0.9 0.5h0m0.4-0.5h0m1.9 0.6h0m0.3-0.5h0m0.1-0.2h0m2.9 0.1h0m0.1 0.7h0m1.6 0.3h0m3.4-1h0m0.6 0.1h0m0.9 0.4h0m2.3 0.1h0m0.3-0.4h0m1.1-0.1h0m1 0.8h0m1.5-0.5h0m0.3 0.6h0m4.4-1h0m4 0.5h0m0.3 0.3h0m0.6-0.4h0" stroke="#70c43e" stroke-width="2.4" stroke-linecap="round" fill="none"/>
<path d="M191.1 741.3h0m-3.7 5.7h0m4.5-0.6h0m7.7 6.5h0m0.8 4.5h0m9.5-1.8h0m9.6-0.6h0m-31.5 5.5h0m1.2-0.9h0m7.5 0.1h0m0.3 0h0m1.1 0.6h0m1.5-0.1h0m4.5-1.4h0m6.2-1.2h0m1.7 0.1h0m0.2 0.9h0m12 1.1h0m-37.1 3h0m1.5-1.3h0m0.3 1.6h0m3.3-2h0m1.2 0h0m3.2 1.2h0m2.6 0.5h0m9.2-0.1h0m6-0.2h0m6.8 0.4h0m1-2.1h0m-36.3 4.1h0m0.4 1.7h0m1.1-2.6h0m0.4 0.5h0m0.5 0.6h0m2.7-0.3h0m2.4-1h0m0.8 1.6h0m0.7 0.6h0m1-1.7h0m2.5 2h0m1.1-2h0m0.5 1.7h0m0.1-1.7h0m3.6-0.6h0m5.1 2.1h0m7.7 0.1h0m2.9 0.5h0m-33.8 1.2h0m1.1 1.4h0m0.7-0.3h0m0.7-0.9h0m0.2-0.4h0m0.1-0.3h0m1.2-0.5h0m0.1 1.2h0m1.3 1.6h0m0.5-2.6h0m0.8 1.5h0m0.5 1.1h0m1.3-1.9h0m1.4-0.5h0m1.3 0.5h0m1.3 0.2h0m3.3-0.4h0m3 1h0m6.5-0.3h0m2.4 0.7h0m3.3-1h0m-30.2 4.4h0m1.1-1.3h0m1.1-0.9h0m0.8 0.3h0m1.1 0.2h0m1.9 0.8h0m0.5-0.6h0m0.9 1h0m1-1.9h0m2.1 1.1h0m1.8 0.6h0m4.2 0.7h0m5.3-1.6h0m19.1 2h0m-41.7 1.9h0m1.7-0.6h0m0.4-0.8h0m1 2.6h0m1.1-2.9h0m1.9 0.1h0m0.5 0.5h0m2.2 0.4h0m0.3 1.3h0m0.7-2.3h0m9.2 2.2h0m0-0.8h0m5.8-1.3h0m4 1.3h0m-21.9 2h0m2.7 1.9h0m16.5-2.2h0m-25.3 2.9h0m6.1 1h0" stroke="#dd0000" stroke-width="2.4" stroke-linecap="round" fill="none"/>
<polygon points="104.6,643.1 110.8,653.1 98.4,653.1" fill="#f2b266" stroke="#1a1a1a" stroke-width="1.1" stroke-linejoin="miter"/><circle cx="104.6" cy="649.8" r="0.45" fill="#8a5a20"/><polygon points="178.2,775.3 184.4,765.7 172,765.7" fill="#f2b266" stroke="#1a1a1a" stroke-width="1.1" stroke-linejoin="miter"/><circle cx="178.2" cy="768.9" r="0.45" fill="#8a5a20"/><polygon points="230,756.3 235.9,762.2 230,768.1 224.1,762.2" fill="#f2b266" stroke="#1a1a1a" stroke-width="1.1" stroke-linejoin="miter"/><circle cx="230" cy="762.2" r="0.45" fill="#8a5a20"/>
<path d="M423.5 601.6h0m0 3.3h0m1.4 17.4h0m0.8-0.5h0m4.9-0.8h0m1.1 0.9h0m6.9-0.3h0m3.6 0.5h0m1 0.2h0m-36.8 2.8h0m1.9 0h0m1.4-1.4h0m5.9 0.5h0m1.5 0h0m1.2 0.5h0m1.8-0.1h0m0.4-0.8h0m0.2 0.6h0m2.4 0h0m2.4-1.2h0m1 0.7h0m0.2 1.5h0m0.5-2h0m0.4 1.5h0m0.5-1.3h0m3.4 0.6h0m8 0.1h0m0.5-0.8h0m0.9 0.8h0m0.8-1.3h0m0.4 1.5h0m2.1-0.7h0m3.2 1.1h0m1.2 0.1h0m-43.1 1.6h0m0.7 0.6h0m0.3-0.2h0m1.1-0.5h0m0.2 1.7h0m8.2-0.4h0m1.1-1.5h0m6.3 1.1h0m1.5 0.4h0m0.2-0.4h0m0.1-1.1h0m1.4 2h0m0.2-1h0m1.2-1.5h0m0.1 2.4h0m1.5-2.4h0m1.2 2h0m0.1-1.3h0m2 0.2h0m2.8 1.2h0m1.5 0.5h0m3.8-1.1h0m0.4-1.4h0m1.2 0h0m-37 5.1h0m0.3-2.3h0m0.4 0.5h0m0.3 2.2h0m0.5-1.7h0m4.4-0.7h0m1.9 1.1h0m0.9-1.5h0m8.1 0h0m1.4 1.6h0m0.3-1.2h0m1.8-0.4h0m0.1 2.4h0m1.4-0.9h0m0.7 0.1h0m1.6 0.8h0m0.3-2.1h0m1.3 2.5h0m0.6-1.5h0m1.1-0.3h0m7.7 1.2h0m2.9-2.2h0m0.9 2.7h0m1-0.2h0m0.8-1.8h0m1.5-0.5h0m-42.3 4.5h0m0.7-1.7h0m0.3 1.7h0m2.1-1.2h0m0.7 1.1h0m3.3-0.2h0m2-0.8h0m6.5 2.1h0m0.1-1.8h0m1.9 1.6h0m2.8-0.6h0m0.1-1.4h0m0.2 2.4h0m0.5 0h0m1.2-0.7h0m0.1 0.4h0m0.6-0.9h0m0-1h0m1 0.3h0m0.4-0.8h0m1.7 2.6h0m8.5-1.8h0m0.8-0.2h0m0.9 0.7h0m1.6-0.2h0m0.4-1.3h0m1.1 2.6h0m1 0.1h0m0.9-1.6h0m2.3 0.6h0m-44.1 3.5h0m0.4-1.3h0m0.8 1.3h0m0-1.7h0m7.8 2.2h0m4.3-1.8h0m0.7 1.6h0m1.1-1.4h0m3.9-0.9h0m3.4 2.3h0m2.6-1.3h0m0.8 1.1h0m1 0.2h0m4.7-2.3h0m0 1.6h0m0.4-1.4h0m0.7 1h0m2.5-1.2h0m0.9 2h0m0.8-1.7h0m0.6 0.3h0m0.7 1.5h0m2 0.5h0m0.3-0.4h0m1.2-1.3h0m1.8 0.2h0m-43.5 2.5h0m0.5-0.2h0m0.8 0.5h0m0.2-0.9h0m1.4 1.1h0m0 1.5h0m1.6-1.1h0m0.6 0.7h0m0.9-1.4h0m1.6-0.3h0m2.9-0.2h0m4.2 2.3h0m0.8-2.1h0m2.2 2h0m0.5-1.2h0m2 1.3h0m0-2.2h0m0.7 0.5h0m1.3 0.8h0m0.5 0.4h0m0.3-0.1h0m0.1 0.6h0m1.3-2h0m0.7 1.5h0m0.7-1.9h0m4.6 0.6h0m2.8-0.9h0m4.3-0.1h0m0.3 1.3h0m2.2-0.3h0m3.2-0.8h0m0 2.1h0m-42.9 0.7h0m0.5 2.2h0m0.3-1.3h0m0.8 0.6h0m0.3 0.9h0m0.2-2h0m0.4 1.3h0m1.4 0h0m3.7-1.4h0m1.7 2.3h0m4.4-0.2h0m0.1-1.8h0m4.3 1.2h0m1.4-1.4h0m0.1 1.1h0m1.4 1h0m1.3-0.5h0m0.1 0.2h0m1 0.6h0m0.9-0.9h0m5.1 1h0m2.4-0.2h0m0.7-2.1h0m0.5 1.3h0m0.6-1.4h0m0.1 2h0m3.8-0.1h0m0.4-1.1h0m1 1.5h0m2.2-2.7h0m-41.3 4h0m2.1 1.6h0m0.2-1.9h0m0.4-0.3h0m0.2 1.1h0m0.3 0.6h0m16.6-2.1h0m0.7 1.4h0m1.8 0.7h0m2-0.6h0m2.2-1.4h0m0.1 1h0m1.5-1.1h0m1.6 2.1h0m0.4-0.8h0m1.3 0.8h0m2.9-1.1h0m4.1-0.3h0m1.9 2.1h0m0.1-1.2h0m-40.1 1.3h0m0.4 2.3h0m0.3-1.1h0m0.1 0.5h0m9.4-0.2h0m0.4 0.9h0m6.2 0.3h0m0.3-1.2h0m2.1-0.4h0m0.1-1.1h0m0.1 2.1h0m1.4-1.9h0m0.9 0.5h0m1.2 1.6h0m0.4-0.5h0m1.6-1.8h0m0 2.6h0m0.2-2h0m1.2-0.2h0m0.7 2.5h0m1.5-2.1h0m7.2-0.7h0m2.4 0.1h0m4.5 0.9h0m-43.2 3.3h0m0.4 1.3h0m1.3-1.4h0m0.6 1h0m0-2h0m1.9 1.5h0m1 1h0m1.3-2.7h0m3.8 0.9h0m6.7 1.9h0m1-1h0m1.9-0.5h0m1.5 0h0m1 1.4h0m0.8-1h0m0.2 0.5h0m1.5 0.5h0m1.3-1.2h0m4.4 0.4h0m0.3-1.4h0m1.1-0.6h0m2.5 0h0m0.9 1h0m0.7-0.9h0m0.2 1.8h0m0.4-1.7h0m0.4 0.8h0m1.3 0.9h0m5.3 0.3h0m1-1.9h0m-44.6 4.4h0m0.7 1h0m1.1-0.9h0m0.3-0.8h0m1.7 0.4h0m10.5 0.6h0m0.4-0.8h0m1.8 0.9h0m1.2-0.5h0m1.4-0.5h0m1.7 1.2h0m0.7-1.5h0m2.4 1.8h0m0.7-0.1h0m0.5-2h0m1.2 1.8h0m0.2-2.3h0m2.7 0h0m0.2 2.5h0m9.4-0.5h0m5.1-0.8h0m-43.9 3.9h0m0-0.7h0m2.2-0.3h0m0.1 1.5h0m0.9-2.2h0m4.3 0.9h0m2.5-0.7h0m1.4 0.5h0m3.6 0h0m0.3 1.4h0m5.6-1.9h0m0.4 1.5h0m0.4 0.5h0m1.1-2h0m1 0.1h0m0.9 1.4h0m0.2-1.8h0m7-0.1h0m1.6 1.9h0m2.7-2h0m-36.2 4.3h0m0.8 1.2h0m0.9-0.1h0m0.2-1.7h0m0.9 1.1h0m0.5-0.8h0m3.5-0.3h0m1.6 1.3h0m0.2 0.2h0m0.4-1.4h0m1.8-0.6h0m0.6 2.5h0m3.3-2.4h0m1.9 2.3h0m0.5-1.7h0m0.6-0.7h0m0.8 2.6h0m0.9-1.9h0m1.3 0.3h0m4.1 0.2h0m1 0.3h0m0.3-0.8h0m0.3 1.3h0m1.9-1.7h0m1.2 1.1h0m3.7 0.7h0m0.8-1.8h0m4.5 0.2h0m4.2 1.6h0m-42.4 1.3h0m0 1.6h0m1.2-0.9h0m0.7 0.9h0m3.2-1.3h0m9.8-0.2h0m3.4 0.9h0m2.8 0.8h0m0.3-0.4h0m0.2-0.7h0m2.2 0.8h0m0.2-0.9h0m0.9-0.1h0m1.1 1.3h0m0.7-2.5h0m0.9 1.7h0m0.8-1.6h0m4 2.2h0m2.5-1.1h0m0 0.3h0m3.6 1.3h0m0.7-1.5h0m3.6-1.1h0m1.1 0.2h0m-44.1 4.8h0m0-1.5h0m2.5 0.3h0m0.1 0.4h0m0.8 0.7h0m1.5 0.3h0m2.2 0.3h0m0.1 0.2h0m2.9-1h0m0.5-1.7h0m4 0.9h0m2.5 1.7h0m2.5-0.2h0m1.6-0.5h0m1.6-2h0m0 1.9h0m1.1 0.6h0m1-0.2h0m2.5-2h0m1.7 0.6h0m0.3 0.7h0m2.2-1.7h0m6.2 1.5h0m4.8 1h0m-42.5 1.5h0m0.6 1.3h0m0.9 0.4h0m0.1-0.6h0m0.4-1.1h0m0.8-0.3h0m0.4 0.8h0m3.4-0.4h0m3.5 1.2h0m1.2-1.2h0m5.8-1.1h0m1.5 2.7h0m0.8-2.5h0m3.1 0.1h0m0.3 2.3h0m0.1-0.9h0m1.6-0.7h0m0.7 0.6h0m0.6-1.3h0m0.1 2.1h0m9.7-0.2h0m2 0.2h0m-37.7 1.1h0m0 2.2h0m0-1.3h0m1.6 1.4h0m1-0.7h0m0.3-0.7h0m2.3 1.2h0m2.4-0.4h0m1.9-0.7h0m5.6-0.6h0m3.2-0.4h0m0.6 1.7h0m1.8-1.3h0m0.4 0.6h0m1.4-0.9h0m0.4 1.7h0m0.9-1.4h0m3.1-0.2h0m1.9 0.1h0m4.3-0.7h0m8.7 1.8h0m-41.1 2.4h0m0.6 0.2h0m0.5 1.2h0m1.9-0.5h0m0.7-0.7h0m13.4 0h0m0.2-0.7h0m0.8 0.6h0m1.7-1.2h0m0.2 2.5h0m0.1-0.9h0m1.8-1h0m1.1 0.6h0m0.3-1.3h0m0.5-0.1h0m0.6 2.7h0m0-0.5h0m2.7 0.6h0m1.6-1.8h0m0.6 0.9h0m0.9 0.7h0m1.3-2.6h0m5.1 0h0m2.4 2.7h0m0.7-1.6h0m1.7 0.9h0m-41.3 3.1h0m0.1-1.4h0m1.6 1.1h0m0 0.6h0m0.4-1.1h0m3.2 0h0m4.5 1.2h0m1-1.4h0m2.5 0h0m1.8-0.2h0m1.4-0.5h0m0.3 1.5h0m0.4 0.8h0m1-1.9h0m1.7 0.3h0m1.3-0.5h0m0.7 1.2h0m0.6-0.6h0m0.4-0.8h0m2 2.3h0m0.2-0.9h0m0.4-1.5h0m6.9-0.2h0m2.1 2.5h0m6.2-1.7h0m-41.6 4.7h0m0.1-2.3h0m0.6 1.9h0m0.7-0.1h0m9.3 0.4h0m3.9-1.6h0m2.6 0.2h0m0.6 1.2h0m1.1-1.8h0m0.1 1.4h0m1.2 0.4h0m0.2-2h0m0.3 0.6h0m10.7-0.8h0m0.7 1.9h0m0.4-1.7h0m9.3-0.1h0m-41.3 4.7h0m0.9-1.3h0m0.8 1.7h0m0.3-1h0m0.8 0.3h0m2.5-0.2h0m2.6 0.2h0m0.9 0.7h0m1.8-0.2h0m2.9-0.5h0m0.2-0.9h0m1.4 1.8h0m3.8-1.5h0m0.4-0.3h0m1.2 0.8h0m0.2 0.9h0m1-1.2h0m0.1 1.4h0m2.8-2.2h0m1.3-0.1h0m1.5 1.4h0m2.3-1.2h0m0.9-0.5h0m-31 3h0m0.3 1.3h0m0 1.6h0m1.4-0.2h0m0.1-1.5h0m1.7 0.7h0m3.4 0.8h0m0.3-1.9h0m0.3-0.8h0m7.2 0.9h0m0.9 1.9h0m2.3-0.7h0m1.3 0.3h0m1.5 0h0m0.6-0.8h0m0.3-0.1h0m2.7-0.3h0m0.3 1.6h0m0.5-0.7h0m1.3 0.2h0m0.5-0.2h0m0.3-1.5h0m0.3-0.5h0m1.7 2.2h0m9.2-0.3h0m4.1-0.4h0m-41.4 4.3h0m0.1-2.3h0m0.6 2.2h0m0.6-0.9h0m0.8-1h0m1.4 1.3h0m0.8-0.5h0m10.6 0.9h0m0.9-1.3h0m0.5 0h0m1.8 0.3h0m1.5 0.9h0m0.6-0.8h0m0.5-0.8h0m0.1-0.6h0m0.1 2h0m2.1-1.9h0m0.5 2.2h0m0.5-2h0m1.4 1.2h0m0.8-0.3h0m3-1.2h0m3.7 0.6h0m2.1 0.2h0m5.2 0.4h0m-41.4 3.7h0m1.3-1.4h0m0.2 2h0m0.9-2.1h0m1.2 0.6h0m3.1-1.3h0m0.1 0.7h0m1.7 1h0m1.2-1.1h0m10.3 1.4h0m1.1 0.8h0m2.6-0.7h0m0-1.5h0m0.4-0.2h0m1 2h0m2-2.2h0m0.4 0.5h0m5 1.9h0m-31.3 1.4h0m1.5 0.2h0m0.6-0.6h0m3.8-0.5h0m0.4 0.3h0m6.9 1.8h0m5.1 0.1h0m0.5-0.6h0m1.5 1.2h0m0.4-0.8h0m0.6-1.5h0m1.1 1.4h0m2.1 0.9h0m0.4-3h0m0.4 0.9h0m1.8 1.8h0m0.4-0.8h0m3.4-0.9h0m0.6 1.3h0m1-0.9h0m1-0.7h0m2.4 2.2h0m1.9-0.6h0m2.3-1.1h0m-40.7 3.6h0m0-1.1h0m0.5-0.6h0m1.1 2.3h0m0.3-1h0m0.2-1.2h0m0.1 1.7h0m0-1.6h0m2.5 1.7h0m6.9-1.5h0m6.2-0.2h0m2.4 0.7h0m0.1 1.6h0m1.1-1.5h0m1.9 1h0m0.4-0.9h0m1.4 0.3h0m3.1 0.4h0m8.9-0.7h0m3.2 0.9h0m2.2 0.7h0m-42.8 3h0m0.5-2.3h0m1.4 1.4h0m0.1-0.4h0m6-1h0m5.7 1.5h0m0.3-1.4h0m0.3 0.5h0m0.3 1.2h0m1.9-0.7h0m2.1-1h0m1.1-0.5h0m0.6 0.3h0m0.7 2.3h0m0.3-2.5h0m0.8 0.7h0m0.3 2h0m1.5-2.5h0m0.2 1.9h0m0.9-0.8h0m0.1 0.4h0m1.6 0.9h0m2.1-2.2h0m9.6 0.9h0m2 0.3h0m0.7-0.5h0m-41.5 3.4h0m1.3-0.4h0m1.1 0h0m0 1.3h0m1.1-0.8h0m12.1-1.4h0m3 1.4h0m0.2-1.7h0m1.4 1.1h0m0.2 0.9h0m0.2-0.9h0m2.7-1h0m0.1 2.5h0m1.8-2.4h0m1.2 2.5h0m0.9-1.3h0m5.4 1.3h0m3.2 0.1h0m0.5-2.2h0m3.2-0.6h0m0.1 2.9h0m-38.9 1.7h0m0-0.6h0m1.7 1.3h0m0.1-1.8h0m0.8 0.1h0m3.9 0.5h0m1.2 1.7h0m1.4-0.8h0m1.5 0.1h0m4.1-1.1h0m3.9-1.1h0m1.3 1.7h0m1.4 0.1h0m0.3-1.8h0m0.4 1.3h0m1.5-1.1h0m1.5 1.7h0m0.8-1.3h0m1.4-0.2h0m5.2-0.3h0m0.1 1.7h0m0.4-0.2h0m3.8-1.1h0m1.2 2.2h0m5.6-0.1h0m-43.7 0.5h0m0.3 2.3h0m0.9-0.6h0m0.9-0.5h0m0.5 1h0m1.1-1.8h0m1.8 2h0m13.8 0.5h0m0-0.5h0m0.2-2.3h0m1 0.1h0m0.1 1.5h0m0.6 1h0m3.5-2.4h0m0.5 1.3h0m4-1.1h0m1.9 0.3h0m1.3 1.4h0m6.1-1.1h0m0.6 0.6h0m-39.3 3.1h0m0.1-1.1h0m1-0.3h0m0.5 1.7h0m1.4-1.5h0m5.8 0.4h0m7.8-0.5h0m4.5 0.7h0m0.6 0.7h0m2.1-0.1h0m0.6 0.8h0m0.3-2.1h0m3.3 2.2h0m3.5 0h0m1.1-2.1h0m10.5 2h0m-43.1 2.6h0m0.7 0.5h0m0-2h0m1.1-0.1h0m0.2 1h0m0 1.3h0m0.7-1.5h0m0.1 1.2h0m11.1 0.1h0m4.7-1.1h0m0.1-1.4h0m1.4-0.3h0m0.2 1.5h0m1.4 1.3h0m0.6-0.4h0m1.7-1.4h0m1.6 1.2h0m0-1.7h0m1.9 1.7h0m1.4-0.8h0m2-0.5h0m4.1-0.3h0m2.5-0.4h0m1.8 0.1h0m2.1-0.3h0m1.1 1.9h0m0.7-1.2h0m1.1 1.1h0m-44.5 3h0m0.4 1.2h0m1.2-1.1h0m0.3 1h0m1.3-1h0m4.9-1.3h0m3.3 2.3h0m2.9-0.8h0m2.2-0.6h0m2.5-1.4h0m1.3 1h0m0.5 1.3h0m1.2 0.1h0m0.3 0.2h0m0.9-2.6h0m0.3 2.3h0m1.4-0.1h0m0.7-1.6h0m5.7 0.6h0m0.7 0.9h0m2.8-1.5h0m8.5 1.8h0m-43.2 2.4h0m0.2 0.9h0m2.1 0.1h0m0.2-1.4h0m0.6 0.9h0m2.7-2.3h0m9.1 0.9h0m0.7 0.4h0m0.2 0.8h0m2.8-0.7h0m2 1.3h0m1.9-0.1h0m1-1.9h0m0 1.4h0m1.8-1.2h0m0.2-0.4h0m5.9 2.3h0m8.3-2.7h0m1.6 0.6h0m-41.1 4.5h0m0.9 0.5h0m0.1-0.6h0m5.2 0.7h0m5.9-1.5h0m5.8-1.1h0m0.5-0.2h0m1.2 2.1h0m0.8-0.4h0m1.3 0h0m1-1.1h0m1.8-0.4h0m1.5 0.2h0m0.1 1.6h0m2-1.5h0m-28.2 2.9h0m0.5 1.2h0m0.6 0.5h0m0.5 0.7h0m1.1 0.1h0m0.9-1.8h0m4.8-0.4h0m0.2-0.4h0m2 1.3h0m2.2 0.3h0m3 0.3h0m3.5-0.6h0m1.7-0.4h0m0 1.4h0m0.5-1.4h0m2.6-0.3h0m0 2h0m1.3-2.1h0m0.7-0.8h0m0.5 2h0m0 0.2h0m3.6-2h0m2.7 1.8h0m2.2 0.2h0m1.3-0.7h0m2.8 0.7h0m2.2 0.3h0m0.2-2.1h0m0.7 2.4h0m0.2-2.4h0m0 0.5h0m0.6 1.5h0m1.3-1.8h0m-44.1 4.2h0m0-1.7h0m0.2 2.1h0m1.2-0.7h0m1.3 0.3h0m11.6 0.6h0m0.8-1.1h0m2.1 0.5h0m2.3 0h0m0.9 0.4h0m0.8-2.1h0m3 0.2h0m2.7 1.5h0m2.8-0.7h0m10.5 1.5h0m0.5-0.6h0m2.1-0.1h0m-42.9 1.8h0m1.8 0.3h0m0.4 1h0m0-1.9h0m7.5 2.2h0m6.7-1.9h0m0.4 1.4h0m2.6-0.5h0m0.5 1.6h0m0.9-2h0m0.9 1.9h0m2.4-1.6h0m1 1.4h0m9.8-1.3h0m4.6-0.1h0m0.7-0.1h0m3.6 0.3h0m0.1-1.3h0m0.1 2.2h0m-44 0.8h0m0.1 1.2h0m0.9 0.5h0m1.7-1.3h0m14.9 0.9h0m1.3 0.8h0m0.7-0.7h0m0.7-0.4h0m0.4 1.7h0m0.5-1.4h0m0.4 1h0m2.1-1.7h0m2.1 1.9h0m0.4-2.2h0m5.3 0.1h0m1.6-0.4h0m6.7 0.5h0m-39.7 2.3h0m0 1.6h0m0.8-1.5h0m0.4 1.2h0m0.9 1.6h0m6.1-1.3h0m8.2-0.1h0m1.3 0.9h0m0.9-1.2h0m0.9 1.3h0m3.5-0.5h0m2-1.5h0m0.8 0.2h0m3.8 0.4h0m2 0h0m4.3 1.2h0m0.4-0.5h0m-36 1.9h0m0 1.3h0m0.4-1.7h0m1.2 2.6h0m0-1.7h0m1.2-1.1h0m0.4 0.9h0m10.8 1.3h0m0.4-1h0m5.9-0.9h0m1.3 0.3h0m11 0.4h0m1.2-0.2h0m0.2 2.1h0m3.1-1.9h0m-37.9 3.7h0m0.5-1.2h0m0.8 0.4h0m0.5 1.9h0m2.1-1.4h0m11.4 0.1h0m7.4-1.4h0m0.6 0.7h0m2.9-0.2h0m13.4 1.1h0m-39.5 4.1h0m0.5-2.3h0m0.9 2h0m0.4-1.9h0m1 0h0m0.3 1.8h0m6.6 0.3h0m3.2-0.2h0m9.4-2.6h0m8.6 1.2h0m7.1 0.5h0m2.8-1.4h0m2.1 2.6h0m-42.5 2h0m0 1.1h0m0.1-2.5h0m1.5 0.8h0m0 1.6h0m0.7-2h0m0.6 1.5h0m0.7-2.2h0m11.6 1.3h0m0.1-0.7h0m1.9 1.9h0m2-1.4h0m0.4-0.5h0m5.6-0.6h0m2.3 2.7h0m3-0.1h0m2.7-0.8h0m0.5-0.6h0m2.5-1.2h0m-36.7 5.1h0m2.2-0.4h0m0.1-0.9h0m0.8 1.1h0m3.8-1.3h0m7.7 0.3h0m7.1-0.2h0m6.7 2h0m1.2-0.1h0m2.9-1.3h0m2.4-0.9h0m5.4 1h0m1.5-0.3h0m0.1 1.5h0m-41.2 1.9h0m0.4-1.4h0m0.2 1.4h0m1-1.5h0m2.8 2.6h0m8.2-2.1h0m1.2-0.6h0m1.1 2.6h0m2.8-2.6h0m11.2 2.6h0m1-1.1h0m4.1 0.9h0m1.5-1.7h0m0.2 0.7h0m5.2-0.4h0m1.1 0h0m0.8 1.5h0m-43.2 0.5h0m0.2 1.8h0m0.2 0.7h0m0.6-0.1h0m0.9-2.4h0m1.5 0.3h0m10.8 1.7h0m12.4 0.7h0m3.1-2.7h0m2.6 0.3h0m2.2 2.1h0m5.2-1.5h0m1.4 0.9h0m3-1.3h0m-43.4 4.4h0m0.7-0.3h0m0.1-0.7h0m0.6 1.7h0m4.2-1.9h0m9.7 1.9h0m1.4-1.2h0m5.1 1.4h0m12.1-2.9h0m-34.5 3.9h0m0.6 0.8h0m1.5 0.2h0m2.7-1.8h0m8.5 2.7h0m0.7-0.1h0m1.4 0.3h0m5.1-1.3h0m0.4 1.2h0m0.6-0.9h0m2-1.3h0m0.4 1.4h0m3.8 0.8h0m0.9-2.3h0m0.5 1.7h0m1-1h0m1.2-0.8h0m7.9-0.3h0m4.9 2h0m-44.6 2.8h0m0.1 0.8h0m0-2.6h0m1.3 1.2h0m0.3-1.1h0m18.2 0.5h0m0.9 1.7h0m0.4-0.3h0m1.8-1.7h0m1.3-0.4h0m0.6 0.3h0m2 1h0m2.7-1.1h0m2.2 1h0m8-1.1h0m2 0.8h0m1.5-0.2h0m-42.9 3.3h0m1-0.9h0m0.1 2.4h0m0.2-1.4h0m3 0.1h0m8.7-1.2h0m5.1 2.7h0m0.5-1.5h0m0.8 1.5h0m0.5-1.3h0m2.2-1.2h0m0.1 1.5h0m0.8 0.5h0m2.6 0.1h0m1.5-0.7h0m1.6-0.5h0m1-0.8h0m7.8 1.8h0m-37.8 2.9h0m0.1-1.6h0m1.7 0.3h0m1.5 1.4h0m9.7 0.6h0m3.1-1.1h0m7.1-1h0m2 1h0m2.4-1.4h0m0.3 2.3h0m1.2-0.8h0m5.4-0.7h0m0.3-1h0m5.8 0.3h0m-39.9 2.7h0m0.1 1.7h0m1.3-1.5h0m0.1 1.9h0m0.1-1.6h0m8 2.3h0m0.2-2.9h0m2.6 2h0m3.9-0.3h0m0.7 0.1h0m0.9-1.2h0m0.1 2.3h0m2.2-2.3h0m1.6 1.1h0m7.4-1.6h0m1.3 0.6h0m0.7 1.4h0m2.4-0.8h0m6 0.2h0m1.2-0.8h0m-41.7 2.5h0m1 1.5h0m0.3 0.8h0m1.1-0.6h0m1-1.6h0m12.1 2.2h0m2.2-1.3h0m3.8-1h0m11.8 0.5h0m0.9-0.2h0m0.9 1.3h0m0.7-1.6h0m1.9 1.7h0m-36.9 3.1h0m0.4-1.3h0m0.2-0.5h0m10.3 0.6h0m2.3 0h0m3.1-0.2h0m9.7 0h0m9.2-0.3h0m-35.8 3h0m0.2 1.7h0m1 0.3h0m7.6 0.4h0m-8.8 1.3h0m1 0.7h0m-0.7 3.1h0m0.5-1.3h0m-1 2.8h0m0.5 1.7h0" stroke="#0000f0" stroke-width="2.4" stroke-linecap="round" fill="none"/>
<path d="M455 649.4h0m0.2-1.1h0m0.8-0.3h0m0.1 1.5h0m-2.7 2.8h0m6.6-0.3h0m6.2-1.7h0m22.7 1.6h0m-33.8 3.4h0m23.2 0.2h0m1.1-1.1h0m-26.8 3.3h0m2.9-1.4h0m2.9 0.5h0m0.3-1.1h0m1.2 1.3h0m1.7-1h0m1.4 0.6h0m1.5-0.2h0m-14.2 3.5h0m2.4 1h0m0.8-0.4h0m0.1-0.7h0m1-1.1h0m4.2 1.6h0m4.5 0.5h0m0-1.4h0m0.8-0.7h0m0.5 1.4h0m2.5 1.1h0m2.9-2.7h0m-14.7 5.5h0m1.9-0.5h0m1.7-1.7h0m2.1 1.6h0m2-0.6h0m2.7 1.5h0m1.2-0.4h0m3-2.3h0m1.4 1.1h0m1-0.9h0m4.5 1.7h0m1.1 0.3h0m1.8-2.1h0m1.7 1.2h0m3.7 0.2h0m-35.1 3.1h0m2-0.5h0m2.7 0.9h0m0.1-1.8h0m1.9 2.4h0m1.9-1.9h0m1.2 1.9h0m1.3 0.1h0m0.3-2.6h0m3.2 0.2h0m3.9 1.9h0m0.3-1.3h0m2.9-0.7h0m0.1 0.1h0m0.1 2.3h0m5.1-0.3h0m2.7 0.5h0m-29.6 0.1h0m4.7 3h0m0.4-2h0m1.9 0h0m1 1.8h0m0.3-2.5h0m1.1 0.2h0m2.3 2.2h0m1.7-1.5h0m1.4 0.6h0m2.3 0.2h0m3.9 0h0m4 0.8h0m0.9-2.2h0m0.4 1.4h0m3.2-1.8h0m-29.4 4.7h0m1.7 0h0m3 0.2h0m1.4-0.1h0m0.3-1h0m0.8-0.5h0m0.8 1h0m1.5-0.9h0m1.1 1.3h0m1-1.1h0m0.3 1.1h0m1.6-0.8h0m0.4 1.5h0m2.3-0.7h0m1.6 1.1h0m0.3-3h0m0 2.7h0m3.2-1.8h0m2.5-0.2h0m1.4 1.8h0m9.8-0.2h0m-35.1 1h0m0.3 1.7h0m3.8 0.4h0m0.4 0.4h0m0.6-0.5h0m0.5-2h0m0.4 2.7h0m0.2-2.3h0m1.6 1h0m0.8-0.8h0m0 1.9h0m0.9-2.3h0m0.6 0.4h0m0.9 1.2h0m2.6-0.2h0m0.2 1h0m0.9-2.8h0m0 1.7h0m2.5 0.1h0m0.7 0.8h0m0.9-1.2h0m1.1-1h0m0 2.4h0m0.8-2h0m0.8 1.5h0m0.3-2.1h0m1.3 2.7h0m2.1-0.1h0m2-1.1h0m0.7-0.4h0m1.9 0.6h0m2.9-0.1h0m0.5-1.5h0m0.5 0.1h0m0.7 1.4h0m-30.9 1.4h0m0.4 2h0m2.8 0.1h0m0.8-1.5h0m2.8 1.5h0m0.7-1.8h0m0.6 0.3h0m2.5 0.6h0m0 1.3h0m0.4-1.8h0m2.4-0.5h0m0.3 1.9h0m0.8-1.2h0m0.4 1.5h0m0.4 0.1h0m0.1-0.4h0m2.2-1.2h0m0.6 1.3h0m5.1-1.2h0m0.1-0.8h0m2.3 1.6h0m1.1-1.7h0m0.3-0.3h0m6.7 2.7h0m-37 0.2h0m1.8 1.5h0m1 0.9h0m2.5-2.1h0m0.6 2.1h0m3.2-0.5h0m0.6 0.7h0m0.3 0.2h0m1-2.2h0m0 1.9h0m2.9-0.5h0m0.8-1.9h0m0.6 2.1h0m0.4-1.5h0m0.9 1.5h0m3.8 0.4h0m0.7-1.6h0m1 1.4h0m1.4-1.8h0m0.6 0.9h0m0.4 0.6h0m1.7-0.7h0m5.8 0.7h0m5.4-0.4h0m-35.4 3.6h0m0.5-1.9h0m1 0.2h0m1.1 0h0m1.5 1.4h0m1.9-1.6h0m3.4 2.6h0m0.5-1.3h0m0.4-1h0m1.1-0.4h0m1.4-0.3h0m0.1 1.2h0m1.8 0.8h0m0.8-0.7h0m0.1 1.5h0m1.4-0.7h0m2.3-0.5h0m0.1 1.4h0m2.5-0.9h0m6.9-1.5h0m-31 5.2h0m0.8-1.3h0m0.8 0.1h0m2.4 0.4h0m1.6 0.7h0m4.4-1.9h0m0.3 2h0m0.2-1.9h0m3.4 0.3h0m0.7-0.9h0m1.1 1.4h0m1.5-0.1h0m0-0.8h0m0.5 1.4h0m0.4 0.3h0m0.9-0.3h0m0.2 0.5h0m1.9-2.1h0m2.2 1.7h0m0-1.7h0m0.5 2.4h0m0.8-2.8h0m1.2 2h0m0.7 0.5h0m1.3-0.5h0m-24.7 3.2h0m1.9-1.6h0m0.5-0.4h0m4.4 0.8h0m2 0h0m1.3 1.4h0m4-0.6h0m0.4 0.4h0m2.1-1.1h0m9.3 1h0m0.8-1.2h0m3-0.3h0m-29 4h0m5.7-1.3h0m1.9 1h0m1.2-1.4h0m1.6 1.8h0m0.4-1.7h0m1.1 1.4h0m5.1 1.2h0m1.8-2.7h0m-21.2 3.7h0m2.7 0.1h0m7 0.9h0m3 0.8h0m0.1-2.4h0m1 2.2h0m2.1-0.7h0m1.4-0.1h0m1.7-0.2h0m1 0.9h0m7.4 0.6h0m-25.8 0.9h0m1.4 0.8h0m2.9-1.1h0m7.8 0.8h0m2.1-0.3h0m4.6 0.3h0m2.3 1.4h0m0.3-1.4h0m-21.6 4.3h0m12.5-2.5h0m1.8 2.2h0m-16.9 3.2h0m5.2-2.3h0m0.7 2.4h0m1.7-2h0m3.2 0.8h0m11.6-0.2h0m1 1.2h0m6.3-1.6h0m1.2-0.7h0m5.5 2.3h0m3 0.6h0m2.2-1.7h0m-33.6 2.1h0m0.2 2.1h0m10-1.5h0m2.4 1.4h0m5.9-0.5h0m4.1-1.6h0m12.6 1.1h0m-29.5 3h0m11.5 0.6h0m6.1-1.7h0m7.3 0h0m-6.6 4.7h0m9.8-1.2h0m-27.3 4.5h0m12.7 0.2h0m13.8-1.6h0m2.7 1.7h0m-32.6 3.1h0m7.3-1.2h0m11.4 0.3h0m-28.2 1.8h0m0.8 0.9h0m1.9-1h0m2 0.4h0m29.3 1.6h0m-26.2 1.8h0m0.8-1.3h0m5.8 0.2h0m8.8 2.8h0m1.3-0.2h0m13.6-2.6h0m4 1.9h0m-34.4 2.2h0m0.9 0.7h0m0.9 0.8h0m0.4-2.7h0m1.6 0.4h0m3.1 0h0m2 0.9h0m16.3 1.1h0m-29.9 2.6h0m28.5-1.8h0m7.6 1.8h0m3.5-0.9h0m-38 4.2h0m0.9-0.3h0m3.5-0.8h0m0.4 0.9h0m9.1-1.4h0m16.9 1.7h0m-33.3 1.1h0m4.2 0.8h0m5.4-1.1h0m0 2.5h0m7.3-0.2h0m-20 2.9h0m2.4-1.2h0m10.2 0.7h0m0.9-0.8h0m1 1.1h0m12.3-1.8h0m-23.8 5.4h0m12.7-0.3h0m3.9-0.9h0m13.4 0.7h0m4.9-2.3h0m-27.6 3.5h0m12.5-0.6h0m3.9 1.3h0m-9.8 3.7h0m1.1-1.1h0m3.5 0.5h0m6.8 0.9h0m15.7-1.3h0m-42.7 3.6h0m14.2 1.3h0m1.6-0.4h0m11.4-1.2h0m-25.4 7.7h0m3.9-0.7h0m14.5-0.6h0m-17.6 1.8h0m20.2 2h0m-0.9 2.9h0m1.7-2.3h0m9.6 0.3h0m0.6 2.4h0m3-0.8h0m-13.6 1.8h0m7.5 2h0m3.1-0.4h0m-26.5 1.6h0m3.4 1.3h0m14.6 0.6h0m9.3 1.2h0m5.2-0.1h0m-30.7 3.3h0m7-0.5h0m9.4-0.5h0m3.5 1.9h0m12.3-1h0m-38.6 1.9h0m34.3 2.1h0m-20.8 1h0m5.4 0.9h0" stroke="#92ffff" stroke-width="2.4" stroke-linecap="round" fill="none"/>
<path d="M502.9 726.3h0m2.7 1.2h0m2-0.1h0m1-0.3h0m-12.7 1.9h0m8.5-0.4h0m2.4 1.5h0m-8.8 2h0m11.5 2.9h0m1.9 1.2h0m6-2.3h0m0.7 0.9h0m2 0.9h0m8.5-0.1h0m-22.6 2.3h0m2-1.1h0m1.6 1h0m0.1-0.5h0m0.8 0.4h0m1.4 1.4h0m5 0.2h0m-16.6 2.8h0m12.3-1.6h0m1.6-0.7h0m1.2 1.8h0m3.5-0.2h0m-17.2 1.9h0m1.6 1.8h0m1.5 0.2h0m7.2-0.6h0m7.4-1.2h0m0.9 0h0m-20.2 4.9h0m4.1-0.2h0m24.6-1.6h0m-30.9 2h0m2.2 1.9h0m3.3-0.2h0m1.4 0.2h0m5.7 0.1h0m7.2 0.6h0m9.5-0.6h0m-30.5 2h0m0.5 1.5h0m2.2-0.5h0m6.1-1.3h0m2.6 0.7h0m1.3 0.1h0m1.7-0.4h0m3.5 1.6h0m0.2-1.7h0m2 1.4h0m0.1-1h0m7.3 1.2h0m0.8-2.2h0m1-0.5h0m0.4 1.1h0m4.3 0.6h0m0.9 1.2h0m-35.5 3h0m9.2-2.7h0m0.8 1.1h0m0.8 1.5h0m3.2 0h0m0.7-1.5h0m0.2-1.3h0m6.1 1h0m1.7 0.2h0m2.3-0.8h0m3.9 2.1h0m0.2-1.1h0m1.9-0.7h0m0.2 0.7h0m3.2-1.4h0m0.6 1.3h0m-34.2 4.2h0m1.4-0.4h0m5.8-0.1h0m2.1 0.5h0m1-1.6h0m0.3 1.3h0m7.1-0.2h0m1.5-1.2h0m0.5 1.1h0m5.1 0.6h0m0.2-2.4h0m0.4 0.4h0m4.7 2.1h0m-30.6 1.4h0m2.1 0.6h0m0.5 1.4h0m2.2-0.8h0m5.4-1.1h0m0.5-0.4h0m11.6 0.2h0m8.4 1.5h0m0.8-1.9h0m0.9 0.5h0m1.5 0.6h0m7.4-1.2h0m-38.8 4.9h0m2.5-1.3h0m7.9 1.8h0m1-0.7h0m2.8-1.4h0m0.3 1.3h0m1.1 0.9h0m7.2-2.3h0m2.2 1.8h0m3.1-2.2h0m-30.9 5.7h0m2.1-2.8h0m3 1.1h0m2.2 0.4h0m1.1-0.9h0m5.2-0.4h0m1.3-0.2h0m0.6 1.4h0m3.8 0.8h0m1.5-0.4h0m-15.2 1.7h0m0.4 0.9h0m0.1 1.3h0m0.9-0.5h0m1.8-1.4h0m0.5 0.9h0m2.9-1.5h0m3.5 0.2h0m0.9 1.1h0m1.5 0.8h0m25.1-2h0m-37.7 3.9h0m5.5 0.5h0m3.7 0h0m2.1-0.4h0m1.3-0.8h0m9 0.8h0m14 1.1h0m-38.9 3.2h0m5.6-2.6h0m26.8 0.5h0m-34.1 4.4h0m1.4-1.2h0m0.8 1.6h0" stroke="#70c43e" stroke-width="2.4" stroke-linecap="round" fill="none"/>
<path d="M546.8 746.8h0m18 9.8h0m9.6-1.6h0m-14.7 3.7h0m19.4 1.4h0m-38.2 2.7h0m22.5-1.1h0m-21.7 2.5h0m5.7 1.6h0m28.2-1.4h0m-33.3 2.5h0m4.1 0h0m9.2 1.4h0m-14.9 2.6h0m2.7 3.5h0m5.5 0.2h0" stroke="#dd0000" stroke-width="2.4" stroke-linecap="round" fill="none"/>
<polygon points="459.7,643.1 465.9,653.1 453.5,653.1" fill="#f2b266" stroke="#1a1a1a" stroke-width="1.1" stroke-linejoin="miter"/><circle cx="459.7" cy="649.8" r="0.45" fill="#8a5a20"/><polygon points="533.3,775.3 539.5,765.7 527.1,765.7" fill="#f2b266" stroke="#1a1a1a" stroke-width="1.1" stroke-linejoin="miter"/><circle cx="533.3" cy="768.9" r="0.45" fill="#8a5a20"/><polygon points="585.1,756.3 591,762.2 585.1,768.1 579.2,762.2" fill="#f2b266" stroke="#1a1a1a" stroke-width="1.1" stroke-linejoin="miter"/><circle cx="585.1" cy="762.2" r="0.45" fill="#8a5a20"/>
<path d="M49.5 240.4v4.3M49.5 5.4v-4.3M58.5 240.4v2.1M58.5 5.4v-2.1M67.6 240.4v2.1M67.6 5.4v-2.1M76.6 240.4v2.1M76.6 5.4v-2.1M85.7 240.4v2.1M85.7 5.4v-2.1M94.7 240.4v4.3M94.7 5.4v-4.3M103.7 240.4v2.1M103.7 5.4v-2.1M112.8 240.4v2.1M112.8 5.4v-2.1M121.8 240.4v2.1M121.8 5.4v-2.1M130.9 240.4v2.1M130.9 5.4v-2.1M139.9 240.4v4.3M139.9 5.4v-4.3M148.9 240.4v2.1M148.9 5.4v-2.1M158 240.4v2.1M158 5.4v-2.1M167 240.4v2.1M167 5.4v-2.1M176.1 240.4v2.1M176.1 5.4v-2.1M185.1 240.4v4.3M185.1 5.4v-4.3M194.1 240.4v2.1M194.1 5.4v-2.1M203.2 240.4v2.1M203.2 5.4v-2.1M212.2 240.4v2.1M212.2 5.4v-2.1M221.3 240.4v2.1M221.3 5.4v-2.1M230.3 240.4v4.3M230.3 5.4v-4.3M239.3 240.4v2.1M239.3 5.4v-2.1M248.4 240.4v2.1M248.4 5.4v-2.1M257.4 240.4v2.1M257.4 5.4v-2.1M266.5 240.4v2.1M266.5 5.4v-2.1M275.5 240.4v4.3M275.5 5.4v-4.3M284.5 240.4v2.1M284.5 5.4v-2.1M293.6 240.4v2.1M293.6 5.4v-2.1M302.6 240.4v2.1M302.6 5.4v-2.1M311.7 240.4v2.1M311.7 5.4v-2.1M320.7 240.4v4.3M320.7 5.4v-4.3M49.5 240.4h-4.9M320.7 240.4h4.9M49.5 236.5h-2.4M320.7 236.5h2.4M49.5 232.6h-2.4M320.7 232.6h2.4M49.5 228.7h-2.4M320.7 228.7h2.4M49.5 224.7h-2.4M320.7 224.7h2.4M49.5 220.8h-2.4M320.7 220.8h2.4M49.5 216.9h-2.4M320.7 216.9h2.4M49.5 213h-2.4M320.7 213h2.4M49.5 209.1h-2.4M320.7 209.1h2.4M49.5 205.2h-2.4M320.7 205.2h2.4M49.5 201.2h-4.9M320.7 201.2h4.9M49.5 197.3h-2.4M320.7 197.3h2.4M49.5 193.4h-2.4M320.7 193.4h2.4M49.5 189.5h-2.4M320.7 189.5h2.4M49.5 185.6h-2.4M320.7 185.6h2.4M49.5 181.7h-2.4M320.7 181.7h2.4M49.5 177.7h-2.4M320.7 177.7h2.4M49.5 173.8h-2.4M320.7 173.8h2.4M49.5 169.9h-2.4M320.7 169.9h2.4M49.5 166h-2.4M320.7 166h2.4M49.5 162.1h-4.9M320.7 162.1h4.9M49.5 158.2h-2.4M320.7 158.2h2.4M49.5 154.2h-2.4M320.7 154.2h2.4M49.5 150.3h-2.4M320.7 150.3h2.4M49.5 146.4h-2.4M320.7 146.4h2.4M49.5 142.5h-2.4M320.7 142.5h2.4M49.5 138.6h-2.4M320.7 138.6h2.4M49.5 134.7h-2.4M320.7 134.7h2.4M49.5 130.7h-2.4M320.7 130.7h2.4M49.5 126.8h-2.4M320.7 126.8h2.4M49.5 122.9h-4.9M320.7 122.9h4.9M49.5 119h-2.4M320.7 119h2.4M49.5 115.1h-2.4M320.7 115.1h2.4M49.5 111.2h-2.4M320.7 111.2h2.4M49.5 107.2h-2.4M320.7 107.2h2.4M49.5 103.3h-2.4M320.7 103.3h2.4M49.5 99.4h-2.4M320.7 99.4h2.4M49.5 95.5h-2.4M320.7 95.5h2.4M49.5 91.6h-2.4M320.7 91.6h2.4M49.5 87.7h-2.4M320.7 87.7h2.4M49.5 83.7h-4.9M320.7 83.7h4.9M49.5 79.8h-2.4M320.7 79.8h2.4M49.5 75.9h-2.4M320.7 75.9h2.4M49.5 72h-2.4M320.7 72h2.4M49.5 68.1h-2.4M320.7 68.1h2.4M49.5 64.2h-2.4M320.7 64.2h2.4M49.5 60.2h-2.4M320.7 60.2h2.4M49.5 56.3h-2.4M320.7 56.3h2.4M49.5 52.4h-2.4M320.7 52.4h2.4M49.5 48.5h-2.4M320.7 48.5h2.4M49.5 44.6h-4.9M320.7 44.6h4.9M49.5 40.7h-2.4M320.7 40.7h2.4M49.5 36.7h-2.4M320.7 36.7h2.4M49.5 32.8h-2.4M320.7 32.8h2.4M49.5 28.9h-2.4M320.7 28.9h2.4M49.5 25h-2.4M320.7 25h2.4M49.5 21.1h-2.4M320.7 21.1h2.4M49.5 17.2h-2.4M320.7 17.2h2.4M49.5 13.2h-2.4M320.7 13.2h2.4M49.5 9.3h-2.4M320.7 9.3h2.4M49.5 5.4h-4.9M320.7 5.4h4.9" stroke="#444" stroke-width="0.6" fill="none"/>
<rect x="49.5" y="5.4" width="271.2" height="235" fill="none" stroke="#444" stroke-width="0.9"/>
<text x="51.1" y="257.5" text-anchor="middle">0</text>
<text x="96.3" y="257.5" text-anchor="middle">5</text>
<text x="141.5" y="257.5" text-anchor="middle">10</text>
<text x="186.7" y="257.5" text-anchor="middle">15</text>
<text x="231.9" y="257.5" text-anchor="middle">20</text>
<text x="277.1" y="257.5" text-anchor="middle">25</text>
<text x="322.3" y="257.5" text-anchor="middle">30</text>
<text x="41.7" y="244.8" text-anchor="end">-10</text>
<text x="41.7" y="205.7" text-anchor="end">-5</text>
<text x="41.7" y="166.5" text-anchor="end">0</text>
<text x="41.7" y="127.4" text-anchor="end">5</text>
<text x="41.7" y="88.2" text-anchor="end">10</text>
<text x="41.7" y="49" text-anchor="end">15</text>
<text x="41.7" y="9.9" text-anchor="end">20</text>
<text x="185.1" y="275.7" text-anchor="middle"><tspan font-size="12.8">Δa</tspan><tspan dy="3.9" font-size="10.5">μ</tspan><tspan dy="-3.9" font-size="12.8"> [10</tspan><tspan dy="-4.6" font-size="10.8">-10</tspan><tspan dy="4.6" font-size="12.8">]</tspan></text>
<text transform="translate(9.7 122.9) rotate(-90)" text-anchor="middle">A<tspan dy="4.5" font-size="10">0</tspan><tspan dy="-4.5">/m</tspan><tspan dy="4.5" font-size="10">0</tspan></text>
<path d="M404.5 240.4v4.3M404.5 5.4v-4.3M413.6 240.4v2.1M413.6 5.4v-2.1M422.6 240.4v2.1M422.6 5.4v-2.1M431.7 240.4v2.1M431.7 5.4v-2.1M440.8 240.4v2.1M440.8 5.4v-2.1M449.8 240.4v4.3M449.8 5.4v-4.3M458.9 240.4v2.1M458.9 5.4v-2.1M468 240.4v2.1M468 5.4v-2.1M477 240.4v2.1M477 5.4v-2.1M486.1 240.4v2.1M486.1 5.4v-2.1M495.2 240.4v4.3M495.2 5.4v-4.3M504.2 240.4v2.1M504.2 5.4v-2.1M513.3 240.4v2.1M513.3 5.4v-2.1M522.4 240.4v2.1M522.4 5.4v-2.1M531.4 240.4v2.1M531.4 5.4v-2.1M540.5 240.4v4.3M540.5 5.4v-4.3M549.6 240.4v2.1M549.6 5.4v-2.1M558.6 240.4v2.1M558.6 5.4v-2.1M567.7 240.4v2.1M567.7 5.4v-2.1M576.8 240.4v2.1M576.8 5.4v-2.1M585.8 240.4v4.3M585.8 5.4v-4.3M594.9 240.4v2.1M594.9 5.4v-2.1M604 240.4v2.1M604 5.4v-2.1M613 240.4v2.1M613 5.4v-2.1M622.1 240.4v2.1M622.1 5.4v-2.1M631.2 240.4v4.3M631.2 5.4v-4.3M640.2 240.4v2.1M640.2 5.4v-2.1M649.3 240.4v2.1M649.3 5.4v-2.1M658.4 240.4v2.1M658.4 5.4v-2.1M667.4 240.4v2.1M667.4 5.4v-2.1M676.5 240.4v4.3M676.5 5.4v-4.3M404.5 240.4h-4.9M676.5 240.4h4.9M404.5 236.5h-2.4M676.5 236.5h2.4M404.5 232.6h-2.4M676.5 232.6h2.4M404.5 228.7h-2.4M676.5 228.7h2.4M404.5 224.7h-2.4M676.5 224.7h2.4M404.5 220.8h-2.4M676.5 220.8h2.4M404.5 216.9h-2.4M676.5 216.9h2.4M404.5 213h-2.4M676.5 213h2.4M404.5 209.1h-2.4M676.5 209.1h2.4M404.5 205.2h-2.4M676.5 205.2h2.4M404.5 201.2h-4.9M676.5 201.2h4.9M404.5 197.3h-2.4M676.5 197.3h2.4M404.5 193.4h-2.4M676.5 193.4h2.4M404.5 189.5h-2.4M676.5 189.5h2.4M404.5 185.6h-2.4M676.5 185.6h2.4M404.5 181.7h-2.4M676.5 181.7h2.4M404.5 177.7h-2.4M676.5 177.7h2.4M404.5 173.8h-2.4M676.5 173.8h2.4M404.5 169.9h-2.4M676.5 169.9h2.4M404.5 166h-2.4M676.5 166h2.4M404.5 162.1h-4.9M676.5 162.1h4.9M404.5 158.2h-2.4M676.5 158.2h2.4M404.5 154.2h-2.4M676.5 154.2h2.4M404.5 150.3h-2.4M676.5 150.3h2.4M404.5 146.4h-2.4M676.5 146.4h2.4M404.5 142.5h-2.4M676.5 142.5h2.4M404.5 138.6h-2.4M676.5 138.6h2.4M404.5 134.7h-2.4M676.5 134.7h2.4M404.5 130.7h-2.4M676.5 130.7h2.4M404.5 126.8h-2.4M676.5 126.8h2.4M404.5 122.9h-4.9M676.5 122.9h4.9M404.5 119h-2.4M676.5 119h2.4M404.5 115.1h-2.4M676.5 115.1h2.4M404.5 111.2h-2.4M676.5 111.2h2.4M404.5 107.2h-2.4M676.5 107.2h2.4M404.5 103.3h-2.4M676.5 103.3h2.4M404.5 99.4h-2.4M676.5 99.4h2.4M404.5 95.5h-2.4M676.5 95.5h2.4M404.5 91.6h-2.4M676.5 91.6h2.4M404.5 87.7h-2.4M676.5 87.7h2.4M404.5 83.7h-4.9M676.5 83.7h4.9M404.5 79.8h-2.4M676.5 79.8h2.4M404.5 75.9h-2.4M676.5 75.9h2.4M404.5 72h-2.4M676.5 72h2.4M404.5 68.1h-2.4M676.5 68.1h2.4M404.5 64.2h-2.4M676.5 64.2h2.4M404.5 60.2h-2.4M676.5 60.2h2.4M404.5 56.3h-2.4M676.5 56.3h2.4M404.5 52.4h-2.4M676.5 52.4h2.4M404.5 48.5h-2.4M676.5 48.5h2.4M404.5 44.6h-4.9M676.5 44.6h4.9M404.5 40.7h-2.4M676.5 40.7h2.4M404.5 36.7h-2.4M676.5 36.7h2.4M404.5 32.8h-2.4M676.5 32.8h2.4M404.5 28.9h-2.4M676.5 28.9h2.4M404.5 25h-2.4M676.5 25h2.4M404.5 21.1h-2.4M676.5 21.1h2.4M404.5 17.2h-2.4M676.5 17.2h2.4M404.5 13.2h-2.4M676.5 13.2h2.4M404.5 9.3h-2.4M676.5 9.3h2.4M404.5 5.4h-4.9M676.5 5.4h4.9" stroke="#444" stroke-width="0.6" fill="none"/>
<rect x="404.5" y="5.4" width="272" height="235" fill="none" stroke="#444" stroke-width="0.9"/>
<text x="406.1" y="257.5" text-anchor="middle">0</text>
<text x="451.4" y="257.5" text-anchor="middle">5</text>
<text x="496.8" y="257.5" text-anchor="middle">10</text>
<text x="542.1" y="257.5" text-anchor="middle">15</text>
<text x="587.4" y="257.5" text-anchor="middle">20</text>
<text x="632.8" y="257.5" text-anchor="middle">25</text>
<text x="678.1" y="257.5" text-anchor="middle">30</text>
<text x="396.7" y="244.8" text-anchor="end">-10</text>
<text x="396.7" y="205.7" text-anchor="end">-5</text>
<text x="396.7" y="166.5" text-anchor="end">0</text>
<text x="396.7" y="127.4" text-anchor="end">5</text>
<text x="396.7" y="88.2" text-anchor="end">10</text>
<text x="396.7" y="49" text-anchor="end">15</text>
<text x="396.7" y="9.9" text-anchor="end">20</text>
<text x="540.5" y="275.7" text-anchor="middle"><tspan font-size="12.8">Δa</tspan><tspan dy="3.9" font-size="10.5">μ</tspan><tspan dy="-3.9" font-size="12.8"> [10</tspan><tspan dy="-4.6" font-size="10.8">-10</tspan><tspan dy="4.6" font-size="12.8">]</tspan></text>
<text transform="translate(364.8 122.9) rotate(-90)" text-anchor="middle">A<tspan dy="4.5" font-size="10">0</tspan><tspan dy="-4.5">/m</tspan><tspan dy="4.5" font-size="10">0</tspan></text>
<path d="M64.5 532.4v4.3M64.5 297.7v-4.3M73 532.4v2.1M73 297.7v-2.1M81.6 532.4v2.1M81.6 297.7v-2.1M90.1 532.4v2.1M90.1 297.7v-2.1M98.7 532.4v2.1M98.7 297.7v-2.1M107.2 532.4v4.3M107.2 297.7v-4.3M115.7 532.4v2.1M115.7 297.7v-2.1M124.3 532.4v2.1M124.3 297.7v-2.1M132.8 532.4v2.1M132.8 297.7v-2.1M141.4 532.4v2.1M141.4 297.7v-2.1M149.9 532.4v4.3M149.9 297.7v-4.3M158.4 532.4v2.1M158.4 297.7v-2.1M167 532.4v2.1M167 297.7v-2.1M175.5 532.4v2.1M175.5 297.7v-2.1M184.1 532.4v2.1M184.1 297.7v-2.1M192.6 532.4v4.3M192.6 297.7v-4.3M201.1 532.4v2.1M201.1 297.7v-2.1M209.7 532.4v2.1M209.7 297.7v-2.1M218.2 532.4v2.1M218.2 297.7v-2.1M226.8 532.4v2.1M226.8 297.7v-2.1M235.3 532.4v4.3M235.3 297.7v-4.3M243.8 532.4v2.1M243.8 297.7v-2.1M252.4 532.4v2.1M252.4 297.7v-2.1M260.9 532.4v2.1M260.9 297.7v-2.1M269.5 532.4v2.1M269.5 297.7v-2.1M278 532.4v4.3M278 297.7v-4.3M286.5 532.4v2.1M286.5 297.7v-2.1M295.1 532.4v2.1M295.1 297.7v-2.1M303.6 532.4v2.1M303.6 297.7v-2.1M312.2 532.4v2.1M312.2 297.7v-2.1M320.7 532.4v4.3M320.7 297.7v-4.3M64.5 532.4h-4.9M320.7 532.4h4.9M64.5 528.5h-2.4M320.7 528.5h2.4M64.5 524.6h-2.4M320.7 524.6h2.4M64.5 520.7h-2.4M320.7 520.7h2.4M64.5 516.8h-2.4M320.7 516.8h2.4M64.5 512.8h-2.4M320.7 512.8h2.4M64.5 508.9h-2.4M320.7 508.9h2.4M64.5 505h-2.4M320.7 505h2.4M64.5 501.1h-2.4M320.7 501.1h2.4M64.5 497.2h-2.4M320.7 497.2h2.4M64.5 493.3h-4.9M320.7 493.3h4.9M64.5 489.4h-2.4M320.7 489.4h2.4M64.5 485.5h-2.4M320.7 485.5h2.4M64.5 481.5h-2.4M320.7 481.5h2.4M64.5 477.6h-2.4M320.7 477.6h2.4M64.5 473.7h-2.4M320.7 473.7h2.4M64.5 469.8h-2.4M320.7 469.8h2.4M64.5 465.9h-2.4M320.7 465.9h2.4M64.5 462h-2.4M320.7 462h2.4M64.5 458.1h-2.4M320.7 458.1h2.4M64.5 454.2h-4.9M320.7 454.2h4.9M64.5 450.3h-2.4M320.7 450.3h2.4M64.5 446.3h-2.4M320.7 446.3h2.4M64.5 442.4h-2.4M320.7 442.4h2.4M64.5 438.5h-2.4M320.7 438.5h2.4M64.5 434.6h-2.4M320.7 434.6h2.4M64.5 430.7h-2.4M320.7 430.7h2.4M64.5 426.8h-2.4M320.7 426.8h2.4M64.5 422.9h-2.4M320.7 422.9h2.4M64.5 419h-2.4M320.7 419h2.4M64.5 415h-4.9M320.7 415h4.9M64.5 411.1h-2.4M320.7 411.1h2.4M64.5 407.2h-2.4M320.7 407.2h2.4M64.5 403.3h-2.4M320.7 403.3h2.4M64.5 399.4h-2.4M320.7 399.4h2.4M64.5 395.5h-2.4M320.7 395.5h2.4M64.5 391.6h-2.4M320.7 391.6h2.4M64.5 387.7h-2.4M320.7 387.7h2.4M64.5 383.8h-2.4M320.7 383.8h2.4M64.5 379.8h-2.4M320.7 379.8h2.4M64.5 375.9h-4.9M320.7 375.9h4.9M64.5 372h-2.4M320.7 372h2.4M64.5 368.1h-2.4M320.7 368.1h2.4M64.5 364.2h-2.4M320.7 364.2h2.4M64.5 360.3h-2.4M320.7 360.3h2.4M64.5 356.4h-2.4M320.7 356.4h2.4M64.5 352.5h-2.4M320.7 352.5h2.4M64.5 348.6h-2.4M320.7 348.6h2.4M64.5 344.6h-2.4M320.7 344.6h2.4M64.5 340.7h-2.4M320.7 340.7h2.4M64.5 336.8h-4.9M320.7 336.8h4.9M64.5 332.9h-2.4M320.7 332.9h2.4M64.5 329h-2.4M320.7 329h2.4M64.5 325.1h-2.4M320.7 325.1h2.4M64.5 321.2h-2.4M320.7 321.2h2.4M64.5 317.3h-2.4M320.7 317.3h2.4M64.5 313.3h-2.4M320.7 313.3h2.4M64.5 309.4h-2.4M320.7 309.4h2.4M64.5 305.5h-2.4M320.7 305.5h2.4M64.5 301.6h-2.4M320.7 301.6h2.4M64.5 297.7h-4.9M320.7 297.7h4.9" stroke="#444" stroke-width="0.6" fill="none"/>
<rect x="64.5" y="297.7" width="256.2" height="234.7" fill="none" stroke="#444" stroke-width="0.9"/>
<text x="66.1" y="549.5" text-anchor="middle">0</text>
<text x="108.8" y="549.5" text-anchor="middle">5</text>
<text x="151.5" y="549.5" text-anchor="middle">10</text>
<text x="194.2" y="549.5" text-anchor="middle">15</text>
<text x="236.9" y="549.5" text-anchor="middle">20</text>
<text x="279.6" y="549.5" text-anchor="middle">25</text>
<text x="322.3" y="549.5" text-anchor="middle">30</text>
<text x="56.7" y="536.9" text-anchor="end">0</text>
<text x="56.7" y="497.7" text-anchor="end">1000</text>
<text x="56.7" y="458.6" text-anchor="end">2000</text>
<text x="56.7" y="419.5" text-anchor="end">3000</text>
<text x="56.7" y="380.4" text-anchor="end">4000</text>
<text x="56.7" y="341.3" text-anchor="end">5000</text>
<text x="56.7" y="302.1" text-anchor="end">6000</text>
<text x="192.6" y="567.7" text-anchor="middle"><tspan font-size="12.8">Δa</tspan><tspan dy="3.9" font-size="10.5">μ</tspan><tspan dy="-3.9" font-size="12.8"> [10</tspan><tspan dy="-4.6" font-size="10.8">-10</tspan><tspan dy="4.6" font-size="12.8">]</tspan></text>
<text transform="translate(10.9 415) rotate(-90)" text-anchor="middle">m<tspan dy="4.5" font-size="10">0</tspan><tspan dy="-4.5"> [GeV]</tspan></text>
<path d="M419.9 532.4v4.3M419.9 297.7v-4.3M428.5 532.4v2.1M428.5 297.7v-2.1M437 532.4v2.1M437 297.7v-2.1M445.6 532.4v2.1M445.6 297.7v-2.1M454.1 532.4v2.1M454.1 297.7v-2.1M462.7 532.4v4.3M462.7 297.7v-4.3M471.2 532.4v2.1M471.2 297.7v-2.1M479.8 532.4v2.1M479.8 297.7v-2.1M488.3 532.4v2.1M488.3 297.7v-2.1M496.9 532.4v2.1M496.9 297.7v-2.1M505.4 532.4v4.3M505.4 297.7v-4.3M514 532.4v2.1M514 297.7v-2.1M522.5 532.4v2.1M522.5 297.7v-2.1M531.1 532.4v2.1M531.1 297.7v-2.1M539.6 532.4v2.1M539.6 297.7v-2.1M548.2 532.4v4.3M548.2 297.7v-4.3M556.8 532.4v2.1M556.8 297.7v-2.1M565.3 532.4v2.1M565.3 297.7v-2.1M573.9 532.4v2.1M573.9 297.7v-2.1M582.4 532.4v2.1M582.4 297.7v-2.1M591 532.4v4.3M591 297.7v-4.3M599.5 532.4v2.1M599.5 297.7v-2.1M608.1 532.4v2.1M608.1 297.7v-2.1M616.6 532.4v2.1M616.6 297.7v-2.1M625.2 532.4v2.1M625.2 297.7v-2.1M633.7 532.4v4.3M633.7 297.7v-4.3M642.3 532.4v2.1M642.3 297.7v-2.1M650.8 532.4v2.1M650.8 297.7v-2.1M659.4 532.4v2.1M659.4 297.7v-2.1M667.9 532.4v2.1M667.9 297.7v-2.1M676.5 532.4v4.3M676.5 297.7v-4.3M419.9 532.4h-4.9M676.5 532.4h4.9M419.9 528.5h-2.4M676.5 528.5h2.4M419.9 524.6h-2.4M676.5 524.6h2.4M419.9 520.7h-2.4M676.5 520.7h2.4M419.9 516.8h-2.4M676.5 516.8h2.4M419.9 512.8h-2.4M676.5 512.8h2.4M419.9 508.9h-2.4M676.5 508.9h2.4M419.9 505h-2.4M676.5 505h2.4M419.9 501.1h-2.4M676.5 501.1h2.4M419.9 497.2h-2.4M676.5 497.2h2.4M419.9 493.3h-4.9M676.5 493.3h4.9M419.9 489.4h-2.4M676.5 489.4h2.4M419.9 485.5h-2.4M676.5 485.5h2.4M419.9 481.5h-2.4M676.5 481.5h2.4M419.9 477.6h-2.4M676.5 477.6h2.4M419.9 473.7h-2.4M676.5 473.7h2.4M419.9 469.8h-2.4M676.5 469.8h2.4M419.9 465.9h-2.4M676.5 465.9h2.4M419.9 462h-2.4M676.5 462h2.4M419.9 458.1h-2.4M676.5 458.1h2.4M419.9 454.2h-4.9M676.5 454.2h4.9M419.9 450.3h-2.4M676.5 450.3h2.4M419.9 446.3h-2.4M676.5 446.3h2.4M419.9 442.4h-2.4M676.5 442.4h2.4M419.9 438.5h-2.4M676.5 438.5h2.4M419.9 434.6h-2.4M676.5 434.6h2.4M419.9 430.7h-2.4M676.5 430.7h2.4M419.9 426.8h-2.4M676.5 426.8h2.4M419.9 422.9h-2.4M676.5 422.9h2.4M419.9 419h-2.4M676.5 419h2.4M419.9 415h-4.9M676.5 415h4.9M419.9 411.1h-2.4M676.5 411.1h2.4M419.9 407.2h-2.4M676.5 407.2h2.4M419.9 403.3h-2.4M676.5 403.3h2.4M419.9 399.4h-2.4M676.5 399.4h2.4M419.9 395.5h-2.4M676.5 395.5h2.4M419.9 391.6h-2.4M676.5 391.6h2.4M419.9 387.7h-2.4M676.5 387.7h2.4M419.9 383.8h-2.4M676.5 383.8h2.4M419.9 379.8h-2.4M676.5 379.8h2.4M419.9 375.9h-4.9M676.5 375.9h4.9M419.9 372h-2.4M676.5 372h2.4M419.9 368.1h-2.4M676.5 368.1h2.4M419.9 364.2h-2.4M676.5 364.2h2.4M419.9 360.3h-2.4M676.5 360.3h2.4M419.9 356.4h-2.4M676.5 356.4h2.4M419.9 352.5h-2.4M676.5 352.5h2.4M419.9 348.6h-2.4M676.5 348.6h2.4M419.9 344.6h-2.4M676.5 344.6h2.4M419.9 340.7h-2.4M676.5 340.7h2.4M419.9 336.8h-4.9M676.5 336.8h4.9M419.9 332.9h-2.4M676.5 332.9h2.4M419.9 329h-2.4M676.5 329h2.4M419.9 325.1h-2.4M676.5 325.1h2.4M419.9 321.2h-2.4M676.5 321.2h2.4M419.9 317.3h-2.4M676.5 317.3h2.4M419.9 313.3h-2.4M676.5 313.3h2.4M419.9 309.4h-2.4M676.5 309.4h2.4M419.9 305.5h-2.4M676.5 305.5h2.4M419.9 301.6h-2.4M676.5 301.6h2.4M419.9 297.7h-4.9M676.5 297.7h4.9" stroke="#444" stroke-width="0.6" fill="none"/>
<rect x="419.9" y="297.7" width="256.6" height="234.7" fill="none" stroke="#444" stroke-width="0.9"/>
<text x="421.5" y="549.5" text-anchor="middle">0</text>
<text x="464.3" y="549.5" text-anchor="middle">5</text>
<text x="507" y="549.5" text-anchor="middle">10</text>
<text x="549.8" y="549.5" text-anchor="middle">15</text>
<text x="592.6" y="549.5" text-anchor="middle">20</text>
<text x="635.3" y="549.5" text-anchor="middle">25</text>
<text x="678.1" y="549.5" text-anchor="middle">30</text>
<text x="412.1" y="536.9" text-anchor="end">0</text>
<text x="412.1" y="497.7" text-anchor="end">1000</text>
<text x="412.1" y="458.6" text-anchor="end">2000</text>
<text x="412.1" y="419.5" text-anchor="end">3000</text>
<text x="412.1" y="380.4" text-anchor="end">4000</text>
<text x="412.1" y="341.3" text-anchor="end">5000</text>
<text x="412.1" y="302.1" text-anchor="end">6000</text>
<text x="548.2" y="567.7" text-anchor="middle"><tspan font-size="12.8">Δa</tspan><tspan dy="3.9" font-size="10.5">μ</tspan><tspan dy="-3.9" font-size="12.8"> [10</tspan><tspan dy="-4.6" font-size="10.8">-10</tspan><tspan dy="4.6" font-size="12.8">]</tspan></text>
<text transform="translate(366 415) rotate(-90)" text-anchor="middle">m<tspan dy="4.5" font-size="10">0</tspan><tspan dy="-4.5"> [GeV]</tspan></text>
<path d="M49.5 824.6v4.3M49.5 589.8v-4.3M58.5 824.6v2.1M58.5 589.8v-2.1M67.6 824.6v2.1M67.6 589.8v-2.1M76.6 824.6v2.1M76.6 589.8v-2.1M85.7 824.6v2.1M85.7 589.8v-2.1M94.7 824.6v4.3M94.7 589.8v-4.3M103.7 824.6v2.1M103.7 589.8v-2.1M112.8 824.6v2.1M112.8 589.8v-2.1M121.8 824.6v2.1M121.8 589.8v-2.1M130.9 824.6v2.1M130.9 589.8v-2.1M139.9 824.6v4.3M139.9 589.8v-4.3M148.9 824.6v2.1M148.9 589.8v-2.1M158 824.6v2.1M158 589.8v-2.1M167 824.6v2.1M167 589.8v-2.1M176.1 824.6v2.1M176.1 589.8v-2.1M185.1 824.6v4.3M185.1 589.8v-4.3M194.1 824.6v2.1M194.1 589.8v-2.1M203.2 824.6v2.1M203.2 589.8v-2.1M212.2 824.6v2.1M212.2 589.8v-2.1M221.3 824.6v2.1M221.3 589.8v-2.1M230.3 824.6v4.3M230.3 589.8v-4.3M239.3 824.6v2.1M239.3 589.8v-2.1M248.4 824.6v2.1M248.4 589.8v-2.1M257.4 824.6v2.1M257.4 589.8v-2.1M266.5 824.6v2.1M266.5 589.8v-2.1M275.5 824.6v4.3M275.5 589.8v-4.3M284.5 824.6v2.1M284.5 589.8v-2.1M293.6 824.6v2.1M293.6 589.8v-2.1M302.6 824.6v2.1M302.6 589.8v-2.1M311.7 824.6v2.1M311.7 589.8v-2.1M320.7 824.6v4.3M320.7 589.8v-4.3M49.5 824.6h-4.9M320.7 824.6h4.9M49.5 822.3h-2.4M320.7 822.3h2.4M49.5 819.9h-2.4M320.7 819.9h2.4M49.5 817.6h-2.4M320.7 817.6h2.4M49.5 815.2h-2.4M320.7 815.2h2.4M49.5 812.9h-2.4M320.7 812.9h2.4M49.5 810.5h-2.4M320.7 810.5h2.4M49.5 808.2h-2.4M320.7 808.2h2.4M49.5 805.8h-2.4M320.7 805.8h2.4M49.5 803.5h-2.4M320.7 803.5h2.4M49.5 801.1h-4.9M320.7 801.1h4.9M49.5 798.8h-2.4M320.7 798.8h2.4M49.5 796.4h-2.4M320.7 796.4h2.4M49.5 794.1h-2.4M320.7 794.1h2.4M49.5 791.7h-2.4M320.7 791.7h2.4M49.5 789.4h-2.4M320.7 789.4h2.4M49.5 787h-2.4M320.7 787h2.4M49.5 784.7h-2.4M320.7 784.7h2.4M49.5 782.3h-2.4M320.7 782.3h2.4M49.5 780h-2.4M320.7 780h2.4M49.5 777.6h-4.9M320.7 777.6h4.9M49.5 775.3h-2.4M320.7 775.3h2.4M49.5 772.9h-2.4M320.7 772.9h2.4M49.5 770.6h-2.4M320.7 770.6h2.4M49.5 768.2h-2.4M320.7 768.2h2.4M49.5 765.9h-2.4M320.7 765.9h2.4M49.5 763.6h-2.4M320.7 763.6h2.4M49.5 761.2h-2.4M320.7 761.2h2.4M49.5 758.9h-2.4M320.7 758.9h2.4M49.5 756.5h-2.4M320.7 756.5h2.4M49.5 754.2h-4.9M320.7 754.2h4.9M49.5 751.8h-2.4M320.7 751.8h2.4M49.5 749.5h-2.4M320.7 749.5h2.4M49.5 747.1h-2.4M320.7 747.1h2.4M49.5 744.8h-2.4M320.7 744.8h2.4M49.5 742.4h-2.4M320.7 742.4h2.4M49.5 740.1h-2.4M320.7 740.1h2.4M49.5 737.7h-2.4M320.7 737.7h2.4M49.5 735.4h-2.4M320.7 735.4h2.4M49.5 733h-2.4M320.7 733h2.4M49.5 730.7h-4.9M320.7 730.7h4.9M49.5 728.3h-2.4M320.7 728.3h2.4M49.5 726h-2.4M320.7 726h2.4M49.5 723.6h-2.4M320.7 723.6h2.4M49.5 721.3h-2.4M320.7 721.3h2.4M49.5 718.9h-2.4M320.7 718.9h2.4M49.5 716.6h-2.4M320.7 716.6h2.4M49.5 714.2h-2.4M320.7 714.2h2.4M49.5 711.9h-2.4M320.7 711.9h2.4M49.5 709.5h-2.4M320.7 709.5h2.4M49.5 707.2h-4.9M320.7 707.2h4.9M49.5 704.9h-2.4M320.7 704.9h2.4M49.5 702.5h-2.4M320.7 702.5h2.4M49.5 700.2h-2.4M320.7 700.2h2.4M49.5 697.8h-2.4M320.7 697.8h2.4M49.5 695.5h-2.4M320.7 695.5h2.4M49.5 693.1h-2.4M320.7 693.1h2.4M49.5 690.8h-2.4M320.7 690.8h2.4M49.5 688.4h-2.4M320.7 688.4h2.4M49.5 686.1h-2.4M320.7 686.1h2.4M49.5 683.7h-4.9M320.7 683.7h4.9M49.5 681.4h-2.4M320.7 681.4h2.4M49.5 679h-2.4M320.7 679h2.4M49.5 676.7h-2.4M320.7 676.7h2.4M49.5 674.3h-2.4M320.7 674.3h2.4M49.5 672h-2.4M320.7 672h2.4M49.5 669.6h-2.4M320.7 669.6h2.4M49.5 667.3h-2.4M320.7 667.3h2.4M49.5 664.9h-2.4M320.7 664.9h2.4M49.5 662.6h-2.4M320.7 662.6h2.4M49.5 660.2h-4.9M320.7 660.2h4.9M49.5 657.9h-2.4M320.7 657.9h2.4M49.5 655.5h-2.4M320.7 655.5h2.4M49.5 653.2h-2.4M320.7 653.2h2.4M49.5 650.8h-2.4M320.7 650.8h2.4M49.5 648.5h-2.4M320.7 648.5h2.4M49.5 646.2h-2.4M320.7 646.2h2.4M49.5 643.8h-2.4M320.7 643.8h2.4M49.5 641.5h-2.4M320.7 641.5h2.4M49.5 639.1h-2.4M320.7 639.1h2.4M49.5 636.8h-4.9M320.7 636.8h4.9M49.5 634.4h-2.4M320.7 634.4h2.4M49.5 632.1h-2.4M320.7 632.1h2.4M49.5 629.7h-2.4M320.7 629.7h2.4M49.5 627.4h-2.4M320.7 627.4h2.4M49.5 625h-2.4M320.7 625h2.4M49.5 622.7h-2.4M320.7 622.7h2.4M49.5 620.3h-2.4M320.7 620.3h2.4M49.5 618h-2.4M320.7 618h2.4M49.5 615.6h-2.4M320.7 615.6h2.4M49.5 613.3h-4.9M320.7 613.3h4.9M49.5 610.9h-2.4M320.7 610.9h2.4M49.5 608.6h-2.4M320.7 608.6h2.4M49.5 606.2h-2.4M320.7 606.2h2.4M49.5 603.9h-2.4M320.7 603.9h2.4M49.5 601.5h-2.4M320.7 601.5h2.4M49.5 599.2h-2.4M320.7 599.2h2.4M49.5 596.8h-2.4M320.7 596.8h2.4M49.5 594.5h-2.4M320.7 594.5h2.4M49.5 592.1h-2.4M320.7 592.1h2.4M49.5 589.8h-4.9M320.7 589.8h4.9" stroke="#444" stroke-width="0.6" fill="none"/>
<rect x="49.5" y="589.8" width="271.2" height="234.8" fill="none" stroke="#444" stroke-width="0.9"/>
<text x="51.1" y="841.7" text-anchor="middle">0</text>
<text x="96.3" y="841.7" text-anchor="middle">5</text>
<text x="141.5" y="841.7" text-anchor="middle">10</text>
<text x="186.7" y="841.7" text-anchor="middle">15</text>
<text x="231.9" y="841.7" text-anchor="middle">20</text>
<text x="277.1" y="841.7" text-anchor="middle">25</text>
<text x="322.3" y="841.7" text-anchor="middle">30</text>
<text x="41.7" y="829.1" text-anchor="end">2</text>
<text x="41.7" y="805.6" text-anchor="end">4</text>
<text x="41.7" y="782.1" text-anchor="end">6</text>
<text x="41.7" y="758.6" text-anchor="end">8</text>
<text x="41.7" y="735.1" text-anchor="end">10</text>
<text x="41.7" y="711.7" text-anchor="end">12</text>
<text x="41.7" y="688.2" text-anchor="end">14</text>
<text x="41.7" y="664.7" text-anchor="end">16</text>
<text x="41.7" y="641.2" text-anchor="end">18</text>
<text x="41.7" y="617.7" text-anchor="end">20</text>
<text x="41.7" y="594.2" text-anchor="end">22</text>
<text x="185.1" y="859.9" text-anchor="middle"><tspan font-size="12.8">Δa</tspan><tspan dy="3.9" font-size="10.5">μ</tspan><tspan dy="-3.9" font-size="12.8"> [10</tspan><tspan dy="-4.6" font-size="10.8">-10</tspan><tspan dy="4.6" font-size="12.8">]</tspan></text>
<text transform="translate(11.3 707.2) rotate(-90)" text-anchor="middle">tanβ</text>
<path d="M404.5 824.6v4.3M404.5 589.8v-4.3M413.6 824.6v2.1M413.6 589.8v-2.1M422.6 824.6v2.1M422.6 589.8v-2.1M431.7 824.6v2.1M431.7 589.8v-2.1M440.8 824.6v2.1M440.8 589.8v-2.1M449.8 824.6v4.3M449.8 589.8v-4.3M458.9 824.6v2.1M458.9 589.8v-2.1M468 824.6v2.1M468 589.8v-2.1M477 824.6v2.1M477 589.8v-2.1M486.1 824.6v2.1M486.1 589.8v-2.1M495.2 824.6v4.3M495.2 589.8v-4.3M504.2 824.6v2.1M504.2 589.8v-2.1M513.3 824.6v2.1M513.3 589.8v-2.1M522.4 824.6v2.1M522.4 589.8v-2.1M531.4 824.6v2.1M531.4 589.8v-2.1M540.5 824.6v4.3M540.5 589.8v-4.3M549.6 824.6v2.1M549.6 589.8v-2.1M558.6 824.6v2.1M558.6 589.8v-2.1M567.7 824.6v2.1M567.7 589.8v-2.1M576.8 824.6v2.1M576.8 589.8v-2.1M585.8 824.6v4.3M585.8 589.8v-4.3M594.9 824.6v2.1M594.9 589.8v-2.1M604 824.6v2.1M604 589.8v-2.1M613 824.6v2.1M613 589.8v-2.1M622.1 824.6v2.1M622.1 589.8v-2.1M631.2 824.6v4.3M631.2 589.8v-4.3M640.2 824.6v2.1M640.2 589.8v-2.1M649.3 824.6v2.1M649.3 589.8v-2.1M658.4 824.6v2.1M658.4 589.8v-2.1M667.4 824.6v2.1M667.4 589.8v-2.1M676.5 824.6v4.3M676.5 589.8v-4.3M404.5 824.6h-4.9M676.5 824.6h4.9M404.5 822.3h-2.4M676.5 822.3h2.4M404.5 819.9h-2.4M676.5 819.9h2.4M404.5 817.6h-2.4M676.5 817.6h2.4M404.5 815.2h-2.4M676.5 815.2h2.4M404.5 812.9h-2.4M676.5 812.9h2.4M404.5 810.5h-2.4M676.5 810.5h2.4M404.5 808.2h-2.4M676.5 808.2h2.4M404.5 805.8h-2.4M676.5 805.8h2.4M404.5 803.5h-2.4M676.5 803.5h2.4M404.5 801.1h-4.9M676.5 801.1h4.9M404.5 798.8h-2.4M676.5 798.8h2.4M404.5 796.4h-2.4M676.5 796.4h2.4M404.5 794.1h-2.4M676.5 794.1h2.4M404.5 791.7h-2.4M676.5 791.7h2.4M404.5 789.4h-2.4M676.5 789.4h2.4M404.5 787h-2.4M676.5 787h2.4M404.5 784.7h-2.4M676.5 784.7h2.4M404.5 782.3h-2.4M676.5 782.3h2.4M404.5 780h-2.4M676.5 780h2.4M404.5 777.6h-4.9M676.5 777.6h4.9M404.5 775.3h-2.4M676.5 775.3h2.4M404.5 772.9h-2.4M676.5 772.9h2.4M404.5 770.6h-2.4M676.5 770.6h2.4M404.5 768.2h-2.4M676.5 768.2h2.4M404.5 765.9h-2.4M676.5 765.9h2.4M404.5 763.6h-2.4M676.5 763.6h2.4M404.5 761.2h-2.4M676.5 761.2h2.4M404.5 758.9h-2.4M676.5 758.9h2.4M404.5 756.5h-2.4M676.5 756.5h2.4M404.5 754.2h-4.9M676.5 754.2h4.9M404.5 751.8h-2.4M676.5 751.8h2.4M404.5 749.5h-2.4M676.5 749.5h2.4M404.5 747.1h-2.4M676.5 747.1h2.4M404.5 744.8h-2.4M676.5 744.8h2.4M404.5 742.4h-2.4M676.5 742.4h2.4M404.5 740.1h-2.4M676.5 740.1h2.4M404.5 737.7h-2.4M676.5 737.7h2.4M404.5 735.4h-2.4M676.5 735.4h2.4M404.5 733h-2.4M676.5 733h2.4M404.5 730.7h-4.9M676.5 730.7h4.9M404.5 728.3h-2.4M676.5 728.3h2.4M404.5 726h-2.4M676.5 726h2.4M404.5 723.6h-2.4M676.5 723.6h2.4M404.5 721.3h-2.4M676.5 721.3h2.4M404.5 718.9h-2.4M676.5 718.9h2.4M404.5 716.6h-2.4M676.5 716.6h2.4M404.5 714.2h-2.4M676.5 714.2h2.4M404.5 711.9h-2.4M676.5 711.9h2.4M404.5 709.5h-2.4M676.5 709.5h2.4M404.5 707.2h-4.9M676.5 707.2h4.9M404.5 704.9h-2.4M676.5 704.9h2.4M404.5 702.5h-2.4M676.5 702.5h2.4M404.5 700.2h-2.4M676.5 700.2h2.4M404.5 697.8h-2.4M676.5 697.8h2.4M404.5 695.5h-2.4M676.5 695.5h2.4M404.5 693.1h-2.4M676.5 693.1h2.4M404.5 690.8h-2.4M676.5 690.8h2.4M404.5 688.4h-2.4M676.5 688.4h2.4M404.5 686.1h-2.4M676.5 686.1h2.4M404.5 683.7h-4.9M676.5 683.7h4.9M404.5 681.4h-2.4M676.5 681.4h2.4M404.5 679h-2.4M676.5 679h2.4M404.5 676.7h-2.4M676.5 676.7h2.4M404.5 674.3h-2.4M676.5 674.3h2.4M404.5 672h-2.4M676.5 672h2.4M404.5 669.6h-2.4M676.5 669.6h2.4M404.5 667.3h-2.4M676.5 667.3h2.4M404.5 664.9h-2.4M676.5 664.9h2.4M404.5 662.6h-2.4M676.5 662.6h2.4M404.5 660.2h-4.9M676.5 660.2h4.9M404.5 657.9h-2.4M676.5 657.9h2.4M404.5 655.5h-2.4M676.5 655.5h2.4M404.5 653.2h-2.4M676.5 653.2h2.4M404.5 650.8h-2.4M676.5 650.8h2.4M404.5 648.5h-2.4M676.5 648.5h2.4M404.5 646.2h-2.4M676.5 646.2h2.4M404.5 643.8h-2.4M676.5 643.8h2.4M404.5 641.5h-2.4M676.5 641.5h2.4M404.5 639.1h-2.4M676.5 639.1h2.4M404.5 636.8h-4.9M676.5 636.8h4.9M404.5 634.4h-2.4M676.5 634.4h2.4M404.5 632.1h-2.4M676.5 632.1h2.4M404.5 629.7h-2.4M676.5 629.7h2.4M404.5 627.4h-2.4M676.5 627.4h2.4M404.5 625h-2.4M676.5 625h2.4M404.5 622.7h-2.4M676.5 622.7h2.4M404.5 620.3h-2.4M676.5 620.3h2.4M404.5 618h-2.4M676.5 618h2.4M404.5 615.6h-2.4M676.5 615.6h2.4M404.5 613.3h-4.9M676.5 613.3h4.9M404.5 610.9h-2.4M676.5 610.9h2.4M404.5 608.6h-2.4M676.5 608.6h2.4M404.5 606.2h-2.4M676.5 606.2h2.4M404.5 603.9h-2.4M676.5 603.9h2.4M404.5 601.5h-2.4M676.5 601.5h2.4M404.5 599.2h-2.4M676.5 599.2h2.4M404.5 596.8h-2.4M676.5 596.8h2.4M404.5 594.5h-2.4M676.5 594.5h2.4M404.5 592.1h-2.4M676.5 592.1h2.4M404.5 589.8h-4.9M676.5 589.8h4.9" stroke="#444" stroke-width="0.6" fill="none"/>
<rect x="404.5" y="589.8" width="272" height="234.8" fill="none" stroke="#444" stroke-width="0.9"/>
<text x="406.1" y="841.7" text-anchor="middle">0</text>
<text x="451.4" y="841.7" text-anchor="middle">5</text>
<text x="496.8" y="841.7" text-anchor="middle">10</text>
<text x="542.1" y="841.7" text-anchor="middle">15</text>
<text x="587.4" y="841.7" text-anchor="middle">20</text>
<text x="632.8" y="841.7" text-anchor="middle">25</text>
<text x="678.1" y="841.7" text-anchor="middle">30</text>
<text x="396.7" y="829.1" text-anchor="end">2</text>
<text x="396.7" y="805.6" text-anchor="end">4</text>
<text x="396.7" y="782.1" text-anchor="end">6</text>
<text x="396.7" y="758.6" text-anchor="end">8</text>
<text x="396.7" y="735.1" text-anchor="end">10</text>
<text x="396.7" y="711.7" text-anchor="end">12</text>
<text x="396.7" y="688.2" text-anchor="end">14</text>
<text x="396.7" y="664.7" text-anchor="end">16</text>
<text x="396.7" y="641.2" text-anchor="end">18</text>
<text x="396.7" y="617.7" text-anchor="end">20</text>
<text x="396.7" y="594.2" text-anchor="end">22</text>
<text x="540.5" y="859.9" text-anchor="middle"><tspan font-size="12.8">Δa</tspan><tspan dy="3.9" font-size="10.5">μ</tspan><tspan dy="-3.9" font-size="12.8"> [10</tspan><tspan dy="-4.6" font-size="10.8">-10</tspan><tspan dy="4.6" font-size="12.8">]</tspan></text>
<text transform="translate(366.4 707.2) rotate(-90)" text-anchor="middle">tanβ</text>
</svg>
</body></html>
